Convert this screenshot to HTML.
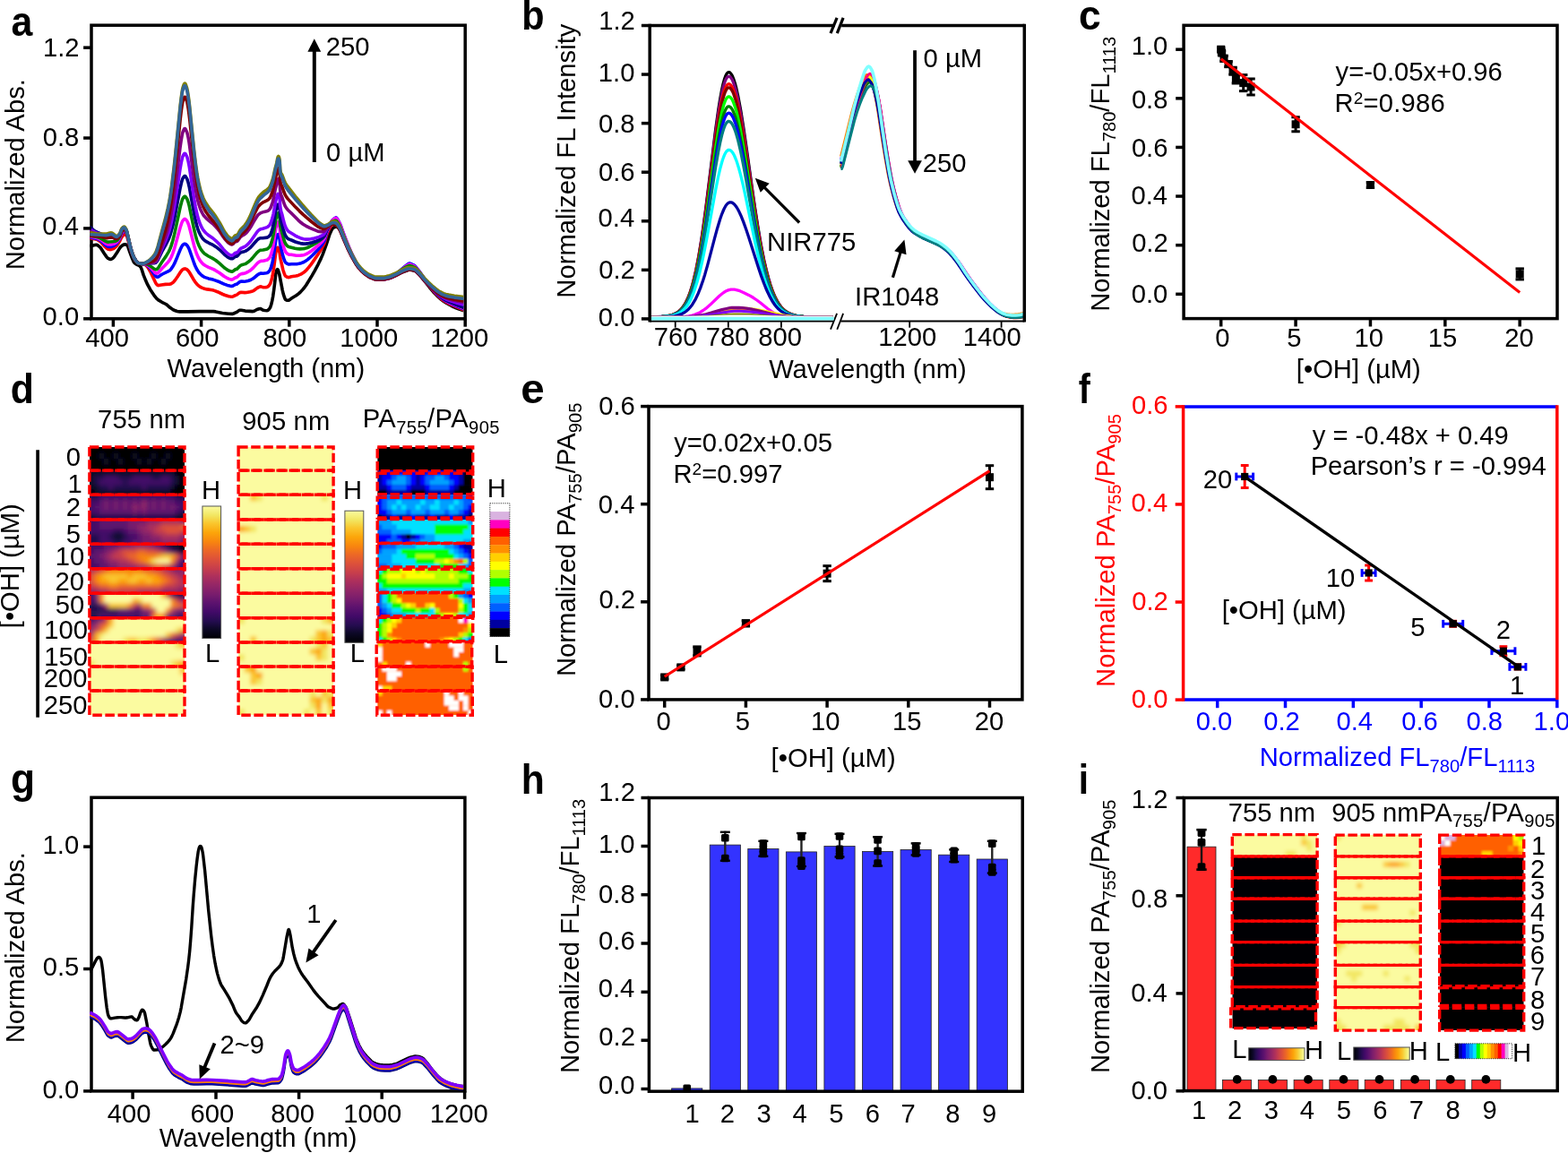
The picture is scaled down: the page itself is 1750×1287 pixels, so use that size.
<!DOCTYPE html>
<html lang="en"><head><meta charset="utf-8"><title>Figure</title>
<style>
html,body{margin:0;padding:0;background:#fff;}
body{width:1750px;height:1287px;overflow:hidden;}
svg{display:block;font-family:"Liberation Sans",Arial,Helvetica,sans-serif;}
svg text{white-space:pre;}
</style></head>
<body>
<svg width="1750" height="1287" viewBox="0 0 1750 1287">
<rect width="1750" height="1287" fill="#fff"/>
<defs><filter id="blur1_0" x="-10%" y="-50%" width="120%" height="200%"><feGaussianBlur stdDeviation="1.0"/></filter><filter id="blur1_2" x="-10%" y="-50%" width="120%" height="200%"><feGaussianBlur stdDeviation="1.2"/></filter><filter id="blur1_6" x="-10%" y="-50%" width="120%" height="200%"><feGaussianBlur stdDeviation="1.6"/></filter><filter id="blur2_0" x="-10%" y="-50%" width="120%" height="200%"><feGaussianBlur stdDeviation="2.0"/></filter><filter id="blur2_4" x="-10%" y="-50%" width="120%" height="200%"><feGaussianBlur stdDeviation="2.4"/></filter><filter id="blur3_0" x="-10%" y="-50%" width="120%" height="200%"><feGaussianBlur stdDeviation="3.0"/></filter></defs>
<text x="12.52" y="39.6" font-size="46" text-anchor="start" font-weight="bold" textLength="23.81" lengthAdjust="spacingAndGlyphs">a</text>
<text x="27.2" y="301.27" font-size="29.2" text-anchor="start" transform="rotate(-90 27.2 301.27)" textLength="213.19" lengthAdjust="spacing">Normalized Abs.</text>
<text x="186.48" y="421.1" font-size="29.2" text-anchor="start" textLength="220.66" lengthAdjust="spacing">Wavelength (nm)</text>
<clipPath id="clipA"><rect x="100.2" y="28.2" width="417.20000000000005" height="327.6"/></clipPath>
<rect x="102" y="28.2" width="417.2" height="327.6" fill="none" stroke="#000" stroke-width="3.5" />
<g clip-path="url(#clipA)">
<path d="M100.2 274.5L102.7 274.3L105.7 273.5L107.2 273.2L108.2 273.3L109.2 273.8L111.7 276L112.7 277.2L116.2 282.8L118.7 286.4L119.7 287.6L120.2 288.1L121.2 288.7L122.2 289.2L123.2 289.4L124.2 289.3L125.2 288.7L126.2 288L127.2 287L130.7 281.8L133.7 276.9L134.7 275.6L135.2 275.1L137.2 273.5L138.7 272.8L139.2 272.7L140.2 272.8L141.7 273.5L142.2 274L142.7 274.9L144.7 280.8L147.7 288.8L149.2 292.2L149.7 293.1L150.7 294.1L152.2 295.1L155.2 296.4L156.2 297.2L157.2 298.3L158.2 300.8L160.2 307.1L162.7 313.3L164.7 317.7L167.7 323.2L172.7 330.7L174.7 333.2L176.7 334.9L180.7 337.3L185.2 339.5L186.7 340.7L189.7 343.3L192.7 345.4L194.2 346.3L197.7 347.5L199.2 347.8L200.2 347.9L209.2 347.9L222.7 347.6L238.2 347.6L240.7 347.9L248.2 349.5L255.2 350.2L259.2 350.4L260.7 350L263.7 348.7L264.7 348.1L266.7 346.6L267.7 346.2L269.2 346.3L273.7 347.1L278.7 347.4L282.2 347.6L282.7 347.5L283.7 347.2L286.7 345.5L289.2 344.7L290.2 344.6L290.7 344.6L291.2 344.7L293.2 346L293.7 346.2L295.7 346.5L298.2 346.7L298.7 346.5L299.7 345.8L300.7 344.6L301.7 343L302.7 340L303.7 335.9L304.7 330.6L305.7 323.5L306.7 315.5L307.7 306.1L308.2 303.8L308.7 302.2L309.2 301L309.7 300.6L310.2 301.2L310.7 302.4L311.7 305.7L315.2 323.8L316.2 328.1L317.7 332.6L318.2 333.7L318.7 334.4L319.7 335L320.7 335.3L321.7 335.3L322.2 335.2L323.2 334.6L325.7 332.8L330.7 329.8L333.2 327.9L335.2 326.1L337.7 323.4L339.7 321L341.7 318.2L348.2 307.6L351.2 302.3L355.2 294.8L358.2 288.6L360.2 283.9L364.2 272.9L367.7 262.1L369.7 257.5L370.7 255.6L371.2 254.9L371.7 254.4L372.7 253.9L374.2 253.3L375.2 253.2L375.7 253.2L376.7 253.7L378.2 254.9L379.2 256L379.7 256.9L380.7 259L383.2 265.3L387.2 274.7L389.7 280.2L393.2 287.1L396.2 292.5L398.2 295.8L400.7 299.2L403.7 302.4L406.7 305.1L411.2 308.6L412.7 309.5L414.7 310.4L417.2 311.4L418.7 311.8L420.2 312L428.2 311.9L431.2 311.3L434.2 310.5L436.2 309.8L442.7 307L449.2 303.7L454.7 301.7L456.2 301.3L458.2 301.3L460.7 301.7L462.7 302.2L463.7 302.7L464.7 303.5L468.2 306.8L470.2 309.1L479.2 320.5L483.7 325.9L487.7 330.1L492.2 334.1L494.7 336L497.7 337.9L502.2 340.5L505.7 342.3L508.2 343.5L511.7 344.8L514.7 345.8L517.7 346.7" fill="none" stroke="#000000" stroke-width="3.6" stroke-linejoin="round" />
<path d="M100.2 265.3L102.7 266.2L107.7 267.2L109.2 267.9L111.7 269.6L112.7 270.4L116.2 274.4L119.2 277.3L120.7 278.2L122.2 278.5L123.2 278.6L124.2 278.4L126.7 277.5L127.7 276.8L129.2 275.5L130.7 273.8L131.7 272.4L133.7 269.1L135.7 264.8L137.2 262.8L138.2 261.9L138.7 261.6L139.2 261.6L140.2 262.1L141.2 263L141.7 264L142.2 265.4L145.7 277.9L146.7 281.2L148.7 286.4L150.2 289.2L152.2 291.9L153.7 293.3L154.2 293.6L156.2 294.2L160.2 294.8L161.2 295L162.7 295.9L163.7 296.9L165.7 299.5L167.7 303L173.7 315.7L174.7 317.2L175.2 317.8L176.2 318.5L176.7 318.6L177.2 318.6L180.2 318L184.7 317.4L189.2 317.3L190.2 317.1L191.2 316.6L193.2 315.2L194.2 314.2L195.2 313L198.2 308.8L201.7 303.3L203.2 301.4L203.7 301L205.2 300.2L206.2 299.9L206.7 300L207.7 300.4L208.7 300.9L209.7 301.8L210.7 303L211.7 304.5L216.7 313.1L217.7 314.6L220.2 317.7L221.7 319L223.2 320.1L225.7 321.4L228.2 322.2L231.2 322.9L237.2 323.8L239.2 324.4L242.7 325.7L248.7 328.5L251.2 329.5L255.2 330.7L257.2 331.1L258.7 331.2L259.2 331.2L260.2 330.9L262.7 329.6L264.2 329.1L265.2 328.4L266.7 327.2L267.7 326.6L269.2 326.3L273.2 326.6L275.2 326.5L279.2 325.8L281.7 325L282.7 324.6L283.7 324L287.2 321.4L288.7 320.6L290.2 320L291.2 319.9L293.2 320.6L293.7 320.7L296.7 320.6L298.2 320.4L298.7 320.2L299.7 319.3L300.7 318.1L301.7 316.5L302.7 313.6L303.7 309.7L304.2 307.5L305.2 301.6L306.2 294.7L307.7 282.5L308.7 278.7L309.2 277.2L309.7 276.4L310.2 276.4L310.7 277.3L311.7 280.3L312.2 282.8L312.7 286.8L313.2 289.6L315.7 300.5L316.2 302.3L317.2 305.2L318.2 307.5L318.7 308.2L319.7 308.8L320.7 309.3L321.7 309.6L322.7 309.5L325.2 308.8L330.2 308L332.7 307.4L335.7 306.2L338.7 304.3L340.2 303.1L342.2 301.2L344.2 298.9L347.2 295.1L350.2 290.9L354.7 284.3L358.7 278L360.2 275.2L361.7 272.2L362.2 270.7L364.2 263.5L366.2 257.9L367.2 255.9L369.7 251.7L370.7 250.6L371.7 249.9L372.7 249.5L373.7 249.3L374.7 249.3L375.2 249.3L375.7 249.7L376.7 250.8L379.2 254.9L380.7 258.3L383.2 264.7L386.2 272L388.7 277.8L392.7 286.1L397.2 294.2L399.7 298.1L402.7 301.6L405.7 304.5L409.7 307.5L411.7 308.7L413.2 309.5L416.7 310.9L418.7 311.5L420.2 311.6L427.2 311.6L430.2 311.3L435.2 310L439.7 308.2L443.2 305.8L449.2 301.3L453.2 298.7L455.2 297.6L456.7 297L457.2 297L459.7 297.7L462.7 299.1L463.7 299.9L464.7 300.9L468.2 305L472.7 311.2L475.2 314.5L483.7 324.7L487.2 328.6L490.2 331.6L492.2 333.3L493.7 334.5L496.2 336.2L498.7 337.7L501.2 339L508.2 342.2L517.7 346.2" fill="none" stroke="#ff0000" stroke-width="3.6" stroke-linejoin="round" />
<path d="M100.2 264.4L103.2 265.5L107.7 266.4L109.2 266.9L111.7 268.3L112.7 269L116.2 272.3L119.2 274.7L120.7 275.3L122.2 275.5L123.7 275.5L126.2 274.6L127.2 274.1L128.7 273.1L130.2 271.7L131.7 269.7L133.7 266.3L135.2 262.4L135.7 261.2L136.2 260.4L137.7 258.4L138.2 258.1L138.7 257.9L139.2 258L139.7 258.3L140.7 259.3L141.2 260L141.7 261.3L145.7 277L146.7 280.5L148.2 284.7L149.2 287.1L150.2 288.9L151.7 291.1L153.2 292.9L154.2 293.6L156.7 294.3L161.7 294.8L162.7 295.2L164.2 296.2L165.7 297.5L167.7 299.8L172.2 306.2L173.7 308.2L174.7 309L175.7 309.2L176.7 309L179.7 306.9L181.2 306L188.7 302.4L189.7 301.7L190.7 300.6L193.2 297L194.7 294.2L197.7 287.2L201.2 278.5L202.7 275.4L203.7 273.8L204.2 273.3L205.7 272.3L206.2 272.2L206.7 272.3L207.7 272.9L208.7 273.8L209.7 275.3L210.7 277.2L211.7 279.7L216.7 294L217.7 296.5L219.2 299.7L220.2 301.6L221.7 303.8L222.7 305.1L224.2 306.6L226.7 308.5L228.2 309.3L229.7 309.9L232.7 310.9L237.7 312.1L240.7 313.1L245.2 314.8L250.2 317.1L253.7 318.4L257.2 319.2L258.2 319.4L259.2 319.4L260.2 319L262.7 317.5L264.2 317.2L264.7 316.9L267.2 314.8L268.2 314.3L269.7 314.1L272.7 314.2L274.2 314L276.7 313.5L279.7 312.5L282.7 310.8L287.2 307L288.7 306L290.2 305.3L291.2 305.1L293.7 305.3L297.2 304.8L298.2 304.6L298.7 304.3L299.7 303.5L300.7 302.3L301.7 300.6L302.7 297.8L303.7 294L304.2 291.9L305.2 286.3L306.2 279.7L307.7 268.4L308.2 266.2L309.2 262.9L309.7 261.8L310.2 261.6L310.7 262.3L311.2 263.5L311.7 265.1L312.2 267.6L312.7 272.5L313.2 275.3L315.7 285.4L317.2 290L318.2 292.3L318.7 293L319.7 293.8L320.7 294.4L322.2 295L323.2 295L325.2 294.8L331.2 294.7L333.7 294.3L336.2 293.7L339.2 292.5L341.2 291.3L343.2 289.9L345.2 288.2L349.2 284.5L355.2 278.2L359.2 273.3L361.7 269.3L362.2 268L364.2 261.2L365.7 256.9L366.7 254.5L368.2 251.5L370.2 246.9L371.2 245.6L372.7 244.2L374.7 242.9L375.2 242.9L375.7 243.3L376.7 244.7L379.2 249.3L380.2 251.7L383.2 260.1L386.7 269.3L389.2 275.5L392.7 283.4L397.7 293.5L399.7 297L402.2 300.1L403.7 301.7L405.7 303.6L409.2 306.4L411.2 307.7L413.2 308.8L416.7 310.3L419.2 311L420.2 311.1L428.2 311.3L430.7 310.9L434.2 310.2L437.2 309.2L439.7 308.2L440.2 307.9L443.2 305.2L448.7 300.1L453.2 296.4L455.2 294.9L456.7 294.1L457.2 294L457.7 294.2L459.7 295L462.2 296.2L463.2 297L464.2 298L468.2 303L473.7 311L480.2 319.5L483.7 323.7L486.2 326.6L489.2 329.6L491.7 331.9L493.7 333.5L495.7 334.9L498.2 336.4L500.7 337.7L507.2 340.8L517.7 345.2" fill="none" stroke="#0000ff" stroke-width="3.6" stroke-linejoin="round" />
<path d="M100.2 263.5L103.2 264.5L108.2 265.6L110.2 266.4L112.7 267.7L116.7 270.9L118.7 272.2L119.7 272.7L121.2 273L123.7 273L126.7 272.2L127.7 271.9L129.2 271L130.7 269.8L132.2 267.7L133.7 265.2L135.2 261.3L135.7 260.1L136.2 259.3L137.7 257.4L138.2 257.1L138.7 256.9L139.2 257.1L139.7 257.4L140.7 258.6L141.2 259.4L141.7 260.7L146.2 278.7L148.2 284.6L149.7 288L152.2 291.8L153.2 292.9L153.7 293.3L154.7 293.7L157.2 294.3L161.7 294.7L162.7 294.9L163.7 295.4L165.7 296.7L167.2 298L168.7 299.5L172.2 303.4L173.2 304.4L174.2 305L174.7 305.1L175.2 305.1L175.7 304.9L176.7 304.2L180.7 299.7L184.2 296.2L187.2 293L188.7 291.2L190.2 288.8L191.2 286.7L192.7 283.1L194.7 277.3L196.2 272.1L201.2 253.7L202.7 249.1L203.7 246.8L204.7 245.5L205.7 244.6L206.2 244.4L206.7 244.5L207.7 245.4L208.7 246.6L209.2 247.5L210.2 250L211.2 253L216.7 274.5L218.2 279.5L219.7 283.8L220.7 286.1L222.2 289.1L223.7 291.4L225.2 293.2L226.2 294.3L227.7 295.5L229.2 296.5L232.7 298.3L237.7 300.4L240.2 301.7L245.2 304.8L250.2 308.5L253.2 310.3L255.7 311.4L257.7 312L258.7 312.1L259.2 312L260.2 311.6L262.7 309.9L263.2 309.7L264.2 309.6L264.7 309.2L267.2 306.8L268.2 306.1L269.7 305.6L272.7 305.1L274.2 304.7L276.2 303.7L278.7 302.3L280.2 301.1L282.7 298.9L287.2 293.9L288.7 292.7L289.7 292L290.7 291.5L291.2 291.4L293.7 291.3L297.7 290.3L298.7 289.8L300.2 288.4L301.2 286.9L301.7 286L302.7 283.2L303.7 279.6L304.7 275.1L305.2 272.3L307.7 255.4L309.2 249.8L309.7 248.5L310.2 248L310.7 248.5L311.2 249.6L311.7 251.2L312.2 253.9L312.7 259.6L313.2 262.6L315.7 272.6L317.2 277.7L318.2 280.2L318.7 281.1L319.7 282.3L320.7 283.2L321.7 283.8L322.2 284L323.2 284.2L325.2 284.3L330.7 285.2L332.7 285.3L334.7 285.3L337.2 284.9L339.7 284.4L341.7 283.6L344.2 282.2L347.7 279.9L351.2 277.2L355.2 273.9L358.2 271L360.2 268.7L361.7 266.6L362.2 265.5L364.2 259.7L365.7 256L366.7 253.9L368.2 251.3L370.2 247.1L371.2 245.8L372.7 244.5L374.7 243.4L375.2 243.4L375.7 243.8L376.7 245.1L379.2 249.7L380.2 252.1L383.2 260.4L386.7 269.5L389.2 275.7L392.7 283.6L397.7 293.6L400.2 297.7L402.7 300.7L405.7 303.6L409.7 306.7L411.7 308L413.2 308.8L416.7 310.3L419.2 311L420.2 311.1L428.2 311.3L430.7 310.9L434.2 310.2L437.2 309.2L440.2 307.9L443.2 305.4L448.7 300.6L453.7 296.8L455.2 295.8L456.7 295.1L457.2 295L458.2 295.3L460.2 296.1L462.2 297L463.2 297.7L464.2 298.7L468.2 303.5L473.7 311.3L477.7 316.4L481.7 321.3L484.7 324.8L486.7 326.9L489.7 329.8L492.2 332L493.7 333.2L496.2 334.8L498.7 336.2L501.2 337.5L508.2 340.5L517.7 344.2" fill="none" stroke="#ff00ff" stroke-width="3.6" stroke-linejoin="round" />
<path d="M100.2 262.7L103.2 263.6L108.2 264.5L110.2 265.1L112.7 266.2L116.7 268.6L118.7 269.6L119.7 270L120.7 270.1L122.2 270L125.2 269.7L127.7 269.5L128.7 269.3L129.7 268.9L130.7 268.2L131.2 267.7L132.2 266.4L133.7 264.1L135.2 260.1L135.7 258.9L136.2 258.2L137.7 256.4L138.2 256.1L138.7 256L139.2 256.2L139.7 256.6L140.7 257.8L141.2 258.7L141.7 260.2L145.7 276.6L146.7 280.2L147.7 283.1L148.7 285.7L149.7 287.9L152.2 291.8L153.2 292.9L153.7 293.3L154.2 293.6L155.7 294L158.2 294.5L162.2 294.5L163.2 294.7L164.2 295.1L165.7 295.7L167.2 296.6L171.2 299.4L172.7 300.4L173.7 300.7L174.2 300.8L174.7 300.7L175.7 300L176.7 298.9L180.7 292.5L185.2 286.1L188.2 281.1L189.2 279.1L190.2 276.8L191.2 273.9L192.7 269L194.7 261.4L201.2 231L202.7 225.2L203.7 222.2L204.7 220.5L205.7 219.4L206.2 219.2L206.7 219.3L207.7 220.4L208.7 221.9L209.2 223.1L210.2 226.1L211.2 229.8L216.7 256.5L218.2 262.7L219.7 268L220.7 270.9L222.2 274.5L223.7 277.4L225.2 279.7L226.2 281L227.7 282.6L229.2 283.8L232.7 286L238.2 288.9L240.7 290.5L245.2 294.1L250.2 298.7L253.2 300.9L254.7 301.8L255.7 302.3L257.7 303L258.7 303.1L259.2 303.1L260.2 302.6L262.7 300.7L263.2 300.5L263.7 300.5L264.2 300.4L264.7 300.1L267.7 296.9L268.7 296.2L269.7 295.8L272.7 294.9L273.7 294.6L275.2 293.7L277.2 292.3L279.2 290.7L280.2 289.7L282.7 286.9L286.7 282.1L288.2 280.7L289.2 280L290.7 279.2L293.7 279L298.2 277.9L299.2 277.3L300.7 275.8L301.7 274.2L302.2 273L303.2 269.9L304.2 266.2L305.2 261.3L307.7 245.6L309.2 240.1L309.7 238.6L310.2 238L310.7 238.5L311.2 239.6L311.7 241.2L312.2 244.1L312.7 250.4L313.2 253.5L313.7 255.7L316.7 266.9L317.7 270L318.7 272.1L319.7 273.4L320.7 274.5L321.7 275.2L322.2 275.5L329.2 277.2L332.2 277.7L334.7 277.9L337.7 277.7L340.2 277.4L342.2 276.8L345.2 275.5L348.2 273.9L353.7 270.6L356.2 269L359.7 266.2L361.7 264L362.2 263L364.2 258.2L365.7 255.1L366.7 253.4L370.2 248L371.2 247.2L372.2 246.7L373.2 246.4L374.7 246.3L375.2 246.4L376.2 247.3L377.2 248.7L379.2 252.2L380.2 254.5L383.2 262.4L386.7 271.1L389.2 277L392.7 284.5L397.7 293.9L400.2 297.7L402.7 300.6L405.7 303.5L409.7 306.5L411.7 307.7L413.2 308.5L416.7 309.9L418.7 310.5L420.2 310.6L427.2 310.6L429.7 310.4L435.2 309L439.7 307.2L443.2 304.9L449.2 300.5L453.2 298.1L455.2 297.1L456.7 296.5L457.2 296.5L460.2 297.3L462.7 298.3L463.7 299.1L464.7 300.1L468.2 304L472.7 310.1L475.2 313.2L483.7 323.1L487.2 326.8L490.2 329.7L492.2 331.4L493.7 332.5L496.2 334.1L498.7 335.5L501.2 336.7L508.2 339.6L517.7 343.2" fill="none" stroke="#008000" stroke-width="3.6" stroke-linejoin="round" />
<path d="M100.2 253.3L104.2 256.7L106.7 258.4L108.2 259.2L111.2 260.5L113.2 261.4L118.7 264.6L119.7 264.9L120.7 265.1L122.2 265.1L124.2 264.8L125.2 264.9L128.2 266L129.2 266.2L130.2 266.1L131.2 265.6L132.2 264.6L133.2 263.4L133.7 262.6L134.2 261.5L135.7 257.6L136.7 256.3L137.7 255.3L138.2 255L138.7 255L139.2 255.2L139.7 255.7L140.7 257.1L141.2 258.1L141.7 259.6L145.7 276.5L146.7 280.1L147.7 283L148.7 285.7L149.7 287.9L151.2 290.3L152.7 292.4L153.7 293.3L154.2 293.6L156.2 294.1L158.2 294.4L159.7 294.4L163.2 293.9L171.2 293.8L172.7 293.6L173.7 293.3L174.2 292.9L175.2 291.8L176.7 289.3L180.7 280.9L184.7 273.8L187.2 269L188.7 265.7L190.2 261.6L192.7 252.6L194.7 243.8L201.2 209.5L202.2 205L203.2 201.2L203.7 199.7L204.2 198.7L205.2 197.2L205.7 196.7L206.2 196.5L206.7 196.6L207.2 197.1L208.7 199.6L209.2 200.9L210.2 204.3L211.2 208.5L216.7 238.9L218.2 246L219.7 252L220.7 255.3L222.2 259.3L223.7 262.4L225.2 264.8L226.2 266.2L227.2 267.3L228.2 268.2L230.7 269.9L233.2 271.3L237.7 273.4L241.2 275.7L245.2 278.8L250.7 284.3L253.7 286.7L255.2 287.6L257.2 288.5L258.2 288.8L259.2 288.8L259.7 288.6L262.2 286.5L262.7 286.1L263.2 286L263.7 286.1L264.2 286.1L264.7 285.8L265.7 284.9L267.7 282.6L268.7 281.9L269.7 281.5L272.7 280.7L273.7 280.4L275.2 279.6L277.2 278.2L279.7 276.1L286.2 268.7L287.7 267.3L288.7 266.5L289.7 266.1L290.7 265.7L293.2 265.7L298.2 265.1L299.2 264.7L300.7 263.4L301.7 262L302.2 260.9L303.2 258.1L304.2 254.7L305.2 250.2L307.7 235.7L309.7 228.8L310.2 228.1L310.7 228.5L311.2 229.5L311.7 231.3L312.2 234.3L312.7 241.2L313.2 244.3L316.2 256L317.2 259.4L318.2 262.1L319.2 263.9L320.7 265.8L321.7 266.6L322.2 266.9L325.2 268L329.7 270L332.2 270.8L335.2 271.6L338.7 272.1L341.2 272.1L344.7 271.6L348.2 270.8L352.2 269.5L355.2 268.3L358.2 266.7L360.2 265.2L361.7 263.7L362.2 262.9L364.7 257.1L366.2 254.2L368.7 250.5L369.7 249.2L370.2 248.7L371.2 248.1L372.2 247.9L373.7 248L375.2 248.3L375.7 248.7L376.7 249.8L379.2 253.9L380.7 257.3L383.2 263.7L386.2 271L388.7 276.8L392.7 285.1L397.2 293.2L399.7 297.1L401.2 299L403.2 301.2L406.2 304L410.2 307.1L413.2 308.8L416.7 310.3L418.7 310.9L420.2 311.1L426.7 311.3L429.2 311.2L434.7 310L436.7 309.4L439.7 308.2L443.2 306.2L449.2 302.3L453.2 300.3L455.2 299.4L456.2 299.1L457.2 299L459.7 299.4L462.2 300.1L463.2 300.6L464.2 301.4L467.7 305L473.7 312.4L480.2 319.5L484.7 324.7L488.7 328.7L492.2 331.7L493.7 332.8L496.2 334.4L498.7 335.7L501.2 336.9L508.2 339.8L517.7 343.2" fill="none" stroke="#000080" stroke-width="3.6" stroke-linejoin="round" />
<path d="M100.2 255.8L104.2 258.2L106.7 259.5L108.2 260.1L112.7 261.5L118.7 264.1L119.7 264.4L120.7 264.4L124.7 264L125.7 264.3L128.2 265.5L129.7 265.8L130.2 265.8L131.2 265.3L132.7 263.8L133.7 262.5L135.7 257.5L137.2 255.7L138.2 255L138.7 255L139.2 255.3L139.7 255.7L140.7 257.2L141.2 258.1L141.7 259.6L145.7 276.5L146.7 280.1L148.2 284.4L149.7 287.9L151.2 290.3L152.7 292.4L153.7 293.3L154.2 293.6L156.7 294.3L158.7 294.5L159.7 294.4L163.2 293.8L170.7 293.3L172.2 292.9L173.7 292.2L174.7 291.2L176.2 288.6L180.7 277.7L184.7 268.8L187.7 261.1L189.7 254.8L191.7 246.2L194.2 233.2L195.7 224.1L201.2 187.6L202.2 182L203.2 177.3L203.7 175.4L204.2 174.1L205.2 172.2L205.7 171.5L206.2 171.3L206.7 171.4L207.2 172L208.7 175L209.2 176.5L210.2 180.7L211.2 185.8L216.7 222.3L218.2 230.8L219.7 238L220.7 242.1L222.2 247L223.7 250.9L225.2 254L226.2 255.7L227.2 257.2L228.7 259L230.2 260.5L232.2 262.2L237.7 266L240.7 268.6L245.2 273.1L249.2 278.1L250.7 279.8L253.2 282.2L255.2 283.8L257.7 285L258.7 285.2L259.2 285.1L260.2 284.5L261.7 283L262.7 282.3L263.2 282.1L263.7 282.2L264.2 282.2L264.7 281.9L265.7 280.9L267.7 278.3L268.7 277.4L269.7 276.8L272.7 275.5L273.7 275L275.2 273.9L277.2 272L279.7 269.2L286.7 259.2L287.7 258L288.7 257L289.7 256.4L290.7 255.8L293.2 255.2L298.2 253.6L299.7 252.5L300.7 251.5L301.7 249.9L302.2 248.8L303.2 245.9L304.2 242.6L305.2 238.3L307.7 224.5L309.7 217.3L310.2 216.3L310.7 216.6L311.2 217.6L311.7 219.3L312.2 222.5L312.7 230.1L313.2 233.4L313.7 235.7L314.7 239L316.7 247.3L318.2 252.2L318.7 253.4L319.7 255.3L320.7 256.8L321.7 258L322.7 258.7L329.2 262.8L332.2 264.4L335.2 265.7L338.7 266.7L341.2 267.1L343.7 267.1L346.7 266.8L349.2 266.4L354.2 265.1L356.2 264.4L359.2 263L360.7 262.1L361.7 261.2L362.2 260.5L364.2 256.6L366.2 253.4L368.7 250.4L370.2 249L371.2 248.6L372.2 248.5L373.7 248.8L375.2 249.3L375.7 249.6L376.7 250.7L379.2 254.7L380.7 258.1L383.2 264.4L386.2 271.6L388.7 277.2L392.7 285.3L397.2 293.3L399.7 297.1L401.2 299L403.2 301.2L404.7 302.7L406.7 304.5L410.7 307.4L412.2 308.3L413.7 309L416.7 310.3L418.7 310.9L420.2 311.1L426.7 311.3L429.2 311.2L434.7 310L438.7 308.6L442.7 306.6L449.2 302.9L453.2 301L455.2 300.3L456.7 300L457.7 300L459.7 300.3L462.2 300.9L463.2 301.4L464.2 302.1L467.7 305.5L473.7 312.7L485.2 324.8L489.2 328.4L492.2 330.8L493.7 331.8L496.2 333.1L498.7 334.3L501.2 335.3L508.2 337.6L517.7 340.3" fill="none" stroke="#8000ff" stroke-width="3.6" stroke-linejoin="round" />
<path d="M100.2 258.3L103.7 259.7L106.2 260.5L112.7 262L118.2 263.6L119.2 263.8L120.2 263.8L123.7 263.2L124.7 263.2L125.7 263.5L128.7 264.9L129.7 265.1L130.2 265L130.7 264.8L131.7 264.1L132.7 263L133.7 261.7L135.2 257.7L135.7 256.5L136.2 255.8L137.2 254.7L137.7 254.3L138.2 254L138.7 254L139.2 254.3L139.7 254.9L140.7 256.4L141.2 257.4L141.7 259L145.7 276.3L146.7 279.9L148.2 284.3L149.7 287.8L151.2 290.3L152.7 292.3L153.7 293.3L154.7 293.7L157.2 294.3L159.2 294.4L162.7 293.9L168.7 293.5L170.7 293.2L171.7 293L172.7 292.5L173.7 291.9L174.2 291.3L175.2 289.8L176.7 286.4L180.7 274.8L184.2 265.1L187.2 255.5L188.7 249.9L189.7 245.6L191.7 235L194.2 218.9L195.7 207.7L201.2 163.4L202.2 156.6L203.2 150.9L203.7 148.6L204.2 147L205.2 144.6L205.7 143.8L206.2 143.5L206.7 143.7L207.2 144.4L208.7 147.7L209.2 149.4L210.2 154.1L211.2 159.9L216.7 201.2L218.2 210.8L219.7 219L220.7 223.5L222.2 229L223.7 233.4L225.2 236.7L226.2 238.6L227.2 240.3L228.2 241.6L230.7 244.2L233.2 246.4L237.2 249.5L238.7 250.9L240.7 253L243.2 255.9L245.2 258.4L249.2 264.5L250.7 266.5L253.7 269.9L254.7 270.8L255.7 271.6L257.7 272.7L258.7 272.9L259.2 272.9L260.2 272.2L261.7 270.5L262.7 269.7L263.2 269.5L263.7 269.7L264.2 269.6L264.7 269.4L265.7 268.3L267.7 265.4L268.7 264.2L269.7 263.5L272.7 261.7L273.7 261L275.2 259.6L276.7 257.8L278.7 255.1L279.7 253.6L283.2 247.4L286.2 242.5L287.7 240.3L288.7 239.3L290.2 238.1L291.7 237.4L294.7 236.4L297.7 235.8L298.7 235.4L300.2 234.4L301.2 233.3L301.7 232.5L302.7 230.2L304.2 225.8L305.2 221.8L307.2 211.4L308.7 205.7L309.7 201.1L310.2 199.7L310.7 199.6L311.2 200.2L311.7 201.7L312.2 204.7L312.7 213L313.2 216L313.7 217.8L314.7 219.9L316.7 226.2L318.2 230L319.7 232.4L321.2 234.2L324.7 237.5L332.7 245.6L335.7 248.3L338.2 250.2L341.2 252.1L345.7 254.4L349.2 255.9L354.2 257.9L356.2 258.4L359.2 258.7L360.7 258.5L361.7 258.1L362.2 257.7L365.2 254.3L366.7 252.8L369.2 250.8L370.7 250.1L371.7 250L372.7 250.2L373.7 250.6L375.7 251.6L376.2 252.1L377.2 253.3L379.2 256.6L380.7 259.9L383.2 266.1L386.2 273.1L388.7 278.7L392.2 285.7L396.7 293.6L399.2 297.4L400.7 299.4L402.7 301.6L404.2 303.2L406.2 305L410.2 307.9L413.2 309.6L416.7 311.1L418.7 311.7L420.2 311.9L427.2 312L428.7 311.9L430.7 311.6L434.2 310.8L437.2 309.7L442.7 307.2L449.2 303.7L454.7 301.4L456.2 301L457.7 301L459.7 301.2L462.2 301.8L463.2 302.2L464.2 303L467.7 306.3L474.7 314.4L478.2 318L484.2 323.9L487.2 326.5L491.7 329.9L493.7 331L495.7 331.9L498.2 332.9L500.7 333.7L507.2 335.4L517.7 337.5" fill="none" stroke="#800080" stroke-width="3.6" stroke-linejoin="round" />
<path d="M100.2 263.4L102.7 263.5L107.7 263.5L109.2 263.6L112.2 264L116.2 265.1L118.7 265.6L120.2 265.6L123.2 265L124.7 264.8L125.7 265.1L128.7 266.4L129.7 266.5L130.2 266.4L130.7 266.2L131.7 265.5L132.7 264.4L133.7 263.1L135.2 259.4L135.7 258.3L136.2 257.7L137.7 256.2L138.2 256L138.7 255.9L139.2 256.2L139.7 256.6L140.7 258L141.2 258.9L141.7 260.3L145.7 276.7L146.7 280.3L148.2 284.6L149.2 287L150.2 288.8L151.7 291.1L153.2 292.9L154.2 293.6L156.7 294.3L158.7 294.5L160.2 294.3L166.2 292.9L170.2 291.6L171.7 290.8L172.7 290.1L173.7 289.2L174.2 288.5L175.7 285.5L177.2 281.3L184.2 258.5L185.7 253L187.2 246.8L188.7 239.8L189.7 234.5L191.7 221.4L194.2 201.6L195.7 187.8L201.2 133L202.2 124.6L203.2 117.4L203.7 114.6L204.2 112.6L205.2 109.6L205.7 108.6L206.2 108.2L206.7 108.4L207.2 109.2L208.7 113.5L209.2 115.7L210.2 121.6L211.7 133.3L216.2 175.9L218.2 192.5L219.7 202.9L220.7 208.7L222.2 216L223.7 221.8L225.2 226.5L226.7 230.4L228.2 233.6L230.2 237L233.2 241.2L238.2 247L242.2 252.2L245.2 256.5L249.2 263.1L250.7 265.3L253.2 268.4L255.2 270.4L257.7 271.9L258.7 272.1L259.2 272.1L260.2 271.3L261.7 269.6L262.7 268.7L263.2 268.4L263.7 268.6L264.2 268.5L264.7 268.1L265.7 266.9L267.7 263.6L268.7 262.2L273.2 258.2L274.7 256.4L276.2 254.3L278.2 250.9L279.7 248.1L283.2 240.3L286.2 234.1L287.7 231.4L288.7 230L290.2 228.4L292.2 226.8L294.7 225.3L297.7 223.9L299.2 223L300.2 222.2L301.2 220.9L301.7 220L302.7 217.7L304.7 211.7L305.2 209.6L307.2 199.7L308.7 194.3L309.7 189.4L310.2 187.7L310.7 187.4L311.2 187.9L311.7 189.4L312.2 192.5L312.7 201.4L313.2 204.5L313.7 206.1L314.7 207.7L316.7 213.7L318.2 217.4L319.7 219.9L321.2 221.9L330.2 231.6L334.2 235.6L338.2 239.4L342.2 242.9L347.7 247.5L353.2 251.7L355.7 253.4L358.2 254.6L359.7 255.2L360.7 255.4L361.7 255.3L363.2 254.6L366.2 252.5L368.7 251L370.2 250.3L371.2 250L372.2 250.1L373.7 250.6L375.7 251.6L376.2 252.1L377.2 253.3L378.2 254.9L379.7 257.6L383.2 266.1L388.2 277.6L392.2 285.7L396.2 292.8L398.7 296.7L401.7 300.5L403.2 302.1L405.2 304L408.7 306.8L410.7 308.1L412.7 309.2L416.2 310.7L418.2 311.4L420.2 311.6L428.2 311.6L430.2 311.3L433.7 310.5L436.7 309.5L442.7 306.8L449.2 303.4L454.7 301.3L456.2 301L457.7 301L459.7 301.2L462.2 301.7L463.2 302.1L464.2 302.8L467.7 306.1L474.2 313.5L477.7 317L483.7 322.8L486.7 325.5L489.7 327.7L491.7 329.1L493.7 330.2L495.7 331L498.2 332L500.7 332.7L507.2 334.2L517.7 336" fill="none" stroke="#800000" stroke-width="3.6" stroke-linejoin="round" />
<path d="M100.2 259.7L104.7 260.4L107.7 260.8L117.7 261.1L119.2 261L122.7 260L124.2 259.9L124.7 260L125.7 260.4L128.2 262.4L129.2 263.1L130.2 263.4L130.7 263.3L131.2 263.1L132.2 262.3L133.7 260.6L135.2 256.6L135.7 255.4L136.2 254.7L137.2 253.7L137.7 253.3L138.2 253.1L138.7 253.1L139.2 253.4L139.7 254L140.7 255.6L141.2 256.7L141.7 258.4L143.2 265.4L145.7 276.1L146.7 279.8L148.2 284.2L149.2 286.7L150.2 288.6L151.7 291L153.2 292.9L153.7 293.3L154.7 293.7L156.2 294.1L157.7 294.4L158.7 294.4L159.7 294.3L161.7 293.5L164.7 291.9L166.2 290.8L167.7 289.5L169.2 288.1L170.7 286.4L172.7 283.7L174.2 280.9L175.2 278.2L176.2 275L180.7 257.9L184.2 245.3L187.2 232.8L188.7 225.5L189.7 220L191.7 206.5L194.2 186.3L195.7 172.3L201.2 117.4L202.2 109.1L203.2 102L203.7 99.2L204.2 97.3L205.2 94.4L205.7 93.5L206.2 93L206.7 93.3L207.2 94.1L208.7 98.6L209.2 100.9L210.2 107.1L211.2 114.6L211.7 119.3L216.7 168.7L218.2 181.4L219.7 192.2L220.7 198.3L222.2 205.8L223.7 211.8L225.2 216.7L226.7 220.7L228.2 224L229.7 226.6L232.7 231.1L237.7 237.3L240.2 240.8L245.2 248.7L249.2 256.2L250.7 258.7L253.7 262.9L254.7 264L255.7 264.8L257.7 266.1L258.7 266.4L259.2 266.3L260.2 265.6L261.7 263.7L262.7 262.8L263.2 262.5L263.7 262.7L264.2 262.6L264.7 262.2L265.2 261.7L266.2 260.1L267.7 257.4L268.7 255.9L273.2 251.4L274.7 249.4L276.2 247L279.2 241.2L283.2 231.4L286.2 224.6L287.7 221.6L288.7 219.9L290.7 217.6L294.2 214.3L297.7 211.9L299.2 210.7L300.2 209.6L301.2 208.2L302.7 204.8L304.7 198.8L307.2 187.4L308.7 182.2L309.7 176.9L310.2 175L310.7 174.5L311.2 174.9L311.7 176.3L312.2 179.5L312.7 189.1L313.2 192.1L313.7 193.5L314.7 194.8L317.2 201.5L318.2 203.8L319.2 205.5L320.7 207.7L330.7 220.5L336.7 227.7L342.2 234L347.2 239.5L353.7 246.2L355.7 248.1L358.7 250.3L360.7 251.6L361.7 251.9L362.7 251.8L364.2 251.3L366.7 250L367.7 249.4L370.2 247.5L371.2 247.1L371.7 247L372.7 247.1L374.2 247.5L375.2 247.8L376.2 248.6L377.2 249.9L378.2 251.5L379.7 254.3L383.2 262.9L388.2 274.7L391.7 281.9L395.7 289.3L398.2 293.4L400.7 296.8L403.7 300.1L405.2 301.5L407.2 303.2L409.7 305L412.2 306.5L415.7 308L417.7 308.7L419.2 309.1L420.2 309.1L427.7 309.1L429.2 309L431.2 308.6L434.2 307.8L436.2 307.2L442.7 304.3L449.2 300.9L454.7 298.8L456.2 298.5L457.7 298.5L459.7 298.7L462.2 299.2L463.2 299.6L464.2 300.3L467.7 303.6L474.2 311L478.2 315L482.2 318.8L486.2 322.2L489.2 324.4L491.2 325.7L493.2 326.7L495.2 327.6L497.7 328.4L500.7 329.1L507.2 330.3L517.7 331.6" fill="none" stroke="#808000" stroke-width="3.6" stroke-linejoin="round" />
<path d="M100.2 261.7L111.7 262.2L118.2 262.7L119.7 262.5L122.7 261.7L124.2 261.5L124.7 261.6L125.7 262L128.7 264L129.7 264.3L130.2 264.4L130.7 264.3L131.7 263.6L133.2 262.1L133.7 261.5L134.2 260.3L135.7 256.4L137.2 254.6L137.7 254.2L138.2 254L138.7 254L139.2 254.3L139.7 254.9L140.7 256.4L141.2 257.4L141.7 259L145.7 276.3L146.7 279.9L148.2 284.3L149.2 286.8L150.2 288.7L151.7 291L153.2 292.9L153.7 293.3L154.7 293.7L156.2 294.1L157.7 294.4L158.7 294.4L159.7 294.3L161.7 293.6L165.2 291.9L168.2 289.7L169.7 288.4L171.2 286.8L173.2 284.1L174.2 282.3L174.7 281.1L176.2 276.7L180.7 260.1L184.2 247.8L185.7 241.9L187.2 235.4L188.7 228.1L189.7 222.7L191.7 209.2L194.2 189.1L195.7 175.1L201.2 120.1L202.2 111.7L203.2 104.6L203.7 101.8L204.2 99.9L205.2 97L205.7 96L206.2 95.6L206.7 95.8L207.2 96.7L208.7 101.1L209.2 103.4L210.2 109.7L211.2 117.2L211.7 121.9L216.2 166.6L218.2 184.1L219.7 195L220.7 201.1L222.2 208.6L223.7 214.8L225.2 219.7L226.7 223.8L228.2 227.1L229.7 229.8L233.2 235L237.7 240.5L240.7 244.6L245.2 251.6L250.2 260.6L253.2 264.8L254.2 266L255.2 266.9L257.7 268.6L258.7 268.9L259.2 268.8L260.2 268L261.7 266.2L262.7 265.3L263.2 265L263.7 265.2L264.2 265.1L264.7 264.7L265.2 264.2L266.2 262.6L267.7 260L268.7 258.6L272.7 254.7L273.7 253.6L275.2 251.5L276.7 249L278.7 245.3L279.7 243.2L283.2 234.8L286.2 228.1L287.7 225.2L288.7 223.6L289.7 222.3L291.2 220.8L294.7 217.7L298.7 214.6L299.7 213.6L300.7 212.3L301.7 210.4L302.7 207.9L304.7 201.6L307.2 189.9L308.7 184.6L309.7 179.3L310.2 177.4L310.7 177L311.2 177.4L311.7 178.8L312.2 182.1L312.7 191.6L313.2 194.6L313.7 196.2L314.7 197.6L317.2 204.8L318.2 207.2L319.7 209.9L321.2 212L330.2 223.1L339.2 233.2L344.2 238.5L348.2 242.5L353.7 247.7L356.2 249.8L359.7 252L360.7 252.5L361.7 252.7L363.2 252.5L364.7 251.9L367.2 250.8L370.2 249L371.2 248.6L372.2 248.5L373.7 248.8L375.2 249.3L376.2 250.1L377.2 251.4L378.2 253L379.7 255.8L383.2 264.4L388.2 276.2L392.2 284.4L396.2 291.6L398.7 295.7L401.2 298.9L404.2 302.1L405.7 303.5L407.7 305.1L410.2 306.8L412.2 308L416.2 309.7L418.2 310.4L420.2 310.6L428.2 310.6L430.2 310.3L433.7 309.5L436.7 308.5L442.7 305.8L449.2 302.4L454.7 300.3L456.2 300L457.7 300L459.7 300.2L462.2 300.7L463.2 301.1L464.2 301.8L467.7 305.1L474.7 313L478.7 317L483.2 321.2L486.7 324.2L489.7 326.3L491.7 327.6L493.7 328.6L495.7 329.4L498.2 330.3L500.7 330.9L507.2 332.1L517.7 333.5" fill="none" stroke="#336699" stroke-width="3.6" stroke-linejoin="round" />
</g>
<line x1="93.1" y1="355.8" x2="102" y2="355.8" stroke="#000" stroke-width="3.5" />
<line x1="93.1" y1="254.92" x2="102" y2="254.92" stroke="#000" stroke-width="3.5" />
<line x1="93.1" y1="154.04" x2="102" y2="154.04" stroke="#000" stroke-width="3.5" />
<line x1="93.1" y1="53.16" x2="102" y2="53.16" stroke="#000" stroke-width="3.5" />
<text x="47.94" y="62.7" font-size="29.2" text-anchor="start" >1.2</text>
<text x="47.69" y="163.4" font-size="29.2" text-anchor="start" >0.8</text>
<text x="47.32" y="262.4" font-size="29.2" text-anchor="start" >0.4</text>
<text x="47.57" y="363" font-size="29.2" text-anchor="start" >0.0</text>
<line x1="126.4" y1="355.8" x2="126.4" y2="364.7" stroke="#000" stroke-width="3.5" />
<line x1="224.6" y1="355.8" x2="224.6" y2="364.7" stroke="#000" stroke-width="3.5" />
<line x1="322.8" y1="355.8" x2="322.8" y2="364.7" stroke="#000" stroke-width="3.5" />
<line x1="421" y1="355.8" x2="421" y2="364.7" stroke="#000" stroke-width="3.5" />
<line x1="519.2" y1="355.8" x2="519.2" y2="364.7" stroke="#000" stroke-width="3.5" />
<text x="95.22" y="386.9" font-size="29.2" text-anchor="start" >400</text>
<text x="195.88" y="386.9" font-size="29.2" text-anchor="start" >600</text>
<text x="293.6" y="386.9" font-size="29.2" text-anchor="start" >800</text>
<text x="379.29" y="386.9" font-size="29.2" text-anchor="start" >1000</text>
<text x="480.29" y="386.9" font-size="29.2" text-anchor="start" >1200</text>
<line x1="350.8" y1="181" x2="350.8" y2="55.7" stroke="#000" stroke-width="4" />
<polygon points="350.8,43.3 358.2,57.7 343.4,57.7" fill="#000"/>
<text x="363.7" y="61.8" font-size="29.2" text-anchor="start" >250</text>
<text x="364.08" y="180.4" font-size="29.2" text-anchor="start" >0 µM</text>
<text x="582.3" y="32.6" font-size="46" text-anchor="start" font-weight="bold" textLength="25.26" lengthAdjust="spacingAndGlyphs">b</text>
<text x="641.8" y="332.67" font-size="29.2" text-anchor="start" transform="rotate(-90 641.8 332.67)" textLength="306.1" lengthAdjust="spacing">Normalized FL Intensity</text>
<text x="858.18" y="421.6" font-size="29.2" text-anchor="start" textLength="220.56" lengthAdjust="spacing">Wavelength (nm)</text>
<clipPath id="clipB"><rect x="725.2" y="28.5" width="418.0999999999999" height="332.0"/></clipPath>
<line x1="725.2" y1="358.5" x2="931" y2="358.5" stroke="#000" stroke-width="1.8" />
<line x1="938.3" y1="358.5" x2="1143.3" y2="358.5" stroke="#000" stroke-width="1.8" />
<line x1="753.7" y1="358.5" x2="753.7" y2="365.7" stroke="#000" stroke-width="1.8" />
<line x1="812.8" y1="358.5" x2="812.8" y2="365.7" stroke="#000" stroke-width="1.8" />
<line x1="871.9" y1="358.5" x2="871.9" y2="365.7" stroke="#000" stroke-width="1.8" />
<line x1="1015.2" y1="358.5" x2="1015.2" y2="365.7" stroke="#000" stroke-width="1.8" />
<line x1="1117.6" y1="358.5" x2="1117.6" y2="365.7" stroke="#000" stroke-width="1.8" />
<text x="729.73" y="386.4" font-size="29.2" text-anchor="start" >760</text>
<text x="787.73" y="386.4" font-size="29.2" text-anchor="start" >780</text>
<text x="846.25" y="386.4" font-size="29.2" text-anchor="start" >800</text>
<text x="980.19" y="386.4" font-size="29.2" text-anchor="start" >1200</text>
<text x="1074.69" y="386.4" font-size="29.2" text-anchor="start" >1400</text>
<line x1="927" y1="367.7" x2="934.1" y2="349.9" stroke="#000" stroke-width="1.8" />
<line x1="934.3" y1="367.7" x2="941.1" y2="349.9" stroke="#000" stroke-width="1.8" />
<g clip-path="url(#clipB)">
<path d="M726.7 353.7L738.7 353.3L742.7 352.9L745.7 352.5L748.7 351.9L750.7 351.3L753.7 350.1L755.7 348.9L757.7 347.5L759.7 345.6L761.7 343.3L763.7 340.5L765.7 337L767.7 332.8L769.7 327.7L770.7 324.8L772.7 318.2L773.7 314.5L776.7 301.8L779.7 286.4L782.7 268.3L784.7 254.8L787.7 232.8L798.7 144.2L801.7 122.7L803.7 110.2L805.7 99.5L806.7 95L807.7 91.1L808.7 87.7L809.7 85L810.7 82.9L811.7 81.5L812.7 80.7L813.7 80.6L814.7 81.1L815.7 82.1L816.7 83.6L817.7 85.5L818.7 88L820.7 94.3L821.7 98.2L823.7 107.1L826.7 123.1L829.7 141.8L832.7 162.2L839.7 212.1L842.7 232.7L845.7 252L848.7 269.7L850.7 280.4L852.7 290.3L855.7 303.3L857.7 310.8L859.7 317.5L861.7 323.4L863.7 328.5L865.7 332.9L867.7 336.6L869.7 339.8L871.7 342.5L873.7 344.7L876.7 347.3L879.7 349.2L882.7 350.6L885.7 351.6L888.7 352.3L892.7 352.9L896.7 353.3L907.7 353.7L929.7 353.9" fill="none" stroke="#000000" stroke-width="3.3" stroke-linejoin="round" />
<path d="M726.7 353.7L738.7 353.3L742.7 353L745.7 352.6L748.7 351.9L750.7 351.4L753.7 350.1L755.7 349L757.7 347.6L759.7 345.8L761.7 343.5L763.7 340.7L765.7 337.3L767.7 333.1L769.7 328.1L770.7 325.3L772.7 318.8L773.7 315.2L776.7 302.7L779.7 287.6L782.7 269.8L784.7 256.5L787.7 234.8L798.7 147.8L801.7 126.6L803.7 114.3L805.7 103.9L806.7 99.4L807.7 95.5L808.7 92.2L809.7 89.5L810.7 87.5L811.7 86.1L812.7 85.4L813.7 85.3L814.7 85.7L815.7 86.7L816.7 88.1L817.7 90.1L818.7 92.5L820.7 98.7L821.7 102.5L823.7 111.3L826.7 127.1L829.7 145.4L832.7 165.4L839.7 214.5L842.7 234.8L845.7 253.8L848.7 271.2L850.7 281.7L852.7 291.4L855.7 304.2L857.7 311.6L859.7 318.2L861.7 323.9L863.7 328.9L865.7 333.2L867.7 336.9L869.7 340L871.7 342.7L873.7 344.8L876.7 347.4L879.7 349.3L882.7 350.7L885.7 351.6L888.7 352.3L892.7 352.9L896.7 353.3L907.7 353.7L929.7 353.9" fill="none" stroke="#800080" stroke-width="3.3" stroke-linejoin="round" />
<path d="M726.7 353.7L738.7 353.3L742.7 353L745.7 352.6L748.7 352L750.7 351.4L753.7 350.3L755.7 349.2L757.7 347.8L759.7 346.1L761.7 343.9L763.7 341.2L765.7 337.8L767.7 333.8L769.7 328.9L770.7 326.2L772.7 319.9L773.7 316.4L776.7 304.3L779.7 289.7L782.7 272.4L784.7 259.6L787.7 238.6L798.7 154.3L801.7 133.8L803.7 121.9L805.7 111.7L806.7 107.4L807.7 103.6L808.7 100.5L809.7 97.9L810.7 95.9L811.7 94.5L812.7 93.8L813.7 93.7L814.7 94.2L815.7 95.1L816.7 96.5L817.7 98.4L818.7 100.7L820.7 106.8L821.7 110.4L823.7 118.9L826.7 134.2L829.7 151.9L832.7 171.4L839.7 218.9L842.7 238.5L845.7 256.9L848.7 273.8L850.7 284L852.7 293.3L855.7 305.7L857.7 312.9L859.7 319.3L861.7 324.9L863.7 329.7L865.7 333.9L867.7 337.5L869.7 340.5L871.7 343L873.7 345.1L876.7 347.6L879.7 349.5L882.7 350.8L885.7 351.7L888.7 352.4L892.7 353L896.7 353.3L907.7 353.7L929.7 353.9" fill="none" stroke="#ff0000" stroke-width="3.3" stroke-linejoin="round" />
<path d="M726.7 353.7L738.7 353.3L742.7 353L745.7 352.6L748.7 352L750.7 351.5L753.7 350.3L755.7 349.3L757.7 347.9L759.7 346.2L761.7 344L763.7 341.4L765.7 338.1L767.7 334.1L769.7 329.3L770.7 326.6L772.7 320.5L773.7 317L776.7 305.1L779.7 290.7L782.7 273.7L784.7 261.1L787.7 240.4L798.7 157.4L801.7 137.3L803.7 125.5L805.7 115.5L806.7 111.3L807.7 107.6L808.7 104.4L809.7 101.9L810.7 99.9L811.7 98.6L812.7 97.9L813.7 97.8L814.7 98.3L815.7 99.2L816.7 100.6L817.7 102.4L818.7 104.7L820.7 110.7L821.7 114.3L823.7 122.6L826.7 137.7L829.7 155.1L832.7 174.2L839.7 221L842.7 240.3L845.7 258.5L848.7 275L850.7 285.1L852.7 294.3L855.7 306.5L857.7 313.6L859.7 319.8L861.7 325.3L863.7 330.1L865.7 334.2L867.7 337.7L869.7 340.7L871.7 343.2L873.7 345.3L876.7 347.7L879.7 349.5L882.7 350.8L885.7 351.8L888.7 352.4L892.7 353L896.7 353.3L907.7 353.7L929.7 353.9" fill="none" stroke="#800000" stroke-width="3.3" stroke-linejoin="round" />
<path d="M726.7 353.7L738.7 353.4L742.7 353.1L745.7 352.7L748.7 352.1L750.7 351.6L753.7 350.5L755.7 349.5L757.7 348.2L759.7 346.5L761.7 344.4L763.7 341.9L765.7 338.7L767.7 334.9L769.7 330.3L770.7 327.7L772.7 321.8L773.7 318.5L776.7 307L779.7 293.2L782.7 276.9L784.7 264.8L787.7 244.9L798.7 165.2L801.7 145.8L803.7 134.5L805.7 124.9L806.7 120.9L807.7 117.3L808.7 114.3L809.7 111.8L810.7 109.9L811.7 108.7L812.7 108L813.7 107.9L814.7 108.3L815.7 109.2L816.7 110.5L817.7 112.3L818.7 114.6L820.7 120.3L821.7 123.7L823.7 131.7L826.7 146.2L829.7 163L832.7 181.3L839.7 226.2L842.7 244.8L845.7 262.2L848.7 278.1L850.7 287.8L852.7 296.6L855.7 308.4L857.7 315.2L859.7 321.2L861.7 326.5L863.7 331.1L865.7 335L867.7 338.4L869.7 341.2L871.7 343.6L873.7 345.6L876.7 348L879.7 349.7L882.7 351L885.7 351.9L888.7 352.5L892.7 353L896.7 353.4L907.7 353.8L929.7 354" fill="none" stroke="#00ff00" stroke-width="3.3" stroke-linejoin="round" />
<path d="M726.7 353.8L738.7 353.4L742.7 353.1L745.7 352.8L748.7 352.2L750.7 351.7L753.7 350.7L755.7 349.7L757.7 348.4L759.7 346.9L761.7 344.9L763.7 342.4L765.7 339.4L767.7 335.8L769.7 331.4L770.7 328.9L772.7 323.2L773.7 320.1L776.7 309.1L779.7 295.9L782.7 280.3L784.7 268.7L787.7 249.7L798.7 173.5L801.7 155L803.7 144.3L805.7 135.1L806.7 131.2L807.7 127.8L808.7 124.9L809.7 122.6L810.7 120.8L811.7 119.5L812.7 118.9L813.7 118.8L814.7 119.2L815.7 120.1L816.7 121.3L817.7 123L818.7 125.2L820.7 130.6L821.7 133.9L823.7 141.6L826.7 155.4L829.7 171.4L832.7 189L839.7 231.9L842.7 249.7L845.7 266.3L848.7 281.5L850.7 290.7L852.7 299.2L855.7 310.4L857.7 316.9L859.7 322.7L861.7 327.7L863.7 332.1L865.7 335.9L867.7 339.1L869.7 341.8L871.7 344.1L873.7 346L876.7 348.3L879.7 349.9L882.7 351.1L885.7 352L888.7 352.6L892.7 353.1L896.7 353.4L907.7 353.8L929.7 354" fill="none" stroke="#008000" stroke-width="3.3" stroke-linejoin="round" />
<path d="M726.7 353.8L738.7 353.4L742.7 353.2L745.7 352.8L748.7 352.3L750.7 351.8L753.7 350.8L755.7 349.8L757.7 348.6L759.7 347.1L761.7 345.2L763.7 342.8L765.7 339.9L767.7 336.3L769.7 332.1L770.7 329.7L772.7 324.2L773.7 321.2L776.7 310.5L779.7 297.7L782.7 282.6L784.7 271.4L787.7 253L798.7 179.2L801.7 161.3L803.7 150.8L805.7 142L806.7 138.2L807.7 134.9L808.7 132.1L809.7 129.8L810.7 128.1L811.7 126.9L812.7 126.3L813.7 126.2L814.7 126.6L815.7 127.4L816.7 128.6L817.7 130.3L818.7 132.3L820.7 137.6L821.7 140.8L823.7 148.2L826.7 161.6L829.7 177.1L832.7 194.1L839.7 235.7L842.7 252.9L845.7 269.1L848.7 283.8L850.7 292.7L852.7 300.9L855.7 311.8L857.7 318.1L859.7 323.7L861.7 328.5L863.7 332.8L865.7 336.4L867.7 339.6L869.7 342.2L871.7 344.4L873.7 346.3L876.7 348.4L879.7 350.1L882.7 351.2L885.7 352L888.7 352.6L892.7 353.1L896.7 353.4L907.7 353.8L929.7 354" fill="none" stroke="#0000ff" stroke-width="3.3" stroke-linejoin="round" />
<path d="M726.7 353.8L738.7 353.5L742.7 353.2L745.7 352.9L748.7 352.4L750.7 351.9L753.7 350.9L755.7 350L757.7 348.8L759.7 347.4L761.7 345.5L763.7 343.3L765.7 340.5L767.7 337.1L769.7 333L770.7 330.7L772.7 325.4L773.7 322.5L776.7 312.3L779.7 300L782.7 285.5L784.7 274.8L787.7 257.1L798.7 186.3L801.7 169.1L803.7 159.1L805.7 150.6L806.7 147L807.7 143.8L808.7 141.1L809.7 138.9L810.7 137.3L811.7 136.1L812.7 135.5L813.7 135.5L814.7 135.8L815.7 136.6L816.7 137.8L817.7 139.4L818.7 141.4L820.7 146.4L821.7 149.5L823.7 156.6L826.7 169.5L829.7 184.3L832.7 200.7L839.7 240.6L842.7 257.1L845.7 272.5L848.7 286.7L850.7 295.2L852.7 303.1L855.7 313.5L857.7 319.5L859.7 324.9L861.7 329.6L863.7 333.7L865.7 337.2L867.7 340.2L869.7 342.7L871.7 344.8L873.7 346.6L876.7 348.7L879.7 350.2L882.7 351.3L885.7 352.1L888.7 352.7L892.7 353.2L896.7 353.5L907.7 353.8L929.7 354" fill="none" stroke="#008080" stroke-width="3.3" stroke-linejoin="round" />
<path d="M726.7 353.9L738.7 353.6L745.7 353.1L748.7 352.7L751.7 352L754.7 351.1L756.7 350.3L758.7 349.2L760.7 347.8L762.7 346.1L764.7 344L766.7 341.4L768.7 338.3L770.7 334.5L771.7 332.4L773.7 327.7L774.7 325L777.7 315.8L780.7 304.8L783.7 292L785.7 282.5L788.7 267L798.7 211.9L801.7 197L803.7 188.4L805.7 181L806.7 177.8L807.7 175L808.7 172.6L809.7 170.7L810.7 169.2L811.7 168.1L812.7 167.5L813.7 167.4L814.7 167.6L815.7 168.2L816.7 169.2L817.7 170.4L818.7 172.1L819.7 174L821.7 178.8L822.7 181.7L824.7 188.2L826.7 195.6L829.7 208.2L832.7 222.1L842.7 270.3L845.7 283.6L848.7 295.8L850.7 303.1L852.7 309.9L855.7 318.9L857.7 324.1L859.7 328.8L861.7 332.8L863.7 336.3L865.7 339.4L867.7 342L869.7 344.2L871.7 346L873.7 347.6L876.7 349.4L879.7 350.7L882.7 351.7L885.7 352.4L888.7 352.9L892.7 353.3L896.7 353.6L907.7 353.9L929.7 354" fill="none" stroke="#00ffff" stroke-width="3.3" stroke-linejoin="round" />
<path d="M726.7 354L738.7 353.8L746.7 353.5L752.7 352.8L755.7 352.2L757.7 351.6L759.7 350.9L761.7 350L763.7 348.9L765.7 347.5L767.7 345.8L769.7 343.7L772.7 339.9L775.7 334.9L778.7 328.8L781.7 321.4L784.7 312.8L786.7 306.4L789.7 295.9L797.7 265.4L800.7 254.4L803.7 244.5L805.7 238.8L807.7 234L808.7 232L809.7 230.2L810.7 228.7L811.7 227.5L812.7 226.7L813.7 226.1L814.7 225.8L815.7 225.8L816.7 226.1L817.7 226.6L818.7 227.3L819.7 228.2L820.7 229.4L821.7 230.7L823.7 234L824.7 235.9L826.7 240.2L829.7 247.6L832.7 256L835.7 265.1L846.7 299.6L849.7 308.4L852.7 316.5L854.7 321.5L856.7 326.1L859.7 332.2L862.7 337.3L864.7 340.2L866.7 342.7L868.7 344.8L870.7 346.6L872.7 348L874.7 349.2L876.7 350.2L879.7 351.4L881.7 351.9L884.7 352.6L890.7 353.4L898.7 353.8L909.7 354L929.7 354.1" fill="none" stroke="#0000a0" stroke-width="3.3" stroke-linejoin="round" />
<path d="M726.7 354.2L749.7 354.1L755.7 354L760.7 353.7L764.7 353.4L768.7 352.8L772.7 352L775.7 351L778.7 349.9L781.7 348.4L784.7 346.5L787.7 344.4L792.7 340.1L802.7 330.5L805.7 328L807.7 326.5L810.7 324.7L812.7 323.9L814.7 323.4L815.7 323.2L817.7 323.1L819.7 323.2L821.7 323.6L823.7 324.1L825.7 324.7L830.7 326.9L835.7 329.4L840.7 332.3L844.7 335L848.7 338L856.7 344.5L860.7 347.4L863.7 349.3L865.7 350.3L867.7 351.2L870.7 352.2L873.7 352.9L876.7 353.4L880.7 353.8L884.7 354L896.7 354.2L929.7 354.2" fill="none" stroke="#ff00ff" stroke-width="3.3" stroke-linejoin="round" />
<path d="M726.7 354.2L752.7 354.2L764.7 354.1L773.7 353.8L781.7 353.3L788.7 352.4L795.7 351.1L801.7 349.7L813.7 346.5L818.7 345.5L821.7 345L824.7 344.6L829.7 344.4L832.7 344.5L836.7 344.7L840.7 345.2L845.7 345.9L854.7 347.5L872.7 351.6L877.7 352.5L883.7 353.2L890.7 353.7L899.7 354.1L910.7 354.2L929.7 354.2" fill="none" stroke="#ffff00" stroke-width="3.3" stroke-linejoin="round" />
<path d="M726.7 354.2L760.7 354.1L769.7 353.9L777.7 353.4L784.7 352.7L790.7 351.8L796.7 350.7L808.7 348.3L813.7 347.4L819.7 346.8L824.7 346.6L831.7 346.8L840.7 347.7L849.7 349L868.7 352.3L873.7 353L879.7 353.5L886.7 353.9L895.7 354.1L929.7 354.3" fill="none" stroke="#ff8000" stroke-width="3" stroke-linejoin="round" />
<path d="M726.7 354.2L747.7 354.2L758.7 354L767.7 353.6L774.7 353L781.7 352L787.7 350.8L793.7 349.2L805.7 345.7L810.7 344.5L813.7 343.9L816.7 343.5L821.7 343.3L824.7 343.4L828.7 343.7L832.7 344.1L837.7 344.9L846.7 346.8L860.7 350.4L865.7 351.5L870.7 352.4L876.7 353.2L884.7 353.8L893.7 354.1L906.7 354.2L929.7 354.2" fill="none" stroke="#800080" stroke-width="3.3" stroke-linejoin="round" />
<path d="M726.7 354.3L759.7 354.1L768.7 353.9L776.7 353.5L783.7 352.8L789.7 352L795.7 351L807.7 348.7L812.7 347.9L818.7 347.3L823.7 347.1L830.7 347.4L839.7 348.2L848.7 349.4L867.7 352.5L872.7 353.1L878.7 353.6L886.7 354L895.7 354.1L929.7 354.3" fill="none" stroke="#8000ff" stroke-width="3" stroke-linejoin="round" />
<path d="M726.7 354.3L760.7 354.2L777.7 353.9L790.7 353.2L813.7 351.3L818.7 351.1L823.7 351L829.7 351.1L835.7 351.3L861.7 353.2L876.7 353.9L894.7 354.2L929.7 354.3" fill="none" stroke="#808000" stroke-width="3" stroke-linejoin="round" />
<path d="M726.7 354.3L760.7 354.2L777.7 354.1L790.7 353.8L813.7 353L823.7 352.9L835.7 353L861.7 353.8L876.7 354.1L894.7 354.2L929.7 354.3" fill="none" stroke="#ffffff" stroke-width="3" stroke-linejoin="round" />
<path d="M726.7 355.7L930.7 355.7" fill="none" stroke="#80ffff" stroke-width="3.8" stroke-linejoin="round" />
<path d="M938.5 185.9L939.5 183.9L953.5 127.9L956.5 117.3L959.5 107.8L961.5 102.1L964.5 94.4L965.5 92.1L966.5 90.2L968.5 87.7L969.5 86.7L970.5 86.3L971.5 86.6L972.5 87.6L973.5 89L974.5 90.6L975.5 93.2L977.5 100.4L979.5 109.2L981.5 119.9L982.5 126.1L987.5 159.4L990.5 178.1L993.5 195L994.5 200L996.5 209L999.5 220.5L1001.5 227.2L1003.5 233.3L1004.5 235.9L1006.5 240L1009.5 245.1L1013.5 250.7L1016.5 254.5L1018.5 256.6L1021.5 259.1L1025.5 261.7L1030.5 264.4L1045.5 271.1L1049.5 273.1L1052.5 275L1055.5 277.2L1058.5 279.7L1060.5 281.5L1062.5 283.7L1064.5 286L1069.5 292.5L1072.5 296.8L1078.5 306L1082.5 311.7L1088.5 319.9L1095.5 328.9L1099.5 333.6L1104.5 338.9L1108.5 342.7L1112.5 346.1L1115.5 348.3L1118.5 350L1121.5 351.4L1123.5 352.1L1124.5 352.3L1128.5 353L1130.5 353.2L1132.5 353.3L1137.5 353L1140.5 352.5L1142.5 352.1" fill="none" stroke="#000000" stroke-width="3" stroke-linejoin="round" />
<path d="M938.5 187L939.5 187L948.5 150.9L954.5 126.3L958.5 111.9L961.5 102.3L965.5 91.1L966.5 88.7L967.5 87L969.5 84.4L970.5 83.7L971.5 83.7L972.5 84.4L973.5 85.8L974.5 87.4L975.5 89.7L976.5 93L977.5 96.8L979.5 105.6L981.5 116.5L982.5 122.5L987.5 156.7L990.5 175.9L993.5 193.3L994.5 198.6L996.5 207.9L999.5 219.8L1001.5 226.8L1003.5 233.1L1004.5 235.9L1005.5 238.2L1007.5 242.2L1009.5 245.5L1012.5 249.9L1016.5 255.1L1019.5 258.4L1022.5 260.7L1026.5 263.3L1031.5 265.9L1045.5 272.1L1049.5 274.1L1052.5 276L1055.5 278.1L1058.5 280.5L1060.5 282.3L1062.5 284.4L1064.5 286.7L1070.5 294.5L1073.5 298.9L1078.5 306.6L1082.5 312.4L1088.5 320.6L1096.5 331L1100.5 335.6L1105.5 340.8L1108.5 343.7L1113.5 348L1116.5 350.1L1120.5 352.3L1123.5 353.5L1125.5 353.9L1129.5 354.6L1131.5 354.7L1133.5 354.7L1138.5 354.4L1142.5 353.7" fill="none" stroke="#ff0000" stroke-width="3" stroke-linejoin="round" />
<path d="M938.5 182.9L951.5 131.2L954.5 120.7L957.5 111.5L960.5 103.6L963.5 96.7L964.5 94.8L965.5 93.2L966.5 92.2L967.5 91.2L968.5 90.5L969.5 90.4L970.5 91L971.5 92.1L972.5 93.4L973.5 95.2L974.5 97.9L976.5 104.8L978.5 113.4L980.5 123.8L987.5 168.5L990.5 186L992.5 196.8L993.5 201.6L995.5 210.3L998.5 221.5L1000.5 228.2L1002.5 234.1L1003.5 236.5L1005.5 240.5L1008.5 245.5L1012.5 251L1015.5 254.7L1017.5 256.8L1020.5 259.2L1024.5 261.7L1029.5 264.4L1043.5 270.6L1047.5 272.5L1050.5 274.3L1053.5 276.4L1056.5 278.8L1058.5 280.6L1060.5 282.6L1062.5 284.9L1068.5 292.7L1071.5 297L1077.5 306.1L1081.5 311.8L1087.5 319.9L1094.5 328.9L1098.5 333.5L1103.5 338.8L1107.5 342.5L1111.5 345.9L1114.5 348L1117.5 349.7L1119.5 350.7L1122.5 351.7L1125.5 352.3L1129.5 352.8L1133.5 352.7L1137.5 352.3L1142.5 351.3" fill="none" stroke="#0000ff" stroke-width="3" stroke-linejoin="round" />
<path d="M938.5 185.7L939.5 185.7L940.5 182.5L954.5 126.3L957.5 115.8L960.5 106.2L962.5 100.4L965.5 92.6L966.5 90.3L967.5 88.5L969.5 86L970.5 85.1L971.5 84.9L972.5 85.5L973.5 86.6L974.5 88.1L975.5 90L976.5 93L978.5 100.5L980.5 109.8L982.5 121L988.5 161L990.5 173.6L993.5 191L994.5 196.3L996.5 205.8L999.5 217.8L1001.5 224.7L1003.5 231.2L1005.5 236.4L1007.5 240.4L1009.5 243.9L1012.5 248.3L1016.5 253.5L1019.5 256.8L1022.5 259.2L1026.5 261.8L1031.5 264.4L1046.5 271.1L1050.5 273.2L1053.5 275.1L1056.5 277.3L1059.5 279.8L1061.5 281.7L1063.5 283.9L1065.5 286.3L1070.5 292.8L1073.5 297.2L1079.5 306.4L1083.5 312.1L1089.5 320.2L1096.5 329.2L1100.5 333.9L1105.5 339.2L1109.5 342.9L1113.5 346.3L1116.5 348.5L1119.5 350.2L1122.5 351.5L1125.5 352.4L1129.5 353.1L1132.5 353.3L1137.5 353L1140.5 352.6L1142.5 352.2" fill="none" stroke="#ff00ff" stroke-width="3" stroke-linejoin="round" />
<path d="M938.5 187.8L939.5 186.2L953.5 130.9L955.5 123.9L958.5 114.6L960.5 109.1L962.5 104.1L965.5 97.3L966.5 95.5L968.5 93.1L969.5 92.2L970.5 91.7L971.5 91.9L972.5 92.8L974.5 95.4L975.5 97.7L977.5 104.3L978.5 108.1L979.5 112.5L981.5 122.7L982.5 128.6L988.5 167.4L991.5 185.3L994.5 201.4L997.5 214.4L1000.5 225.2L1003.5 234.7L1004.5 237.3L1006.5 241.4L1009.5 246.5L1013.5 252.1L1016.5 255.9L1018.5 258L1019.5 259L1021.5 260.5L1025.5 263.1L1030.5 265.8L1045.5 272.4L1049.5 274.5L1052.5 276.3L1055.5 278.5L1058.5 281L1060.5 282.8L1062.5 284.9L1064.5 287.2L1069.5 293.7L1072.5 297.9L1078.5 307.1L1082.5 312.8L1088.5 320.9L1095.5 329.9L1099.5 334.6L1104.5 339.9L1108.5 343.7L1112.5 347.1L1115.5 349.3L1118.5 351L1121.5 352.4L1123.5 353.1L1124.5 353.3L1129.5 354.2L1132.5 354.3L1137.5 354L1140.5 353.5L1142.5 353.1" fill="none" stroke="#008000" stroke-width="3" stroke-linejoin="round" />
<path d="M938.5 180.3L951.5 128.5L954.5 117.9L957.5 108.6L960.5 100.5L963.5 93.4L964.5 91.5L965.5 90.2L967.5 88.1L968.5 87.6L969.5 87.8L970.5 88.7L971.5 89.9L972.5 91.4L973.5 93.7L975.5 100.4L976.5 104.2L977.5 108.6L979.5 118.8L980.5 124.6L986.5 163.6L989.5 181.6L992.5 197.8L995.5 211L998.5 222.1L1001.5 231.6L1002.5 234.3L1004.5 238.6L1007.5 243.8L1011.5 249.4L1014.5 253.3L1017.5 256.4L1020.5 258.8L1024.5 261.2L1029.5 263.9L1043.5 270L1047.5 272L1050.5 273.9L1053.5 276L1056.5 278.5L1058.5 280.3L1060.5 282.4L1062.5 284.7L1067.5 291.2L1070.5 295.4L1076.5 304.6L1080.5 310.4L1086.5 318.5L1094.5 328.8L1098.5 333.4L1103.5 338.6L1106.5 341.4L1111.5 345.7L1114.5 347.8L1117.5 349.4L1119.5 350.3L1121.5 351L1125.5 351.8L1127.5 352.1L1129.5 352.3L1133.5 352.2L1137.5 351.7L1141.5 350.9L1142.5 350.8" fill="none" stroke="#000080" stroke-width="3" stroke-linejoin="round" />
<path d="M938.5 178.3L951.5 125.9L954.5 115.2L957.5 105.5L959.5 99.6L962.5 91.7L963.5 89.3L964.5 87.4L966.5 84.8L967.5 83.9L968.5 83.5L969.5 84L970.5 85.1L971.5 86.6L972.5 88.4L973.5 91.2L975.5 98.6L977.5 107.8L979.5 118.8L985.5 158.8L988.5 177.4L991.5 194.3L992.5 199.3L994.5 208.2L997.5 219.7L999.5 226.4L1001.5 232.5L1002.5 235L1004.5 239.1L1007.5 244.2L1011.5 249.8L1014.5 253.6L1016.5 255.7L1019.5 258.2L1023.5 260.7L1028.5 263.4L1043.5 270.1L1047.5 272.2L1050.5 274.1L1053.5 276.2L1056.5 278.8L1058.5 280.6L1060.5 282.8L1062.5 285.2L1067.5 291.7L1070.5 296L1076.5 305.2L1080.5 310.9L1086.5 319.1L1093.5 328.2L1097.5 332.9L1102.5 338.2L1106.5 341.9L1111.5 346.1L1114.5 348.2L1117.5 349.8L1119.5 350.7L1121.5 351.3L1125.5 352.1L1128.5 352.4L1133.5 352.3L1137.5 351.9L1141.5 351L1142.5 351" fill="none" stroke="#8000ff" stroke-width="3" stroke-linejoin="round" />
<path d="M938.5 186.4L939.5 186.4L940.5 184L954.5 128L957.5 117.4L960.5 107.9L962.5 102.1L965.5 94.4L966.5 92L967.5 90.1L969.5 87.6L970.5 86.6L971.5 86.3L972.5 86.7L973.5 87.7L974.5 89.1L975.5 90.8L976.5 93.6L978.5 100.8L980.5 109.8L982.5 120.7L988.5 160.5L991.5 179.1L994.5 196L995.5 201L997.5 209.9L1000.5 221.3L1002.5 228.1L1004.5 234.1L1005.5 236.6L1006.5 238.8L1007.5 240.7L1009.5 244.2L1012.5 248.6L1016.5 253.9L1019.5 257.2L1022.5 259.7L1026.5 262.3L1031.5 264.9L1046.5 271.6L1050.5 273.7L1053.5 275.6L1056.5 277.7L1059.5 280.2L1061.5 282.1L1063.5 284.3L1065.5 286.6L1070.5 293.1L1073.5 297.5L1079.5 306.7L1083.5 312.4L1089.5 320.5L1096.5 329.5L1100.5 334.2L1105.5 339.5L1109.5 343.3L1113.5 346.7L1116.5 348.9L1119.5 350.6L1122.5 352L1124.5 352.6L1125.5 352.9L1129.5 353.6L1132.5 353.8L1137.5 353.5L1140.5 353.2L1142.5 352.8" fill="none" stroke="#800080" stroke-width="3" stroke-linejoin="round" />
<path d="M938.5 186.5L939.5 185.7L954.5 125.1L957.5 114.4L960.5 104.5L964.5 93.1L965.5 90.5L966.5 88.3L967.5 86.7L969.5 84.2L970.5 83.6L971.5 83.7L972.5 84.6L973.5 86L974.5 87.7L975.5 90.1L977.5 97.5L979.5 106.4L981.5 117.3L982.5 123.5L987.5 157.6L990.5 176.7L993.5 193.9L994.5 199.1L996.5 208.3L999.5 220.1L1001.5 226.9L1003.5 233.2L1004.5 235.9L1006.5 240.2L1009.5 245.3L1013.5 251L1016.5 254.9L1019.5 258.1L1022.5 260.4L1026.5 262.9L1031.5 265.5L1045.5 271.7L1049.5 273.7L1052.5 275.6L1055.5 277.7L1058.5 280.2L1060.5 282L1062.5 284.1L1064.5 286.5L1070.5 294.3L1072.5 297.2L1078.5 306.4L1082.5 312.2L1088.5 320.4L1095.5 329.5L1099.5 334.2L1104.5 339.6L1108.5 343.4L1112.5 346.8L1115.5 349.1L1118.5 350.8L1121.5 352.3L1123.5 353L1124.5 353.3L1129.5 354.1L1132.5 354.3L1137.5 354L1140.5 353.5L1142.5 353.1" fill="none" stroke="#800000" stroke-width="3" stroke-linejoin="round" />
<path d="M938.5 186.3L952.5 130.6L955.5 120L958.5 110.7L961.5 102.6L964.5 95.5L965.5 93.5L966.5 92L967.5 90.8L968.5 89.8L969.5 89.1L970.5 89.1L971.5 89.8L972.5 90.9L973.5 92.3L974.5 94.3L975.5 97.2L977.5 104.4L979.5 113.5L981.5 124.4L987.5 163.4L989.5 175.7L992.5 192.8L993.5 198L995.5 207.2L998.5 219L1000.5 225.9L1002.5 232.2L1003.5 235L1004.5 237.3L1006.5 241.2L1008.5 244.6L1011.5 248.9L1015.5 254.2L1018.5 257.4L1021.5 259.7L1025.5 262.2L1030.5 264.9L1044.5 271L1048.5 273L1051.5 274.9L1054.5 277L1057.5 279.4L1059.5 281.2L1061.5 283.3L1063.5 285.6L1069.5 293.3L1072.5 297.7L1077.5 305.4L1081.5 311.1L1087.5 319.3L1095.5 329.6L1099.5 334.2L1104.5 339.4L1107.5 342.3L1112.5 346.5L1115.5 348.6L1119.5 350.8L1122.5 352L1125.5 352.6L1129.5 353.2L1133.5 353.2L1138.5 352.8L1142.5 351.9" fill="none" stroke="#808000" stroke-width="3" stroke-linejoin="round" />
<path d="M938.5 174.7L950.5 126.4L953.5 115.6L956.5 105.9L959.5 97.3L962.5 89.8L963.5 87.8L964.5 86.3L966.5 84.1L967.5 83.5L968.5 83.7L969.5 84.6L970.5 85.9L971.5 87.5L972.5 89.9L974.5 97L975.5 100.9L976.5 105.5L978.5 116.1L979.5 122.1L984.5 155.3L987.5 174L990.5 191.1L991.5 196.2L993.5 205.4L996.5 217.1L998.5 223.9L1000.5 230.2L1001.5 232.9L1003.5 237.2L1006.5 242.3L1010.5 248L1013.5 251.9L1016.5 255.1L1019.5 257.4L1023.5 259.9L1028.5 262.5L1042.5 268.7L1046.5 270.7L1049.5 272.6L1052.5 274.7L1055.5 277.2L1057.5 279L1059.5 281.1L1061.5 283.5L1066.5 290L1069.5 294.2L1075.5 303.4L1079.5 309.2L1085.5 317.4L1093.5 327.7L1097.5 332.3L1102.5 337.5L1105.5 340.4L1110.5 344.6L1113.5 346.7L1116.5 348.4L1118.5 349.3L1120.5 350L1124.5 350.8L1126.5 351.1L1128.5 351.3L1132.5 351.1L1136.5 350.7L1140.5 349.9L1142.5 349.8" fill="none" stroke="#ff8000" stroke-width="3" stroke-linejoin="round" />
<path d="M938.5 183.7L952.5 127.4L955.5 116.7L958.5 107L960.5 101.2L963.5 93.2L964.5 90.9L965.5 88.9L967.5 86.3L968.5 85.3L969.5 84.9L970.5 85.3L971.5 86.3L972.5 87.7L973.5 89.4L974.5 92.1L976.5 99.4L978.5 108.4L980.5 119.3L981.5 125.6L986.5 159.1L989.5 177.8L992.5 194.8L993.5 199.8L995.5 208.8L998.5 220.3L1000.5 227.1L1002.5 233.2L1003.5 235.7L1005.5 239.9L1008.5 244.9L1012.5 250.6L1015.5 254.4L1017.5 256.5L1020.5 259L1024.5 261.6L1029.5 264.3L1044.5 271L1048.5 273L1051.5 274.9L1054.5 277.1L1057.5 279.6L1059.5 281.4L1061.5 283.6L1063.5 285.9L1068.5 292.4L1071.5 296.7L1077.5 306L1081.5 311.7L1087.5 319.8L1094.5 328.9L1098.5 333.6L1103.5 338.9L1107.5 342.7L1111.5 346.1L1114.5 348.3L1116.5 349.5L1119.5 351L1122.5 352.1L1125.5 352.7L1129.5 353.2L1133.5 353.2L1138.5 352.7L1142.5 351.8" fill="none" stroke="#ffff00" stroke-width="3" stroke-linejoin="round" />
<path d="M938.5 185.8L939.5 185.8L948.5 149.6L954.5 125L958.5 110.7L961.5 101L965.5 89.7L966.5 87.4L967.5 85.6L969.5 83.1L970.5 82.3L971.5 82.3L972.5 83.1L973.5 84.4L974.5 86L975.5 88.3L976.5 91.6L977.5 95.5L979.5 104.3L981.5 115.2L982.5 121.3L987.5 155.4L990.5 174.7L993.5 192.1L994.5 197.4L996.5 206.7L999.5 218.7L1001.5 225.6L1003.5 231.9L1004.5 234.7L1005.5 237.1L1007.5 241L1009.5 244.4L1012.5 248.8L1016.5 254L1019.5 257.2L1022.5 259.6L1026.5 262.1L1031.5 264.8L1045.5 271L1049.5 273L1052.5 274.8L1055.5 277L1058.5 279.4L1060.5 281.2L1062.5 283.3L1064.5 285.6L1070.5 293.5L1073.5 297.8L1078.5 305.6L1082.5 311.3L1088.5 319.6L1096.5 329.9L1100.5 334.6L1105.5 339.8L1108.5 342.7L1113.5 346.9L1116.5 349.1L1120.5 351.3L1123.5 352.5L1125.5 352.9L1129.5 353.6L1131.5 353.7L1133.5 353.7L1138.5 353.4L1142.5 352.7" fill="none" stroke="#ff0080" stroke-width="3" stroke-linejoin="round" />
<path d="M938.5 182.9L951.5 131L954.5 120.3L957.5 110.9L960.5 102.6L963.5 95.4L964.5 93.4L965.5 91.9L966.5 90.7L967.5 89.7L968.5 89.1L969.5 89.1L970.5 89.8L972.5 92.5L973.5 94.5L974.5 97.5L976.5 104.8L978.5 113.9L980.5 124.9L986.5 164L988.5 176.3L991.5 193.4L992.5 198.6L994.5 207.8L997.5 219.6L999.5 226.5L1001.5 232.8L1002.5 235.6L1003.5 237.9L1005.5 241.8L1007.5 245.2L1010.5 249.5L1014.5 254.8L1017.5 258L1020.5 260.3L1024.5 262.8L1029.5 265.5L1043.5 271.6L1047.5 273.6L1050.5 275.5L1053.5 277.6L1056.5 280L1058.5 281.8L1060.5 283.9L1062.5 286.2L1068.5 293.9L1071.5 298.3L1076.5 306L1080.5 311.7L1086.5 319.9L1094.5 330.2L1098.5 334.8L1103.5 340L1106.5 342.9L1111.5 347.1L1114.5 349.2L1117.5 350.9L1119.5 351.8L1121.5 352.6L1125.5 353.4L1129.5 353.9L1133.5 353.8L1137.5 353.4L1142.5 352.4" fill="none" stroke="#0000a0" stroke-width="3" stroke-linejoin="round" />
<path d="M938.5 188.6L939.5 188.6L940.5 185.8L953.5 135.1L956.5 125L959.5 116.4L962.5 109L966.5 100.7L967.5 99.1L969.5 96.9L970.5 96.1L971.5 95.7L972.5 96L973.5 96.9L974.5 97.9L975.5 99.3L976.5 101.7L978.5 108.1L979.5 111.8L980.5 116.2L982.5 126.2L983.5 132.2L989.5 170.4L992.5 187.9L995.5 203.6L997.5 212.3L1000.5 223.6L1002.5 230.2L1004.5 236.1L1005.5 238.6L1007.5 242.6L1010.5 247.6L1014.5 253.1L1017.5 256.8L1019.5 258.9L1022.5 261.3L1026.5 263.9L1031.5 266.5L1046.5 273.1L1050.5 275.2L1053.5 277L1056.5 279.2L1059.5 281.7L1061.5 283.6L1063.5 285.7L1065.5 288.1L1070.5 294.5L1073.5 298.8L1079.5 307.9L1083.5 313.6L1089.5 321.6L1096.5 330.6L1100.5 335.2L1105.5 340.4L1109.5 344.2L1113.5 347.5L1116.5 349.7L1119.5 351.4L1122.5 352.8L1125.5 353.6L1129.5 354.3L1132.5 354.5L1137.5 354.3L1140.5 353.9L1142.5 353.5" fill="none" stroke="#008080" stroke-width="3" stroke-linejoin="round" />
<path d="M938.5 180.4L946.5 147.9L953.5 118.7L957.5 103.8L960.5 93.4L963.5 84L964.5 81.2L965.5 78.8L967.5 75.6L968.5 74.5L969.5 74L970.5 74.5L971.5 75.7L972.5 77.4L973.5 79.4L974.5 82.6L975.5 86.7L977.5 95.8L980.5 113.3L985.5 148.8L988.5 168.9L991.5 186.8L993.5 197.4L994.5 202.1L997.5 214.4L999.5 221.5L1001.5 228.1L1003.5 233.6L1005.5 237.7L1007.5 241.2L1010.5 245.7L1014.5 251.1L1017.5 254.4L1020.5 256.9L1024.5 259.5L1029.5 262.2L1044.5 269L1048.5 271L1051.5 272.9L1054.5 275.2L1057.5 277.7L1059.5 279.6L1061.5 281.8L1063.5 284.2L1068.5 290.7L1071.5 295.1L1077.5 304.4L1081.5 310.2L1087.5 318.4L1094.5 327.5L1098.5 332.3L1103.5 337.6L1107.5 341.4L1111.5 344.9L1114.5 347.1L1117.5 348.8L1119.5 349.8L1122.5 350.9L1125.5 351.5L1129.5 352L1133.5 352L1136.5 351.7L1138.5 351.4L1142.5 350.5" fill="none" stroke="#80ffff" stroke-width="3.6" stroke-linejoin="round" />
</g>
<line x1="725.2" y1="26.75" x2="725.2" y2="359.4" stroke="#000" stroke-width="3.5" />
<line x1="1143.3" y1="26.75" x2="1143.3" y2="359.4" stroke="#000" stroke-width="3.5" />
<line x1="715.9" y1="28.5" x2="931.6" y2="28.5" stroke="#000" stroke-width="3.5" />
<line x1="939.2" y1="28.5" x2="1143.3" y2="28.5" stroke="#000" stroke-width="3.5" />
<line x1="927" y1="37.1" x2="934.1" y2="19.8" stroke="#000" stroke-width="3.2" />
<line x1="934.3" y1="37.2" x2="941.1" y2="19.8" stroke="#000" stroke-width="3.2" />
<line x1="715.9" y1="355.9" x2="725.2" y2="355.9" stroke="#000" stroke-width="3.5" />
<line x1="715.9" y1="301.33" x2="725.2" y2="301.33" stroke="#000" stroke-width="3.5" />
<line x1="715.9" y1="246.76" x2="725.2" y2="246.76" stroke="#000" stroke-width="3.5" />
<line x1="715.9" y1="192.19" x2="725.2" y2="192.19" stroke="#000" stroke-width="3.5" />
<line x1="715.9" y1="137.62" x2="725.2" y2="137.62" stroke="#000" stroke-width="3.5" />
<line x1="715.9" y1="83.05" x2="725.2" y2="83.05" stroke="#000" stroke-width="3.5" />
<text x="668.24" y="32.8" font-size="29.2" text-anchor="start" >1.2</text>
<text x="667.87" y="90.6" font-size="29.2" text-anchor="start" >1.0</text>
<text x="667.99" y="147.5" font-size="29.2" text-anchor="start" >0.8</text>
<text x="667.99" y="202" font-size="29.2" text-anchor="start" >0.6</text>
<text x="667.62" y="252.6" font-size="29.2" text-anchor="start" >0.4</text>
<text x="668.24" y="311.2" font-size="29.2" text-anchor="start" >0.2</text>
<text x="667.87" y="364.2" font-size="29.2" text-anchor="start" >0.0</text>
<text x="856.03" y="279.9" font-size="29.2" text-anchor="start" textLength="99.14" lengthAdjust="spacing">NIR775</text>
<text x="954.08" y="340.8" font-size="29.2" text-anchor="start" >IR1048</text>
<text x="1030.58" y="74.9" font-size="29.2" text-anchor="start" >0 µM</text>
<text x="1029.7" y="192.2" font-size="29.2" text-anchor="start" >250</text>
<line x1="1021.05" y1="56.2" x2="1021.05" y2="181.3" stroke="#000" stroke-width="3.8" />
<polygon points="1021.05,193.7 1013.2,179.3 1028.9,179.3" fill="#000"/>
<line x1="892.1" y1="248.5" x2="852.3" y2="208.29" stroke="#000" stroke-width="3.2" />
<polygon points="842.8,198.7 858.68,204.79 848.73,214.64" fill="#000"/>
<line x1="996.4" y1="309.8" x2="1005.43" y2="280.4" stroke="#000" stroke-width="3.2" />
<polygon points="1009.4,267.5 1011.54,284.37 998.16,280.26" fill="#000"/>
<text x="1203.91" y="32.7" font-size="46" text-anchor="start" font-weight="bold" textLength="24.67" lengthAdjust="spacingAndGlyphs">c</text>
<text x="1237.7" y="347.77" font-size="29.2" text-anchor="start" transform="rotate(-90 1237.7 347.77)" textLength="306.99" lengthAdjust="spacing">Normalized FL<tspan font-size="20.15" dy="7.2">780</tspan><tspan dy="-7.2">/FL</tspan><tspan font-size="20.15" dy="7.2">1113</tspan></text>
<text x="1446.78" y="421.7" font-size="29.2" text-anchor="start" textLength="139.06" lengthAdjust="spacing">[•OH] (µM)</text>
<line x1="1362.7" y1="53.2" x2="1362.7" y2="57.2" stroke="#000" stroke-width="3" />
<line x1="1358" y1="53.2" x2="1367.4" y2="53.2" stroke="#000" stroke-width="3" />
<line x1="1358" y1="57.2" x2="1367.4" y2="57.2" stroke="#000" stroke-width="3" />
<rect x="1358.2" y="50.7" width="9" height="9" fill="#000" stroke="none" stroke-width="0" />
<line x1="1363.53" y1="57.02" x2="1363.53" y2="61.02" stroke="#000" stroke-width="3" />
<line x1="1358.83" y1="57.02" x2="1368.23" y2="57.02" stroke="#000" stroke-width="3" />
<line x1="1358.83" y1="61.02" x2="1368.23" y2="61.02" stroke="#000" stroke-width="3" />
<rect x="1359.03" y="54.52" width="9" height="9" fill="#000" stroke="none" stroke-width="0" />
<line x1="1366.04" y1="62.3" x2="1366.04" y2="68.3" stroke="#000" stroke-width="3" />
<line x1="1361.34" y1="62.3" x2="1370.74" y2="62.3" stroke="#000" stroke-width="3" />
<line x1="1361.34" y1="68.3" x2="1370.74" y2="68.3" stroke="#000" stroke-width="3" />
<rect x="1361.54" y="60.8" width="9" height="9" fill="#000" stroke="none" stroke-width="0" />
<line x1="1371.04" y1="68.59" x2="1371.04" y2="74.59" stroke="#000" stroke-width="3" />
<line x1="1366.34" y1="68.59" x2="1375.74" y2="68.59" stroke="#000" stroke-width="3" />
<line x1="1366.34" y1="74.59" x2="1375.74" y2="74.59" stroke="#000" stroke-width="3" />
<rect x="1366.54" y="67.09" width="9" height="9" fill="#000" stroke="none" stroke-width="0" />
<line x1="1376.04" y1="75.23" x2="1376.04" y2="83.23" stroke="#000" stroke-width="3" />
<line x1="1371.34" y1="75.23" x2="1380.74" y2="75.23" stroke="#000" stroke-width="3" />
<line x1="1371.34" y1="83.23" x2="1380.74" y2="83.23" stroke="#000" stroke-width="3" />
<rect x="1371.54" y="74.73" width="9" height="9" fill="#000" stroke="none" stroke-width="0" />
<line x1="1379.38" y1="82.97" x2="1379.38" y2="92.97" stroke="#000" stroke-width="3" />
<line x1="1374.67" y1="82.97" x2="1384.08" y2="82.97" stroke="#000" stroke-width="3" />
<line x1="1374.67" y1="92.97" x2="1384.08" y2="92.97" stroke="#000" stroke-width="3" />
<rect x="1374.88" y="83.47" width="9" height="9" fill="#000" stroke="none" stroke-width="0" />
<line x1="1387.71" y1="83.61" x2="1387.71" y2="101.61" stroke="#000" stroke-width="3" />
<line x1="1383.01" y1="83.61" x2="1392.41" y2="83.61" stroke="#000" stroke-width="3" />
<line x1="1383.01" y1="101.61" x2="1392.41" y2="101.61" stroke="#000" stroke-width="3" />
<rect x="1383.21" y="88.11" width="9" height="9" fill="#000" stroke="none" stroke-width="0" />
<line x1="1396.05" y1="87.98" x2="1396.05" y2="105.98" stroke="#000" stroke-width="3" />
<line x1="1391.35" y1="87.98" x2="1400.75" y2="87.98" stroke="#000" stroke-width="3" />
<line x1="1391.35" y1="105.98" x2="1400.75" y2="105.98" stroke="#000" stroke-width="3" />
<rect x="1391.55" y="92.48" width="9" height="9" fill="#000" stroke="none" stroke-width="0" />
<line x1="1446.08" y1="130.77" x2="1446.08" y2="146.77" stroke="#000" stroke-width="3" />
<line x1="1441.38" y1="130.77" x2="1450.78" y2="130.77" stroke="#000" stroke-width="3" />
<line x1="1441.38" y1="146.77" x2="1450.78" y2="146.77" stroke="#000" stroke-width="3" />
<rect x="1441.58" y="134.27" width="9" height="9" fill="#000" stroke="none" stroke-width="0" />
<line x1="1529.45" y1="203.5" x2="1529.45" y2="209.5" stroke="#000" stroke-width="3" />
<line x1="1524.75" y1="203.5" x2="1534.15" y2="203.5" stroke="#000" stroke-width="3" />
<line x1="1524.75" y1="209.5" x2="1534.15" y2="209.5" stroke="#000" stroke-width="3" />
<rect x="1524.95" y="202" width="9" height="9" fill="#000" stroke="none" stroke-width="0" />
<line x1="1696.2" y1="299.91" x2="1696.2" y2="311.91" stroke="#000" stroke-width="3" />
<line x1="1691.5" y1="299.91" x2="1700.9" y2="299.91" stroke="#000" stroke-width="3" />
<line x1="1691.5" y1="311.91" x2="1700.9" y2="311.91" stroke="#000" stroke-width="3" />
<rect x="1691.7" y="301.41" width="9" height="9" fill="#000" stroke="none" stroke-width="0" />
<line x1="1362.7" y1="65.85" x2="1696.2" y2="326.5" stroke="#f00" stroke-width="3.2" />
<rect x="1321.1" y="28.3" width="416.9" height="327.3" fill="none" stroke="#000" stroke-width="3.5" />
<line x1="1312.2" y1="328.3" x2="1321.1" y2="328.3" stroke="#000" stroke-width="3.5" />
<line x1="1312.2" y1="273.68" x2="1321.1" y2="273.68" stroke="#000" stroke-width="3.5" />
<line x1="1312.2" y1="219.06" x2="1321.1" y2="219.06" stroke="#000" stroke-width="3.5" />
<line x1="1312.2" y1="164.44" x2="1321.1" y2="164.44" stroke="#000" stroke-width="3.5" />
<line x1="1312.2" y1="109.82" x2="1321.1" y2="109.82" stroke="#000" stroke-width="3.5" />
<line x1="1312.2" y1="55.2" x2="1321.1" y2="55.2" stroke="#000" stroke-width="3.5" />
<text x="1262.77" y="61.4" font-size="29.2" text-anchor="start" >1.0</text>
<text x="1262.89" y="121.2" font-size="29.2" text-anchor="start" >0.8</text>
<text x="1262.89" y="175.3" font-size="29.2" text-anchor="start" >0.6</text>
<text x="1262.52" y="228.1" font-size="29.2" text-anchor="start" >0.4</text>
<text x="1263.14" y="280.9" font-size="29.2" text-anchor="start" >0.2</text>
<text x="1262.77" y="338.4" font-size="29.2" text-anchor="start" >0.0</text>
<line x1="1362.7" y1="355.6" x2="1362.7" y2="364.5" stroke="#000" stroke-width="3.5" />
<line x1="1446.08" y1="355.6" x2="1446.08" y2="364.5" stroke="#000" stroke-width="3.5" />
<line x1="1529.45" y1="355.6" x2="1529.45" y2="364.5" stroke="#000" stroke-width="3.5" />
<line x1="1612.83" y1="355.6" x2="1612.83" y2="364.5" stroke="#000" stroke-width="3.5" />
<line x1="1696.2" y1="355.6" x2="1696.2" y2="364.5" stroke="#000" stroke-width="3.5" />
<text x="1356.29" y="386.5" font-size="29.2" text-anchor="start" >0</text>
<text x="1436.25" y="386.5" font-size="29.2" text-anchor="start" >5</text>
<text x="1511.52" y="386.5" font-size="29.2" text-anchor="start" >10</text>
<text x="1593.78" y="386.5" font-size="29.2" text-anchor="start" >15</text>
<text x="1679.19" y="386.5" font-size="29.2" text-anchor="start" >20</text>
<text x="1490.58" y="90" font-size="29.2" text-anchor="start" textLength="186.19" lengthAdjust="spacing">y=-0.05x+0.96</text>
<text x="1489.53" y="124.8" font-size="29.2" text-anchor="start" textLength="123.14" lengthAdjust="spacing">R<tspan font-size="18.98" dy="-9.2">2</tspan><tspan dy="9.2">=0.986</tspan></text>
<text x="11.86" y="449.5" font-size="46" text-anchor="start" font-weight="bold" textLength="26.11" lengthAdjust="spacingAndGlyphs">d</text>
<text x="109.1" y="478.1" font-size="29.2" text-anchor="start" textLength="97.96" lengthAdjust="spacing">755 nm</text>
<text x="270.13" y="480.3" font-size="29.2" text-anchor="start" textLength="98.13" lengthAdjust="spacing">905 nm</text>
<text x="404.63" y="477.2" font-size="29.2" text-anchor="start" textLength="152.84" lengthAdjust="spacing">PA<tspan font-size="20.15" dy="6.8">755</tspan><tspan dy="-6.8">/PA</tspan><tspan font-size="20.15" dy="6.8">905</tspan></text>
<text x="21.4" y="701.22" font-size="29.2" text-anchor="start" transform="rotate(-90 21.4 701.22)" textLength="138.96" lengthAdjust="spacing">[•OH] (µM)</text>
<line x1="42.1" y1="502.2" x2="42.1" y2="800.7" stroke="#000" stroke-width="3.7" />
<clipPath id="hm1"><rect x="99.9" y="499" width="106.1" height="299.3"/></clipPath>
<g clip-path="url(#hm1)">
<rect x="99.9" y="771" width="106.1" height="27.6" fill="#fbfba0" stroke="none" stroke-width="0" />
<clipPath id="hm1r0"><rect x="99.9" y="499" width="106.1" height="26.4"/></clipPath>
<g clip-path="url(#hm1r0)"><g filter="url(#blur2_4)">
<rect x="91.9" y="491" width="122.1" height="42.1" fill="#000004" stroke="none" stroke-width="0" />
<rect x="110.51" y="505.52" width="5.5" height="6.72" fill="#0c0826" stroke="none" stroke-width="0" />
<rect x="126.43" y="505.52" width="5.51" height="6.72" fill="#0c0826" stroke="none" stroke-width="0" />
<rect x="147.65" y="505.52" width="5.5" height="6.72" fill="#0c0826" stroke="none" stroke-width="0" />
<rect x="168.87" y="505.52" width="5.51" height="6.72" fill="#0c0826" stroke="none" stroke-width="0" />
<rect x="184.78" y="505.52" width="5.51" height="6.72" fill="#0c0826" stroke="none" stroke-width="0" />
<rect x="115.81" y="512.05" width="5.51" height="6.73" fill="#0c0826" stroke="none" stroke-width="0" />
<rect x="131.73" y="512.05" width="5.5" height="6.73" fill="#0c0826" stroke="none" stroke-width="0" />
<rect x="152.95" y="512.05" width="5.51" height="6.73" fill="#0c0826" stroke="none" stroke-width="0" />
<rect x="163.56" y="512.05" width="5.51" height="6.73" fill="#0c0826" stroke="none" stroke-width="0" />
<rect x="179.47" y="512.05" width="5.51" height="6.73" fill="#0c0826" stroke="none" stroke-width="0" />
</g></g>
<clipPath id="hm1r1"><rect x="99.9" y="525.1" width="106.1" height="27.4"/></clipPath>
<g clip-path="url(#hm1r1)"><g filter="url(#blur2_4)">
<rect x="91.9" y="517.1" width="122.1" height="43.1" fill="#0c0826" stroke="none" stroke-width="0" />
<rect x="195.39" y="517.1" width="18.81" height="13.62" fill="#000004" stroke="none" stroke-width="0" />
<rect x="105.21" y="530.52" width="10.81" height="5.62" fill="#240c4f" stroke="none" stroke-width="0" />
<rect x="115.81" y="530.52" width="16.12" height="5.62" fill="#420a68" stroke="none" stroke-width="0" />
<rect x="131.73" y="530.52" width="16.11" height="5.62" fill="#240c4f" stroke="none" stroke-width="0" />
<rect x="147.65" y="530.52" width="21.42" height="5.62" fill="#420a68" stroke="none" stroke-width="0" />
<rect x="168.87" y="530.52" width="10.81" height="5.62" fill="#240c4f" stroke="none" stroke-width="0" />
<rect x="179.47" y="530.52" width="10.81" height="5.62" fill="#420a68" stroke="none" stroke-width="0" />
<rect x="190.09" y="530.52" width="5.5" height="5.62" fill="#240c4f" stroke="none" stroke-width="0" />
<rect x="200.69" y="530.52" width="13.51" height="5.62" fill="#000004" stroke="none" stroke-width="0" />
<rect x="105.21" y="535.94" width="5.5" height="5.62" fill="#240c4f" stroke="none" stroke-width="0" />
<rect x="110.51" y="535.94" width="26.72" height="5.62" fill="#420a68" stroke="none" stroke-width="0" />
<rect x="137.03" y="535.94" width="5.51" height="5.62" fill="#240c4f" stroke="none" stroke-width="0" />
<rect x="142.34" y="535.94" width="47.95" height="5.62" fill="#420a68" stroke="none" stroke-width="0" />
<rect x="190.09" y="535.94" width="5.5" height="5.62" fill="#240c4f" stroke="none" stroke-width="0" />
<rect x="200.69" y="535.94" width="13.51" height="5.62" fill="#000004" stroke="none" stroke-width="0" />
<rect x="110.51" y="541.36" width="10.81" height="5.62" fill="#240c4f" stroke="none" stroke-width="0" />
<rect x="121.12" y="541.36" width="5.51" height="5.62" fill="#420a68" stroke="none" stroke-width="0" />
<rect x="126.43" y="541.36" width="32.03" height="5.62" fill="#240c4f" stroke="none" stroke-width="0" />
<rect x="158.25" y="541.36" width="5.51" height="5.62" fill="#420a68" stroke="none" stroke-width="0" />
<rect x="163.56" y="541.36" width="26.73" height="5.62" fill="#240c4f" stroke="none" stroke-width="0" />
<rect x="195.39" y="541.36" width="18.81" height="5.62" fill="#000004" stroke="none" stroke-width="0" />
<rect x="91.9" y="546.78" width="13.51" height="13.62" fill="#000004" stroke="none" stroke-width="0" />
<rect x="190.09" y="546.78" width="24.11" height="13.62" fill="#000004" stroke="none" stroke-width="0" />
</g></g>
<clipPath id="hm1r2"><rect x="99.9" y="552.2" width="106.1" height="28.1"/></clipPath>
<g clip-path="url(#hm1r2)"><g filter="url(#blur2_4)">
<rect x="91.9" y="544.2" width="122.1" height="43.8" fill="#5d126e" stroke="none" stroke-width="0" />
<rect x="91.9" y="544.2" width="18.81" height="13.76" fill="#240c4f" stroke="none" stroke-width="0" />
<rect x="110.51" y="544.2" width="85.08" height="13.76" fill="#420a68" stroke="none" stroke-width="0" />
<rect x="195.39" y="544.2" width="18.81" height="13.76" fill="#240c4f" stroke="none" stroke-width="0" />
<rect x="91.9" y="557.76" width="18.81" height="5.76" fill="#420a68" stroke="none" stroke-width="0" />
<rect x="115.81" y="557.76" width="5.51" height="5.76" fill="#781c6d" stroke="none" stroke-width="0" />
<rect x="126.43" y="557.76" width="5.51" height="5.76" fill="#781c6d" stroke="none" stroke-width="0" />
<rect x="137.03" y="557.76" width="5.51" height="5.76" fill="#781c6d" stroke="none" stroke-width="0" />
<rect x="147.65" y="557.76" width="5.5" height="5.76" fill="#781c6d" stroke="none" stroke-width="0" />
<rect x="158.25" y="557.76" width="5.51" height="5.76" fill="#932667" stroke="none" stroke-width="0" />
<rect x="168.87" y="557.76" width="5.51" height="5.76" fill="#781c6d" stroke="none" stroke-width="0" />
<rect x="179.47" y="557.76" width="5.51" height="5.76" fill="#781c6d" stroke="none" stroke-width="0" />
<rect x="195.39" y="557.76" width="18.81" height="5.76" fill="#420a68" stroke="none" stroke-width="0" />
<rect x="91.9" y="563.32" width="13.51" height="5.76" fill="#420a68" stroke="none" stroke-width="0" />
<rect x="115.81" y="563.32" width="5.51" height="5.76" fill="#781c6d" stroke="none" stroke-width="0" />
<rect x="126.43" y="563.32" width="5.51" height="5.76" fill="#781c6d" stroke="none" stroke-width="0" />
<rect x="137.03" y="563.32" width="5.51" height="5.76" fill="#781c6d" stroke="none" stroke-width="0" />
<rect x="147.65" y="563.32" width="5.5" height="5.76" fill="#932667" stroke="none" stroke-width="0" />
<rect x="152.95" y="563.32" width="5.51" height="5.76" fill="#781c6d" stroke="none" stroke-width="0" />
<rect x="158.25" y="563.32" width="5.51" height="5.76" fill="#932667" stroke="none" stroke-width="0" />
<rect x="168.87" y="563.32" width="5.51" height="5.76" fill="#781c6d" stroke="none" stroke-width="0" />
<rect x="179.47" y="563.32" width="5.51" height="5.76" fill="#781c6d" stroke="none" stroke-width="0" />
<rect x="190.09" y="563.32" width="5.5" height="5.76" fill="#781c6d" stroke="none" stroke-width="0" />
<rect x="200.69" y="563.32" width="13.51" height="5.76" fill="#420a68" stroke="none" stroke-width="0" />
<rect x="91.9" y="568.88" width="18.81" height="5.76" fill="#420a68" stroke="none" stroke-width="0" />
<rect x="147.65" y="568.88" width="5.5" height="5.76" fill="#781c6d" stroke="none" stroke-width="0" />
<rect x="158.25" y="568.88" width="5.51" height="5.76" fill="#781c6d" stroke="none" stroke-width="0" />
<rect x="195.39" y="568.88" width="5.51" height="5.76" fill="#420a68" stroke="none" stroke-width="0" />
<rect x="200.69" y="568.88" width="13.51" height="5.76" fill="#240c4f" stroke="none" stroke-width="0" />
<rect x="91.9" y="574.44" width="13.51" height="13.76" fill="#0c0826" stroke="none" stroke-width="0" />
<rect x="105.21" y="574.44" width="90.38" height="13.76" fill="#240c4f" stroke="none" stroke-width="0" />
<rect x="195.39" y="574.44" width="18.81" height="13.76" fill="#0c0826" stroke="none" stroke-width="0" />
</g></g>
<clipPath id="hm1r3"><rect x="99.9" y="580" width="106.1" height="27.6"/></clipPath>
<g clip-path="url(#hm1r3)"><g filter="url(#blur2_4)">
<rect x="91.9" y="572" width="122.1" height="43.3" fill="#420a68" stroke="none" stroke-width="0" />
<rect x="110.51" y="572" width="32.03" height="13.66" fill="#5d126e" stroke="none" stroke-width="0" />
<rect x="142.34" y="572" width="21.42" height="13.66" fill="#781c6d" stroke="none" stroke-width="0" />
<rect x="163.56" y="572" width="16.11" height="13.66" fill="#932667" stroke="none" stroke-width="0" />
<rect x="179.47" y="572" width="21.42" height="13.66" fill="#ae305c" stroke="none" stroke-width="0" />
<rect x="200.69" y="572" width="13.51" height="13.66" fill="#932667" stroke="none" stroke-width="0" />
<rect x="110.51" y="585.46" width="32.03" height="5.66" fill="#5d126e" stroke="none" stroke-width="0" />
<rect x="142.34" y="585.46" width="10.81" height="5.66" fill="#781c6d" stroke="none" stroke-width="0" />
<rect x="152.95" y="585.46" width="10.81" height="5.66" fill="#932667" stroke="none" stroke-width="0" />
<rect x="163.56" y="585.46" width="10.81" height="5.66" fill="#ae305c" stroke="none" stroke-width="0" />
<rect x="174.17" y="585.46" width="5.5" height="5.66" fill="#c73e4c" stroke="none" stroke-width="0" />
<rect x="179.47" y="585.46" width="21.42" height="5.66" fill="#dd513a" stroke="none" stroke-width="0" />
<rect x="200.69" y="585.46" width="13.51" height="5.66" fill="#ed6925" stroke="none" stroke-width="0" />
<rect x="126.43" y="590.92" width="10.81" height="5.66" fill="#240c4f" stroke="none" stroke-width="0" />
<rect x="142.34" y="590.92" width="10.81" height="5.66" fill="#5d126e" stroke="none" stroke-width="0" />
<rect x="152.95" y="590.92" width="5.51" height="5.66" fill="#781c6d" stroke="none" stroke-width="0" />
<rect x="158.25" y="590.92" width="10.81" height="5.66" fill="#932667" stroke="none" stroke-width="0" />
<rect x="168.87" y="590.92" width="5.51" height="5.66" fill="#ae305c" stroke="none" stroke-width="0" />
<rect x="174.17" y="590.92" width="10.81" height="5.66" fill="#c73e4c" stroke="none" stroke-width="0" />
<rect x="184.78" y="590.92" width="16.11" height="5.66" fill="#dd513a" stroke="none" stroke-width="0" />
<rect x="200.69" y="590.92" width="13.51" height="5.66" fill="#c73e4c" stroke="none" stroke-width="0" />
<rect x="91.9" y="596.38" width="18.81" height="5.66" fill="#240c4f" stroke="none" stroke-width="0" />
<rect x="121.12" y="596.38" width="5.51" height="5.66" fill="#240c4f" stroke="none" stroke-width="0" />
<rect x="126.43" y="596.38" width="10.81" height="5.66" fill="#0c0826" stroke="none" stroke-width="0" />
<rect x="137.03" y="596.38" width="5.51" height="5.66" fill="#240c4f" stroke="none" stroke-width="0" />
<rect x="152.95" y="596.38" width="5.51" height="5.66" fill="#5d126e" stroke="none" stroke-width="0" />
<rect x="158.25" y="596.38" width="10.81" height="5.66" fill="#781c6d" stroke="none" stroke-width="0" />
<rect x="168.87" y="596.38" width="10.81" height="5.66" fill="#932667" stroke="none" stroke-width="0" />
<rect x="179.47" y="596.38" width="21.42" height="5.66" fill="#ae305c" stroke="none" stroke-width="0" />
<rect x="200.69" y="596.38" width="13.51" height="5.66" fill="#932667" stroke="none" stroke-width="0" />
<rect x="91.9" y="601.84" width="18.81" height="13.66" fill="#240c4f" stroke="none" stroke-width="0" />
<rect x="126.43" y="601.84" width="10.81" height="13.66" fill="#240c4f" stroke="none" stroke-width="0" />
<rect x="147.65" y="601.84" width="10.81" height="13.66" fill="#5d126e" stroke="none" stroke-width="0" />
<rect x="158.25" y="601.84" width="21.42" height="13.66" fill="#781c6d" stroke="none" stroke-width="0" />
<rect x="179.47" y="601.84" width="21.42" height="13.66" fill="#932667" stroke="none" stroke-width="0" />
<rect x="200.69" y="601.84" width="13.51" height="13.66" fill="#781c6d" stroke="none" stroke-width="0" />
</g></g>
<clipPath id="hm1r4"><rect x="99.9" y="607.3" width="106.1" height="27.7"/></clipPath>
<g clip-path="url(#hm1r4)"><g filter="url(#blur2_4)">
<rect x="91.9" y="599.3" width="122.1" height="43.4" fill="#932667" stroke="none" stroke-width="0" />
<rect x="91.9" y="599.3" width="24.11" height="13.68" fill="#420a68" stroke="none" stroke-width="0" />
<rect x="115.81" y="599.3" width="16.12" height="13.68" fill="#5d126e" stroke="none" stroke-width="0" />
<rect x="131.73" y="599.3" width="16.11" height="13.68" fill="#781c6d" stroke="none" stroke-width="0" />
<rect x="168.87" y="599.3" width="5.51" height="13.68" fill="#781c6d" stroke="none" stroke-width="0" />
<rect x="174.17" y="599.3" width="5.5" height="13.68" fill="#5d126e" stroke="none" stroke-width="0" />
<rect x="179.47" y="599.3" width="5.51" height="13.68" fill="#420a68" stroke="none" stroke-width="0" />
<rect x="184.78" y="599.3" width="5.51" height="13.68" fill="#240c4f" stroke="none" stroke-width="0" />
<rect x="190.09" y="599.3" width="10.81" height="13.68" fill="#0c0826" stroke="none" stroke-width="0" />
<rect x="200.69" y="599.3" width="13.51" height="13.68" fill="#000004" stroke="none" stroke-width="0" />
<rect x="91.9" y="612.78" width="13.51" height="5.68" fill="#420a68" stroke="none" stroke-width="0" />
<rect x="105.21" y="612.78" width="10.81" height="5.68" fill="#5d126e" stroke="none" stroke-width="0" />
<rect x="115.81" y="612.78" width="5.51" height="5.68" fill="#781c6d" stroke="none" stroke-width="0" />
<rect x="126.43" y="612.78" width="5.51" height="5.68" fill="#ae305c" stroke="none" stroke-width="0" />
<rect x="131.73" y="612.78" width="5.5" height="5.68" fill="#c73e4c" stroke="none" stroke-width="0" />
<rect x="137.03" y="612.78" width="16.11" height="5.68" fill="#dd513a" stroke="none" stroke-width="0" />
<rect x="152.95" y="612.78" width="10.81" height="5.68" fill="#ed6925" stroke="none" stroke-width="0" />
<rect x="163.56" y="612.78" width="10.81" height="5.68" fill="#dd513a" stroke="none" stroke-width="0" />
<rect x="174.17" y="612.78" width="5.5" height="5.68" fill="#c73e4c" stroke="none" stroke-width="0" />
<rect x="179.47" y="612.78" width="5.51" height="5.68" fill="#ae305c" stroke="none" stroke-width="0" />
<rect x="184.78" y="612.78" width="5.51" height="5.68" fill="#781c6d" stroke="none" stroke-width="0" />
<rect x="190.09" y="612.78" width="5.5" height="5.68" fill="#420a68" stroke="none" stroke-width="0" />
<rect x="195.39" y="612.78" width="5.51" height="5.68" fill="#240c4f" stroke="none" stroke-width="0" />
<rect x="200.69" y="612.78" width="13.51" height="5.68" fill="#0c0826" stroke="none" stroke-width="0" />
<rect x="91.9" y="618.26" width="18.81" height="5.68" fill="#5d126e" stroke="none" stroke-width="0" />
<rect x="110.51" y="618.26" width="5.5" height="5.68" fill="#781c6d" stroke="none" stroke-width="0" />
<rect x="121.12" y="618.26" width="5.51" height="5.68" fill="#ae305c" stroke="none" stroke-width="0" />
<rect x="126.43" y="618.26" width="10.81" height="5.68" fill="#c73e4c" stroke="none" stroke-width="0" />
<rect x="137.03" y="618.26" width="5.51" height="5.68" fill="#dd513a" stroke="none" stroke-width="0" />
<rect x="142.34" y="618.26" width="10.81" height="5.68" fill="#ed6925" stroke="none" stroke-width="0" />
<rect x="152.95" y="618.26" width="21.42" height="5.68" fill="#f8850f" stroke="none" stroke-width="0" />
<rect x="174.17" y="618.26" width="5.5" height="5.68" fill="#fca50a" stroke="none" stroke-width="0" />
<rect x="179.47" y="618.26" width="10.81" height="5.68" fill="#fac62d" stroke="none" stroke-width="0" />
<rect x="190.09" y="618.26" width="5.5" height="5.68" fill="#fca50a" stroke="none" stroke-width="0" />
<rect x="195.39" y="618.26" width="5.51" height="5.68" fill="#dd513a" stroke="none" stroke-width="0" />
<rect x="200.69" y="618.26" width="13.51" height="5.68" fill="#781c6d" stroke="none" stroke-width="0" />
<rect x="91.9" y="623.74" width="13.51" height="5.68" fill="#420a68" stroke="none" stroke-width="0" />
<rect x="105.21" y="623.74" width="10.81" height="5.68" fill="#5d126e" stroke="none" stroke-width="0" />
<rect x="115.81" y="623.74" width="5.51" height="5.68" fill="#781c6d" stroke="none" stroke-width="0" />
<rect x="131.73" y="623.74" width="10.81" height="5.68" fill="#ae305c" stroke="none" stroke-width="0" />
<rect x="142.34" y="623.74" width="5.51" height="5.68" fill="#c73e4c" stroke="none" stroke-width="0" />
<rect x="147.65" y="623.74" width="5.5" height="5.68" fill="#dd513a" stroke="none" stroke-width="0" />
<rect x="152.95" y="623.74" width="5.51" height="5.68" fill="#ed6925" stroke="none" stroke-width="0" />
<rect x="158.25" y="623.74" width="5.51" height="5.68" fill="#f8850f" stroke="none" stroke-width="0" />
<rect x="163.56" y="623.74" width="5.51" height="5.68" fill="#fca50a" stroke="none" stroke-width="0" />
<rect x="168.87" y="623.74" width="5.51" height="5.68" fill="#f2e661" stroke="none" stroke-width="0" />
<rect x="174.17" y="623.74" width="16.11" height="5.68" fill="#fbfba0" stroke="none" stroke-width="0" />
<rect x="190.09" y="623.74" width="5.5" height="5.68" fill="#f8850f" stroke="none" stroke-width="0" />
<rect x="200.69" y="623.74" width="13.51" height="5.68" fill="#420a68" stroke="none" stroke-width="0" />
<rect x="91.9" y="629.22" width="18.81" height="13.68" fill="#420a68" stroke="none" stroke-width="0" />
<rect x="110.51" y="629.22" width="10.81" height="13.68" fill="#5d126e" stroke="none" stroke-width="0" />
<rect x="121.12" y="629.22" width="10.81" height="13.68" fill="#781c6d" stroke="none" stroke-width="0" />
<rect x="152.95" y="629.22" width="10.81" height="13.68" fill="#ae305c" stroke="none" stroke-width="0" />
<rect x="163.56" y="629.22" width="5.51" height="13.68" fill="#c73e4c" stroke="none" stroke-width="0" />
<rect x="168.87" y="629.22" width="5.51" height="13.68" fill="#dd513a" stroke="none" stroke-width="0" />
<rect x="174.17" y="629.22" width="5.5" height="13.68" fill="#ed6925" stroke="none" stroke-width="0" />
<rect x="179.47" y="629.22" width="5.51" height="13.68" fill="#dd513a" stroke="none" stroke-width="0" />
<rect x="184.78" y="629.22" width="5.51" height="13.68" fill="#c73e4c" stroke="none" stroke-width="0" />
<rect x="195.39" y="629.22" width="5.51" height="13.68" fill="#5d126e" stroke="none" stroke-width="0" />
<rect x="200.69" y="629.22" width="13.51" height="13.68" fill="#420a68" stroke="none" stroke-width="0" />
</g></g>
<clipPath id="hm1r5"><rect x="99.9" y="634.7" width="106.1" height="27.9"/></clipPath>
<g clip-path="url(#hm1r5)"><g filter="url(#blur2_4)">
<rect x="91.9" y="626.7" width="122.1" height="43.6" fill="#ed6925" stroke="none" stroke-width="0" />
<rect x="91.9" y="626.7" width="13.51" height="13.72" fill="#ae305c" stroke="none" stroke-width="0" />
<rect x="105.21" y="626.7" width="5.5" height="13.72" fill="#c73e4c" stroke="none" stroke-width="0" />
<rect x="110.51" y="626.7" width="5.5" height="13.72" fill="#dd513a" stroke="none" stroke-width="0" />
<rect x="121.12" y="626.7" width="37.33" height="13.72" fill="#f8850f" stroke="none" stroke-width="0" />
<rect x="168.87" y="626.7" width="10.81" height="13.72" fill="#dd513a" stroke="none" stroke-width="0" />
<rect x="179.47" y="626.7" width="5.51" height="13.72" fill="#c73e4c" stroke="none" stroke-width="0" />
<rect x="184.78" y="626.7" width="5.51" height="13.72" fill="#ae305c" stroke="none" stroke-width="0" />
<rect x="190.09" y="626.7" width="5.5" height="13.72" fill="#932667" stroke="none" stroke-width="0" />
<rect x="195.39" y="626.7" width="5.51" height="13.72" fill="#781c6d" stroke="none" stroke-width="0" />
<rect x="200.69" y="626.7" width="13.51" height="13.72" fill="#932667" stroke="none" stroke-width="0" />
<rect x="91.9" y="640.22" width="13.51" height="5.72" fill="#dd513a" stroke="none" stroke-width="0" />
<rect x="105.21" y="640.22" width="5.5" height="5.72" fill="#f8850f" stroke="none" stroke-width="0" />
<rect x="110.51" y="640.22" width="5.5" height="5.72" fill="#fca50a" stroke="none" stroke-width="0" />
<rect x="115.81" y="640.22" width="26.73" height="5.72" fill="#fac62d" stroke="none" stroke-width="0" />
<rect x="142.34" y="640.22" width="5.51" height="5.72" fill="#fca50a" stroke="none" stroke-width="0" />
<rect x="147.65" y="640.22" width="16.11" height="5.72" fill="#fac62d" stroke="none" stroke-width="0" />
<rect x="163.56" y="640.22" width="10.81" height="5.72" fill="#fca50a" stroke="none" stroke-width="0" />
<rect x="174.17" y="640.22" width="5.5" height="5.72" fill="#f8850f" stroke="none" stroke-width="0" />
<rect x="184.78" y="640.22" width="5.51" height="5.72" fill="#dd513a" stroke="none" stroke-width="0" />
<rect x="190.09" y="640.22" width="5.5" height="5.72" fill="#c73e4c" stroke="none" stroke-width="0" />
<rect x="195.39" y="640.22" width="5.51" height="5.72" fill="#ae305c" stroke="none" stroke-width="0" />
<rect x="200.69" y="640.22" width="13.51" height="5.72" fill="#932667" stroke="none" stroke-width="0" />
<rect x="91.9" y="645.74" width="13.51" height="5.72" fill="#dd513a" stroke="none" stroke-width="0" />
<rect x="105.21" y="645.74" width="5.5" height="5.72" fill="#f8850f" stroke="none" stroke-width="0" />
<rect x="110.51" y="645.74" width="10.81" height="5.72" fill="#fca50a" stroke="none" stroke-width="0" />
<rect x="121.12" y="645.74" width="10.81" height="5.72" fill="#fac62d" stroke="none" stroke-width="0" />
<rect x="131.73" y="645.74" width="10.81" height="5.72" fill="#fca50a" stroke="none" stroke-width="0" />
<rect x="142.34" y="645.74" width="10.81" height="5.72" fill="#fac62d" stroke="none" stroke-width="0" />
<rect x="152.95" y="645.74" width="10.81" height="5.72" fill="#fca50a" stroke="none" stroke-width="0" />
<rect x="163.56" y="645.74" width="5.51" height="5.72" fill="#fac62d" stroke="none" stroke-width="0" />
<rect x="168.87" y="645.74" width="10.81" height="5.72" fill="#fca50a" stroke="none" stroke-width="0" />
<rect x="179.47" y="645.74" width="5.51" height="5.72" fill="#f8850f" stroke="none" stroke-width="0" />
<rect x="190.09" y="645.74" width="5.5" height="5.72" fill="#dd513a" stroke="none" stroke-width="0" />
<rect x="195.39" y="645.74" width="5.51" height="5.72" fill="#c73e4c" stroke="none" stroke-width="0" />
<rect x="200.69" y="645.74" width="13.51" height="5.72" fill="#ae305c" stroke="none" stroke-width="0" />
<rect x="91.9" y="651.26" width="13.51" height="5.72" fill="#c73e4c" stroke="none" stroke-width="0" />
<rect x="105.21" y="651.26" width="5.5" height="5.72" fill="#dd513a" stroke="none" stroke-width="0" />
<rect x="121.12" y="651.26" width="10.81" height="5.72" fill="#f8850f" stroke="none" stroke-width="0" />
<rect x="179.47" y="651.26" width="5.51" height="5.72" fill="#dd513a" stroke="none" stroke-width="0" />
<rect x="184.78" y="651.26" width="10.81" height="5.72" fill="#c73e4c" stroke="none" stroke-width="0" />
<rect x="195.39" y="651.26" width="18.81" height="5.72" fill="#ae305c" stroke="none" stroke-width="0" />
<rect x="91.9" y="656.78" width="18.81" height="13.72" fill="#932667" stroke="none" stroke-width="0" />
<rect x="110.51" y="656.78" width="10.81" height="13.72" fill="#ae305c" stroke="none" stroke-width="0" />
<rect x="121.12" y="656.78" width="32.03" height="13.72" fill="#c73e4c" stroke="none" stroke-width="0" />
<rect x="152.95" y="656.78" width="26.73" height="13.72" fill="#ae305c" stroke="none" stroke-width="0" />
<rect x="179.47" y="656.78" width="21.42" height="13.72" fill="#932667" stroke="none" stroke-width="0" />
<rect x="200.69" y="656.78" width="13.51" height="13.72" fill="#781c6d" stroke="none" stroke-width="0" />
</g></g>
<clipPath id="hm1r6"><rect x="99.9" y="662.3" width="106.1" height="27.7"/></clipPath>
<g clip-path="url(#hm1r6)"><g filter="url(#blur2_4)">
<rect x="91.9" y="654.3" width="122.1" height="43.4" fill="#fbfba0" stroke="none" stroke-width="0" />
<rect x="91.9" y="654.3" width="13.51" height="13.68" fill="#420a68" stroke="none" stroke-width="0" />
<rect x="105.21" y="654.3" width="5.5" height="13.68" fill="#781c6d" stroke="none" stroke-width="0" />
<rect x="110.51" y="654.3" width="5.5" height="13.68" fill="#f8850f" stroke="none" stroke-width="0" />
<rect x="179.47" y="654.3" width="5.51" height="13.68" fill="#fac62d" stroke="none" stroke-width="0" />
<rect x="184.78" y="654.3" width="5.51" height="13.68" fill="#c73e4c" stroke="none" stroke-width="0" />
<rect x="190.09" y="654.3" width="5.5" height="13.68" fill="#420a68" stroke="none" stroke-width="0" />
<rect x="195.39" y="654.3" width="18.81" height="13.68" fill="#240c4f" stroke="none" stroke-width="0" />
<rect x="91.9" y="667.78" width="13.51" height="5.68" fill="#420a68" stroke="none" stroke-width="0" />
<rect x="105.21" y="667.78" width="5.5" height="5.68" fill="#5d126e" stroke="none" stroke-width="0" />
<rect x="110.51" y="667.78" width="5.5" height="5.68" fill="#f8850f" stroke="none" stroke-width="0" />
<rect x="147.65" y="667.78" width="5.5" height="5.68" fill="#fca50a" stroke="none" stroke-width="0" />
<rect x="152.95" y="667.78" width="5.51" height="5.68" fill="#fac62d" stroke="none" stroke-width="0" />
<rect x="190.09" y="667.78" width="5.5" height="5.68" fill="#f8850f" stroke="none" stroke-width="0" />
<rect x="195.39" y="667.78" width="5.51" height="5.68" fill="#c73e4c" stroke="none" stroke-width="0" />
<rect x="200.69" y="667.78" width="13.51" height="5.68" fill="#932667" stroke="none" stroke-width="0" />
<rect x="91.9" y="673.26" width="18.81" height="5.68" fill="#240c4f" stroke="none" stroke-width="0" />
<rect x="110.51" y="673.26" width="5.5" height="5.68" fill="#420a68" stroke="none" stroke-width="0" />
<rect x="115.81" y="673.26" width="5.51" height="5.68" fill="#ae305c" stroke="none" stroke-width="0" />
<rect x="121.12" y="673.26" width="21.42" height="5.68" fill="#fac62d" stroke="none" stroke-width="0" />
<rect x="142.34" y="673.26" width="5.51" height="5.68" fill="#f8850f" stroke="none" stroke-width="0" />
<rect x="147.65" y="673.26" width="5.5" height="5.68" fill="#c73e4c" stroke="none" stroke-width="0" />
<rect x="152.95" y="673.26" width="5.51" height="5.68" fill="#932667" stroke="none" stroke-width="0" />
<rect x="158.25" y="673.26" width="10.81" height="5.68" fill="#f8850f" stroke="none" stroke-width="0" />
<rect x="190.09" y="673.26" width="5.5" height="5.68" fill="#f8850f" stroke="none" stroke-width="0" />
<rect x="195.39" y="673.26" width="5.51" height="5.68" fill="#ed6925" stroke="none" stroke-width="0" />
<rect x="200.69" y="673.26" width="13.51" height="5.68" fill="#dd513a" stroke="none" stroke-width="0" />
<rect x="91.9" y="678.74" width="40.03" height="5.68" fill="#240c4f" stroke="none" stroke-width="0" />
<rect x="131.73" y="678.74" width="16.11" height="5.68" fill="#5d126e" stroke="none" stroke-width="0" />
<rect x="147.65" y="678.74" width="10.81" height="5.68" fill="#420a68" stroke="none" stroke-width="0" />
<rect x="158.25" y="678.74" width="5.51" height="5.68" fill="#781c6d" stroke="none" stroke-width="0" />
<rect x="163.56" y="678.74" width="5.51" height="5.68" fill="#932667" stroke="none" stroke-width="0" />
<rect x="168.87" y="678.74" width="5.51" height="5.68" fill="#c73e4c" stroke="none" stroke-width="0" />
<rect x="184.78" y="678.74" width="5.51" height="5.68" fill="#f8850f" stroke="none" stroke-width="0" />
<rect x="190.09" y="678.74" width="5.5" height="5.68" fill="#ae305c" stroke="none" stroke-width="0" />
<rect x="195.39" y="678.74" width="18.81" height="5.68" fill="#781c6d" stroke="none" stroke-width="0" />
<rect x="91.9" y="684.22" width="18.81" height="13.68" fill="#240c4f" stroke="none" stroke-width="0" />
<rect x="110.51" y="684.22" width="47.94" height="13.68" fill="#420a68" stroke="none" stroke-width="0" />
<rect x="158.25" y="684.22" width="10.81" height="13.68" fill="#5d126e" stroke="none" stroke-width="0" />
<rect x="168.87" y="684.22" width="5.51" height="13.68" fill="#ed6925" stroke="none" stroke-width="0" />
<rect x="174.17" y="684.22" width="5.5" height="13.68" fill="#fca50a" stroke="none" stroke-width="0" />
<rect x="179.47" y="684.22" width="5.51" height="13.68" fill="#f8850f" stroke="none" stroke-width="0" />
<rect x="184.78" y="684.22" width="5.51" height="13.68" fill="#781c6d" stroke="none" stroke-width="0" />
<rect x="190.09" y="684.22" width="5.5" height="13.68" fill="#5d126e" stroke="none" stroke-width="0" />
<rect x="195.39" y="684.22" width="18.81" height="13.68" fill="#420a68" stroke="none" stroke-width="0" />
</g></g>
<clipPath id="hm1r7"><rect x="99.9" y="689.7" width="106.1" height="27.6"/></clipPath>
<g clip-path="url(#hm1r7)"><g filter="url(#blur2_4)">
<rect x="91.9" y="681.7" width="122.1" height="43.3" fill="#fbfba0" stroke="none" stroke-width="0" />
<rect x="91.9" y="681.7" width="13.51" height="13.66" fill="#420a68" stroke="none" stroke-width="0" />
<rect x="105.21" y="681.7" width="5.5" height="13.66" fill="#5d126e" stroke="none" stroke-width="0" />
<rect x="110.51" y="681.7" width="5.5" height="13.66" fill="#781c6d" stroke="none" stroke-width="0" />
<rect x="115.81" y="681.7" width="5.51" height="13.66" fill="#c73e4c" stroke="none" stroke-width="0" />
<rect x="121.12" y="681.7" width="5.51" height="13.66" fill="#fca50a" stroke="none" stroke-width="0" />
<rect x="91.9" y="695.16" width="13.51" height="5.66" fill="#781c6d" stroke="none" stroke-width="0" />
<rect x="105.21" y="695.16" width="5.5" height="5.66" fill="#932667" stroke="none" stroke-width="0" />
<rect x="110.51" y="695.16" width="5.5" height="5.66" fill="#dd513a" stroke="none" stroke-width="0" />
<rect x="115.81" y="695.16" width="5.51" height="5.66" fill="#ed6925" stroke="none" stroke-width="0" />
<rect x="121.12" y="695.16" width="5.51" height="5.66" fill="#fac62d" stroke="none" stroke-width="0" />
<rect x="91.9" y="700.62" width="13.51" height="5.66" fill="#932667" stroke="none" stroke-width="0" />
<rect x="105.21" y="700.62" width="5.5" height="5.66" fill="#c73e4c" stroke="none" stroke-width="0" />
<rect x="110.51" y="700.62" width="5.5" height="5.66" fill="#ed6925" stroke="none" stroke-width="0" />
<rect x="115.81" y="700.62" width="5.51" height="5.66" fill="#fac62d" stroke="none" stroke-width="0" />
<rect x="195.39" y="700.62" width="5.51" height="5.66" fill="#f2e661" stroke="none" stroke-width="0" />
<rect x="200.69" y="700.62" width="13.51" height="5.66" fill="#fca50a" stroke="none" stroke-width="0" />
<rect x="91.9" y="706.08" width="13.51" height="5.66" fill="#ae305c" stroke="none" stroke-width="0" />
<rect x="105.21" y="706.08" width="5.5" height="5.66" fill="#fca50a" stroke="none" stroke-width="0" />
<rect x="110.51" y="706.08" width="5.5" height="5.66" fill="#f2e661" stroke="none" stroke-width="0" />
<rect x="184.78" y="706.08" width="5.51" height="5.66" fill="#fac62d" stroke="none" stroke-width="0" />
<rect x="190.09" y="706.08" width="5.5" height="5.66" fill="#ed6925" stroke="none" stroke-width="0" />
<rect x="195.39" y="706.08" width="5.51" height="5.66" fill="#c73e4c" stroke="none" stroke-width="0" />
<rect x="200.69" y="706.08" width="13.51" height="5.66" fill="#932667" stroke="none" stroke-width="0" />
<rect x="91.9" y="711.54" width="13.51" height="13.66" fill="#dd513a" stroke="none" stroke-width="0" />
<rect x="105.21" y="711.54" width="5.5" height="13.66" fill="#fca50a" stroke="none" stroke-width="0" />
<rect x="137.03" y="711.54" width="5.51" height="13.66" fill="#f2e661" stroke="none" stroke-width="0" />
<rect x="142.34" y="711.54" width="10.81" height="13.66" fill="#fac62d" stroke="none" stroke-width="0" />
<rect x="152.95" y="711.54" width="10.81" height="13.66" fill="#f2e661" stroke="none" stroke-width="0" />
<rect x="163.56" y="711.54" width="5.51" height="13.66" fill="#fac62d" stroke="none" stroke-width="0" />
<rect x="168.87" y="711.54" width="5.51" height="13.66" fill="#f8850f" stroke="none" stroke-width="0" />
<rect x="174.17" y="711.54" width="5.5" height="13.66" fill="#dd513a" stroke="none" stroke-width="0" />
<rect x="179.47" y="711.54" width="5.51" height="13.66" fill="#ae305c" stroke="none" stroke-width="0" />
<rect x="184.78" y="711.54" width="5.51" height="13.66" fill="#781c6d" stroke="none" stroke-width="0" />
<rect x="190.09" y="711.54" width="5.5" height="13.66" fill="#5d126e" stroke="none" stroke-width="0" />
<rect x="195.39" y="711.54" width="5.51" height="13.66" fill="#420a68" stroke="none" stroke-width="0" />
<rect x="200.69" y="711.54" width="13.51" height="13.66" fill="#5d126e" stroke="none" stroke-width="0" />
</g></g>
<clipPath id="hm1r8"><rect x="99.9" y="717" width="106.1" height="27.3"/></clipPath>
<g clip-path="url(#hm1r8)"><g filter="url(#blur2_4)">
<rect x="91.9" y="709" width="122.1" height="43" fill="#fbfba0" stroke="none" stroke-width="0" />
<rect x="195.39" y="709" width="5.51" height="14.95" fill="#f2e661" stroke="none" stroke-width="0" />
<rect x="200.69" y="709" width="13.51" height="14.95" fill="#fac62d" stroke="none" stroke-width="0" />
<rect x="91.9" y="737.25" width="13.51" height="14.95" fill="#f2e661" stroke="none" stroke-width="0" />
<rect x="190.09" y="737.25" width="5.5" height="14.95" fill="#f2e661" stroke="none" stroke-width="0" />
<rect x="195.39" y="737.25" width="5.51" height="14.95" fill="#fac62d" stroke="none" stroke-width="0" />
<rect x="200.69" y="737.25" width="13.51" height="14.95" fill="#fca50a" stroke="none" stroke-width="0" />
</g></g>
<clipPath id="hm1r9"><rect x="99.9" y="744" width="106.1" height="27.3"/></clipPath>
<g clip-path="url(#hm1r9)"><g filter="url(#blur2_4)">
<rect x="91.9" y="736" width="122.1" height="43" fill="#fbfba0" stroke="none" stroke-width="0" />
<rect x="200.69" y="736" width="13.51" height="17.2" fill="#fac62d" stroke="none" stroke-width="0" />
</g></g>
</g>
<rect x="99.9" y="499" width="106.1" height="26.1" fill="none" stroke="#f00" stroke-width="3.4" stroke-dasharray="10.5 3.6"/>
<rect x="99.9" y="525.1" width="106.1" height="27.1" fill="none" stroke="#f00" stroke-width="3.4" stroke-dasharray="10.5 3.6"/>
<rect x="99.9" y="552.2" width="106.1" height="27.8" fill="none" stroke="#f00" stroke-width="3.4" stroke-dasharray="10.5 3.6"/>
<rect x="99.9" y="580" width="106.1" height="27.3" fill="none" stroke="#f00" stroke-width="3.4" stroke-dasharray="10.5 3.6"/>
<rect x="99.9" y="607.3" width="106.1" height="27.4" fill="none" stroke="#f00" stroke-width="3.4" stroke-dasharray="10.5 3.6"/>
<rect x="99.9" y="634.7" width="106.1" height="27.6" fill="none" stroke="#f00" stroke-width="3.4" stroke-dasharray="10.5 3.6"/>
<rect x="99.9" y="662.3" width="106.1" height="27.4" fill="none" stroke="#f00" stroke-width="3.4" stroke-dasharray="10.5 3.6"/>
<rect x="99.9" y="689.7" width="106.1" height="27.3" fill="none" stroke="#f00" stroke-width="3.4" stroke-dasharray="10.5 3.6"/>
<rect x="99.9" y="717" width="106.1" height="27" fill="none" stroke="#f00" stroke-width="3.4" stroke-dasharray="10.5 3.6"/>
<rect x="99.9" y="744" width="106.1" height="27" fill="none" stroke="#f00" stroke-width="3.4" stroke-dasharray="10.5 3.6"/>
<rect x="99.9" y="771" width="106.1" height="27.3" fill="none" stroke="#f00" stroke-width="3.4" stroke-dasharray="10.5 3.6"/>
<clipPath id="hm2"><rect x="266.1" y="499" width="106" height="299.3"/></clipPath>
<g clip-path="url(#hm2)">
<rect x="266.1" y="499" width="106" height="26.4" fill="#fbfba0" stroke="none" stroke-width="0" />
<rect x="266.1" y="525.1" width="106" height="27.4" fill="#fbfba0" stroke="none" stroke-width="0" />
<rect x="266.1" y="607.3" width="106" height="27.7" fill="#fbfba0" stroke="none" stroke-width="0" />
<rect x="266.1" y="634.7" width="106" height="27.9" fill="#fbfba0" stroke="none" stroke-width="0" />
<rect x="266.1" y="662.3" width="106" height="27.7" fill="#fbfba0" stroke="none" stroke-width="0" />
<clipPath id="hm2r2"><rect x="266.1" y="552.2" width="106" height="28.1"/></clipPath>
<g clip-path="url(#hm2r2)"><g filter="url(#blur2_0)">
<rect x="258.1" y="544.2" width="122" height="43.8" fill="#fbfba0" stroke="none" stroke-width="0" />
<rect x="279.35" y="544.2" width="6.83" height="15.15" fill="#fac62d" stroke="none" stroke-width="0" />
<rect x="285.98" y="544.2" width="6.83" height="15.15" fill="#f2e661" stroke="none" stroke-width="0" />
<rect x="358.85" y="544.2" width="6.83" height="15.15" fill="#f2e661" stroke="none" stroke-width="0" />
</g></g>
<clipPath id="hm2r3"><rect x="266.1" y="580" width="106" height="27.6"/></clipPath>
<g clip-path="url(#hm2r3)"><g filter="url(#blur2_0)">
<rect x="258.1" y="572" width="122" height="43.3" fill="#fbfba0" stroke="none" stroke-width="0" />
<rect x="258.1" y="586.83" width="14.82" height="7.02" fill="#fca50a" stroke="none" stroke-width="0" />
<rect x="272.73" y="586.83" width="6.83" height="7.02" fill="#fac62d" stroke="none" stroke-width="0" />
<rect x="279.35" y="586.83" width="6.83" height="7.02" fill="#f2e661" stroke="none" stroke-width="0" />
</g></g>
<clipPath id="hm2r7"><rect x="266.1" y="689.7" width="106" height="27.6"/></clipPath>
<g clip-path="url(#hm2r7)"><g filter="url(#blur2_0)">
<rect x="258.1" y="681.7" width="122" height="43.3" fill="#fbfba0" stroke="none" stroke-width="0" />
<rect x="258.1" y="681.7" width="14.82" height="15.03" fill="#f2e661" stroke="none" stroke-width="0" />
<rect x="358.85" y="681.7" width="6.83" height="15.03" fill="#f2e661" stroke="none" stroke-width="0" />
<rect x="365.48" y="681.7" width="14.82" height="15.03" fill="#fac62d" stroke="none" stroke-width="0" />
<rect x="352.23" y="703.35" width="6.83" height="7.02" fill="#fac62d" stroke="none" stroke-width="0" />
<rect x="358.85" y="703.35" width="6.83" height="7.02" fill="#fca50a" stroke="none" stroke-width="0" />
<rect x="365.48" y="703.35" width="14.82" height="7.02" fill="#f2e661" stroke="none" stroke-width="0" />
<rect x="279.35" y="710.17" width="6.83" height="15.03" fill="#fac62d" stroke="none" stroke-width="0" />
<rect x="345.6" y="710.17" width="6.83" height="15.03" fill="#f2e661" stroke="none" stroke-width="0" />
<rect x="352.23" y="710.17" width="6.83" height="15.03" fill="#fac62d" stroke="none" stroke-width="0" />
<rect x="358.85" y="710.17" width="6.83" height="15.03" fill="#fca50a" stroke="none" stroke-width="0" />
<rect x="365.48" y="710.17" width="14.82" height="15.03" fill="#fac62d" stroke="none" stroke-width="0" />
</g></g>
<clipPath id="hm2r8"><rect x="266.1" y="717" width="106" height="27.3"/></clipPath>
<g clip-path="url(#hm2r8)"><g filter="url(#blur2_0)">
<rect x="258.1" y="709" width="122" height="43" fill="#fbfba0" stroke="none" stroke-width="0" />
<rect x="352.23" y="709" width="6.83" height="14.95" fill="#f2e661" stroke="none" stroke-width="0" />
<rect x="358.85" y="709" width="6.83" height="14.95" fill="#fac62d" stroke="none" stroke-width="0" />
<rect x="345.6" y="723.75" width="6.83" height="6.95" fill="#fac62d" stroke="none" stroke-width="0" />
<rect x="352.23" y="723.75" width="6.83" height="6.95" fill="#fca50a" stroke="none" stroke-width="0" />
<rect x="358.85" y="723.75" width="6.83" height="6.95" fill="#f2e661" stroke="none" stroke-width="0" />
<rect x="258.1" y="730.5" width="14.82" height="6.95" fill="#f2e661" stroke="none" stroke-width="0" />
<rect x="352.23" y="730.5" width="6.83" height="6.95" fill="#fac62d" stroke="none" stroke-width="0" />
<rect x="358.85" y="730.5" width="6.83" height="6.95" fill="#f2e661" stroke="none" stroke-width="0" />
</g></g>
<clipPath id="hm2r9"><rect x="266.1" y="744" width="106" height="27.3"/></clipPath>
<g clip-path="url(#hm2r9)"><g filter="url(#blur2_0)">
<rect x="258.1" y="736" width="122" height="43" fill="#fbfba0" stroke="none" stroke-width="0" />
<rect x="272.73" y="736" width="6.83" height="14.95" fill="#fac62d" stroke="none" stroke-width="0" />
<rect x="279.35" y="736" width="6.83" height="14.95" fill="#fca50a" stroke="none" stroke-width="0" />
<rect x="279.35" y="750.75" width="6.83" height="6.95" fill="#fac62d" stroke="none" stroke-width="0" />
<rect x="285.98" y="750.75" width="6.83" height="6.95" fill="#fca50a" stroke="none" stroke-width="0" />
<rect x="279.35" y="757.5" width="6.83" height="6.95" fill="#fac62d" stroke="none" stroke-width="0" />
<rect x="285.98" y="757.5" width="6.83" height="6.95" fill="#f2e661" stroke="none" stroke-width="0" />
</g></g>
<clipPath id="hm2r10"><rect x="266.1" y="771" width="106" height="27.6"/></clipPath>
<g clip-path="url(#hm2r10)"><g filter="url(#blur2_0)">
<rect x="258.1" y="763" width="122" height="43.3" fill="#fbfba0" stroke="none" stroke-width="0" />
<rect x="345.6" y="763" width="6.83" height="15.03" fill="#f2e661" stroke="none" stroke-width="0" />
<rect x="358.85" y="763" width="6.83" height="15.03" fill="#fac62d" stroke="none" stroke-width="0" />
<rect x="365.48" y="763" width="14.82" height="15.03" fill="#f2e661" stroke="none" stroke-width="0" />
<rect x="345.6" y="777.83" width="6.83" height="7.02" fill="#fac62d" stroke="none" stroke-width="0" />
<rect x="352.23" y="777.83" width="6.83" height="7.02" fill="#fca50a" stroke="none" stroke-width="0" />
<rect x="358.85" y="777.83" width="6.83" height="7.02" fill="#f2e661" stroke="none" stroke-width="0" />
<rect x="365.48" y="777.83" width="14.82" height="7.02" fill="#fca50a" stroke="none" stroke-width="0" />
<rect x="345.6" y="784.65" width="6.83" height="7.02" fill="#f2e661" stroke="none" stroke-width="0" />
<rect x="352.23" y="784.65" width="6.83" height="7.02" fill="#fca50a" stroke="none" stroke-width="0" />
<rect x="365.48" y="784.65" width="14.82" height="7.02" fill="#fac62d" stroke="none" stroke-width="0" />
<rect x="258.1" y="791.47" width="14.82" height="15.03" fill="#f2e661" stroke="none" stroke-width="0" />
<rect x="338.98" y="791.47" width="6.83" height="15.03" fill="#f2e661" stroke="none" stroke-width="0" />
<rect x="352.23" y="791.47" width="6.83" height="15.03" fill="#fac62d" stroke="none" stroke-width="0" />
<rect x="365.48" y="791.47" width="14.82" height="15.03" fill="#f2e661" stroke="none" stroke-width="0" />
</g></g>
</g>
<rect x="266.1" y="499" width="106" height="26.1" fill="none" stroke="#f00" stroke-width="3.4" stroke-dasharray="10.5 3.6"/>
<rect x="266.1" y="525.1" width="106" height="27.1" fill="none" stroke="#f00" stroke-width="3.4" stroke-dasharray="10.5 3.6"/>
<rect x="266.1" y="552.2" width="106" height="27.8" fill="none" stroke="#f00" stroke-width="3.4" stroke-dasharray="10.5 3.6"/>
<rect x="266.1" y="580" width="106" height="27.3" fill="none" stroke="#f00" stroke-width="3.4" stroke-dasharray="10.5 3.6"/>
<rect x="266.1" y="607.3" width="106" height="27.4" fill="none" stroke="#f00" stroke-width="3.4" stroke-dasharray="10.5 3.6"/>
<rect x="266.1" y="634.7" width="106" height="27.6" fill="none" stroke="#f00" stroke-width="3.4" stroke-dasharray="10.5 3.6"/>
<rect x="266.1" y="662.3" width="106" height="27.4" fill="none" stroke="#f00" stroke-width="3.4" stroke-dasharray="10.5 3.6"/>
<rect x="266.1" y="689.7" width="106" height="27.3" fill="none" stroke="#f00" stroke-width="3.4" stroke-dasharray="10.5 3.6"/>
<rect x="266.1" y="717" width="106" height="27" fill="none" stroke="#f00" stroke-width="3.4" stroke-dasharray="10.5 3.6"/>
<rect x="266.1" y="744" width="106" height="27" fill="none" stroke="#f00" stroke-width="3.4" stroke-dasharray="10.5 3.6"/>
<rect x="266.1" y="771" width="106" height="27.3" fill="none" stroke="#f00" stroke-width="3.4" stroke-dasharray="10.5 3.6"/>
<clipPath id="hm3"><rect x="421.2" y="499" width="106.5" height="299.3"/></clipPath>
<g clip-path="url(#hm3)">
<rect x="421.2" y="499" width="106.5" height="26.4" fill="#000000" stroke="none" stroke-width="0" />
<clipPath id="hm3r1"><rect x="421.2" y="525.1" width="106.5" height="27.4"/></clipPath>
<g clip-path="url(#hm3r1)"><g filter="url(#blur1_2)">
<rect x="413.2" y="517.1" width="122.5" height="43.1" fill="#0000a0" stroke="none" stroke-width="0" />
<rect x="431.85" y="517.1" width="32.15" height="13.62" fill="#0000ff" stroke="none" stroke-width="0" />
<rect x="474.45" y="517.1" width="32.15" height="13.62" fill="#0000ff" stroke="none" stroke-width="0" />
<rect x="517.05" y="517.1" width="18.85" height="13.62" fill="#000000" stroke="none" stroke-width="0" />
<rect x="426.52" y="530.52" width="10.85" height="5.62" fill="#0000ff" stroke="none" stroke-width="0" />
<rect x="437.18" y="530.52" width="5.52" height="5.62" fill="#0060ff" stroke="none" stroke-width="0" />
<rect x="442.5" y="530.52" width="10.85" height="5.62" fill="#00a0ff" stroke="none" stroke-width="0" />
<rect x="453.15" y="530.52" width="5.53" height="5.62" fill="#0060ff" stroke="none" stroke-width="0" />
<rect x="458.48" y="530.52" width="5.52" height="5.62" fill="#0000ff" stroke="none" stroke-width="0" />
<rect x="469.12" y="530.52" width="5.53" height="5.62" fill="#0000ff" stroke="none" stroke-width="0" />
<rect x="474.45" y="530.52" width="10.85" height="5.62" fill="#0060ff" stroke="none" stroke-width="0" />
<rect x="485.1" y="530.52" width="10.85" height="5.62" fill="#00a0ff" stroke="none" stroke-width="0" />
<rect x="495.75" y="530.52" width="5.53" height="5.62" fill="#0060ff" stroke="none" stroke-width="0" />
<rect x="501.08" y="530.52" width="10.85" height="5.62" fill="#0000ff" stroke="none" stroke-width="0" />
<rect x="517.05" y="530.52" width="18.85" height="5.62" fill="#000000" stroke="none" stroke-width="0" />
<rect x="426.52" y="535.94" width="5.53" height="5.62" fill="#0000ff" stroke="none" stroke-width="0" />
<rect x="431.85" y="535.94" width="5.52" height="5.62" fill="#0060ff" stroke="none" stroke-width="0" />
<rect x="437.18" y="535.94" width="16.17" height="5.62" fill="#00a0ff" stroke="none" stroke-width="0" />
<rect x="453.15" y="535.94" width="5.53" height="5.62" fill="#0060ff" stroke="none" stroke-width="0" />
<rect x="458.48" y="535.94" width="5.52" height="5.62" fill="#0000ff" stroke="none" stroke-width="0" />
<rect x="469.12" y="535.94" width="5.53" height="5.62" fill="#0000ff" stroke="none" stroke-width="0" />
<rect x="474.45" y="535.94" width="5.52" height="5.62" fill="#0060ff" stroke="none" stroke-width="0" />
<rect x="479.78" y="535.94" width="21.5" height="5.62" fill="#00a0ff" stroke="none" stroke-width="0" />
<rect x="501.08" y="535.94" width="5.52" height="5.62" fill="#0060ff" stroke="none" stroke-width="0" />
<rect x="506.4" y="535.94" width="5.52" height="5.62" fill="#0000ff" stroke="none" stroke-width="0" />
<rect x="517.05" y="535.94" width="18.85" height="5.62" fill="#000000" stroke="none" stroke-width="0" />
<rect x="431.85" y="541.36" width="5.52" height="5.62" fill="#0000ff" stroke="none" stroke-width="0" />
<rect x="437.18" y="541.36" width="16.17" height="5.62" fill="#0060ff" stroke="none" stroke-width="0" />
<rect x="453.15" y="541.36" width="5.53" height="5.62" fill="#0000ff" stroke="none" stroke-width="0" />
<rect x="474.45" y="541.36" width="5.52" height="5.62" fill="#0000ff" stroke="none" stroke-width="0" />
<rect x="479.78" y="541.36" width="21.5" height="5.62" fill="#0060ff" stroke="none" stroke-width="0" />
<rect x="501.08" y="541.36" width="5.52" height="5.62" fill="#0000ff" stroke="none" stroke-width="0" />
<rect x="511.73" y="541.36" width="24.18" height="5.62" fill="#000000" stroke="none" stroke-width="0" />
<rect x="413.2" y="546.78" width="18.85" height="13.62" fill="#000000" stroke="none" stroke-width="0" />
<rect x="458.48" y="546.78" width="16.18" height="13.62" fill="#000000" stroke="none" stroke-width="0" />
<rect x="506.4" y="546.78" width="29.5" height="13.62" fill="#000000" stroke="none" stroke-width="0" />
</g></g>
<clipPath id="hm3r2"><rect x="421.2" y="552.2" width="106.5" height="28.1"/></clipPath>
<g clip-path="url(#hm3r2)"><g filter="url(#blur1_2)">
<rect x="413.2" y="544.2" width="122.5" height="43.8" fill="#00a0ff" stroke="none" stroke-width="0" />
<rect x="413.2" y="544.2" width="13.52" height="13.76" fill="#0000ff" stroke="none" stroke-width="0" />
<rect x="426.52" y="544.2" width="96.05" height="13.76" fill="#0060ff" stroke="none" stroke-width="0" />
<rect x="522.38" y="544.2" width="13.53" height="13.76" fill="#0000ff" stroke="none" stroke-width="0" />
<rect x="413.2" y="557.76" width="13.52" height="5.76" fill="#0000ff" stroke="none" stroke-width="0" />
<rect x="426.52" y="557.76" width="5.53" height="5.76" fill="#0060ff" stroke="none" stroke-width="0" />
<rect x="442.5" y="557.76" width="5.52" height="5.76" fill="#00e0ff" stroke="none" stroke-width="0" />
<rect x="469.12" y="557.76" width="5.53" height="5.76" fill="#00e0ff" stroke="none" stroke-width="0" />
<rect x="485.1" y="557.76" width="5.52" height="5.76" fill="#00e0ff" stroke="none" stroke-width="0" />
<rect x="506.4" y="557.76" width="5.52" height="5.76" fill="#00e0ff" stroke="none" stroke-width="0" />
<rect x="517.05" y="557.76" width="18.85" height="5.76" fill="#0060ff" stroke="none" stroke-width="0" />
<rect x="413.2" y="563.32" width="13.52" height="5.76" fill="#0000ff" stroke="none" stroke-width="0" />
<rect x="426.52" y="563.32" width="5.53" height="5.76" fill="#0060ff" stroke="none" stroke-width="0" />
<rect x="437.18" y="563.32" width="5.52" height="5.76" fill="#00e0ff" stroke="none" stroke-width="0" />
<rect x="447.82" y="563.32" width="5.52" height="5.76" fill="#00e0ff" stroke="none" stroke-width="0" />
<rect x="463.8" y="563.32" width="5.52" height="5.76" fill="#00e0ff" stroke="none" stroke-width="0" />
<rect x="479.78" y="563.32" width="10.85" height="5.76" fill="#00e0ff" stroke="none" stroke-width="0" />
<rect x="501.08" y="563.32" width="5.52" height="5.76" fill="#00e0ff" stroke="none" stroke-width="0" />
<rect x="517.05" y="563.32" width="5.52" height="5.76" fill="#0060ff" stroke="none" stroke-width="0" />
<rect x="522.38" y="563.32" width="13.53" height="5.76" fill="#0000ff" stroke="none" stroke-width="0" />
<rect x="413.2" y="568.88" width="18.85" height="5.76" fill="#0000ff" stroke="none" stroke-width="0" />
<rect x="431.85" y="568.88" width="5.52" height="5.76" fill="#0060ff" stroke="none" stroke-width="0" />
<rect x="453.15" y="568.88" width="5.53" height="5.76" fill="#0060ff" stroke="none" stroke-width="0" />
<rect x="474.45" y="568.88" width="5.52" height="5.76" fill="#0060ff" stroke="none" stroke-width="0" />
<rect x="495.75" y="568.88" width="5.53" height="5.76" fill="#0060ff" stroke="none" stroke-width="0" />
<rect x="511.73" y="568.88" width="5.53" height="5.76" fill="#0060ff" stroke="none" stroke-width="0" />
<rect x="517.05" y="568.88" width="5.52" height="5.76" fill="#0000ff" stroke="none" stroke-width="0" />
<rect x="522.38" y="568.88" width="13.53" height="5.76" fill="#0000a0" stroke="none" stroke-width="0" />
<rect x="413.2" y="574.44" width="13.52" height="13.76" fill="#000000" stroke="none" stroke-width="0" />
<rect x="426.52" y="574.44" width="10.85" height="13.76" fill="#0000a0" stroke="none" stroke-width="0" />
<rect x="437.18" y="574.44" width="5.52" height="13.76" fill="#0000ff" stroke="none" stroke-width="0" />
<rect x="442.5" y="574.44" width="16.18" height="13.76" fill="#0000a0" stroke="none" stroke-width="0" />
<rect x="458.48" y="574.44" width="5.52" height="13.76" fill="#0000ff" stroke="none" stroke-width="0" />
<rect x="463.8" y="574.44" width="16.18" height="13.76" fill="#0000a0" stroke="none" stroke-width="0" />
<rect x="479.78" y="574.44" width="5.52" height="13.76" fill="#0000ff" stroke="none" stroke-width="0" />
<rect x="485.1" y="574.44" width="16.18" height="13.76" fill="#0000a0" stroke="none" stroke-width="0" />
<rect x="501.08" y="574.44" width="5.52" height="13.76" fill="#0000ff" stroke="none" stroke-width="0" />
<rect x="506.4" y="574.44" width="16.17" height="13.76" fill="#0000a0" stroke="none" stroke-width="0" />
<rect x="522.38" y="574.44" width="13.53" height="13.76" fill="#000000" stroke="none" stroke-width="0" />
</g></g>
<clipPath id="hm3r3"><rect x="421.2" y="580" width="106.5" height="27.6"/></clipPath>
<g clip-path="url(#hm3r3)"><g filter="url(#blur1_2)">
<rect x="413.2" y="572" width="122.5" height="43.3" fill="#00e0ff" stroke="none" stroke-width="0" />
<rect x="413.2" y="572" width="24.18" height="13.66" fill="#00a0ff" stroke="none" stroke-width="0" />
<rect x="522.38" y="572" width="13.53" height="13.66" fill="#00a0ff" stroke="none" stroke-width="0" />
<rect x="413.2" y="585.46" width="13.52" height="5.66" fill="#0060ff" stroke="none" stroke-width="0" />
<rect x="426.52" y="585.46" width="16.18" height="5.66" fill="#00a0ff" stroke="none" stroke-width="0" />
<rect x="485.1" y="585.46" width="37.47" height="5.66" fill="#00ff00" stroke="none" stroke-width="0" />
<rect x="413.2" y="590.92" width="24.18" height="5.66" fill="#0060ff" stroke="none" stroke-width="0" />
<rect x="437.18" y="590.92" width="21.5" height="5.66" fill="#00a0ff" stroke="none" stroke-width="0" />
<rect x="485.1" y="590.92" width="32.15" height="5.66" fill="#00ff00" stroke="none" stroke-width="0" />
<rect x="413.2" y="596.38" width="24.18" height="5.66" fill="#0000ff" stroke="none" stroke-width="0" />
<rect x="437.18" y="596.38" width="5.52" height="5.66" fill="#0060ff" stroke="none" stroke-width="0" />
<rect x="442.5" y="596.38" width="5.52" height="5.66" fill="#0000ff" stroke="none" stroke-width="0" />
<rect x="447.82" y="596.38" width="5.52" height="5.66" fill="#0000a0" stroke="none" stroke-width="0" />
<rect x="453.15" y="596.38" width="5.53" height="5.66" fill="#000000" stroke="none" stroke-width="0" />
<rect x="458.48" y="596.38" width="5.52" height="5.66" fill="#0000a0" stroke="none" stroke-width="0" />
<rect x="463.8" y="596.38" width="5.52" height="5.66" fill="#0000ff" stroke="none" stroke-width="0" />
<rect x="469.12" y="596.38" width="5.53" height="5.66" fill="#0060ff" stroke="none" stroke-width="0" />
<rect x="474.45" y="596.38" width="10.85" height="5.66" fill="#00a0ff" stroke="none" stroke-width="0" />
<rect x="413.2" y="601.84" width="18.85" height="13.66" fill="#0000ff" stroke="none" stroke-width="0" />
<rect x="431.85" y="601.84" width="16.17" height="13.66" fill="#0060ff" stroke="none" stroke-width="0" />
<rect x="447.82" y="601.84" width="10.85" height="13.66" fill="#0000ff" stroke="none" stroke-width="0" />
<rect x="458.48" y="601.84" width="10.85" height="13.66" fill="#0060ff" stroke="none" stroke-width="0" />
<rect x="469.12" y="601.84" width="16.18" height="13.66" fill="#00a0ff" stroke="none" stroke-width="0" />
<rect x="517.05" y="601.84" width="18.85" height="13.66" fill="#00a0ff" stroke="none" stroke-width="0" />
</g></g>
<clipPath id="hm3r4"><rect x="421.2" y="607.3" width="106.5" height="27.7"/></clipPath>
<g clip-path="url(#hm3r4)"><g filter="url(#blur1_2)">
<rect x="413.2" y="599.3" width="122.5" height="43.4" fill="#00e0ff" stroke="none" stroke-width="0" />
<rect x="413.2" y="599.3" width="13.52" height="13.68" fill="#0000ff" stroke="none" stroke-width="0" />
<rect x="426.52" y="599.3" width="16.18" height="13.68" fill="#0060ff" stroke="none" stroke-width="0" />
<rect x="442.5" y="599.3" width="21.5" height="13.68" fill="#00a0ff" stroke="none" stroke-width="0" />
<rect x="495.75" y="599.3" width="10.85" height="13.68" fill="#00a0ff" stroke="none" stroke-width="0" />
<rect x="506.4" y="599.3" width="5.52" height="13.68" fill="#0060ff" stroke="none" stroke-width="0" />
<rect x="511.73" y="599.3" width="5.53" height="13.68" fill="#0000ff" stroke="none" stroke-width="0" />
<rect x="517.05" y="599.3" width="18.85" height="13.68" fill="#0000a0" stroke="none" stroke-width="0" />
<rect x="413.2" y="612.78" width="13.52" height="5.68" fill="#0060ff" stroke="none" stroke-width="0" />
<rect x="426.52" y="612.78" width="16.18" height="5.68" fill="#00a0ff" stroke="none" stroke-width="0" />
<rect x="447.82" y="612.78" width="53.45" height="5.68" fill="#00ff00" stroke="none" stroke-width="0" />
<rect x="506.4" y="612.78" width="5.52" height="5.68" fill="#00a0ff" stroke="none" stroke-width="0" />
<rect x="511.73" y="612.78" width="5.53" height="5.68" fill="#0060ff" stroke="none" stroke-width="0" />
<rect x="517.05" y="612.78" width="5.52" height="5.68" fill="#0000ff" stroke="none" stroke-width="0" />
<rect x="522.38" y="612.78" width="13.53" height="5.68" fill="#0000a0" stroke="none" stroke-width="0" />
<rect x="413.2" y="618.26" width="24.18" height="5.68" fill="#00a0ff" stroke="none" stroke-width="0" />
<rect x="453.15" y="618.26" width="10.85" height="5.68" fill="#00ff00" stroke="none" stroke-width="0" />
<rect x="463.8" y="618.26" width="21.5" height="5.68" fill="#b0ff00" stroke="none" stroke-width="0" />
<rect x="485.1" y="618.26" width="21.5" height="5.68" fill="#00ff00" stroke="none" stroke-width="0" />
<rect x="511.73" y="618.26" width="5.53" height="5.68" fill="#00a0ff" stroke="none" stroke-width="0" />
<rect x="517.05" y="618.26" width="5.52" height="5.68" fill="#0060ff" stroke="none" stroke-width="0" />
<rect x="522.38" y="618.26" width="13.53" height="5.68" fill="#0000ff" stroke="none" stroke-width="0" />
<rect x="413.2" y="623.74" width="24.18" height="5.68" fill="#00a0ff" stroke="none" stroke-width="0" />
<rect x="463.8" y="623.74" width="21.5" height="5.68" fill="#00ff00" stroke="none" stroke-width="0" />
<rect x="485.1" y="623.74" width="10.85" height="5.68" fill="#b0ff00" stroke="none" stroke-width="0" />
<rect x="495.75" y="623.74" width="5.53" height="5.68" fill="#ffff00" stroke="none" stroke-width="0" />
<rect x="501.08" y="623.74" width="5.52" height="5.68" fill="#ffd000" stroke="none" stroke-width="0" />
<rect x="506.4" y="623.74" width="5.52" height="5.68" fill="#ff9000" stroke="none" stroke-width="0" />
<rect x="511.73" y="623.74" width="5.53" height="5.68" fill="#ff6000" stroke="none" stroke-width="0" />
<rect x="517.05" y="623.74" width="5.52" height="5.68" fill="#b0ff00" stroke="none" stroke-width="0" />
<rect x="522.38" y="623.74" width="13.53" height="5.68" fill="#0060ff" stroke="none" stroke-width="0" />
<rect x="413.2" y="629.22" width="18.85" height="13.68" fill="#0060ff" stroke="none" stroke-width="0" />
<rect x="431.85" y="629.22" width="16.17" height="13.68" fill="#00a0ff" stroke="none" stroke-width="0" />
<rect x="490.43" y="629.22" width="21.5" height="13.68" fill="#00ff00" stroke="none" stroke-width="0" />
<rect x="517.05" y="629.22" width="5.52" height="13.68" fill="#00a0ff" stroke="none" stroke-width="0" />
<rect x="522.38" y="629.22" width="13.53" height="13.68" fill="#0060ff" stroke="none" stroke-width="0" />
</g></g>
<clipPath id="hm3r5"><rect x="421.2" y="634.7" width="106.5" height="27.9"/></clipPath>
<g clip-path="url(#hm3r5)"><g filter="url(#blur1_2)">
<rect x="413.2" y="626.7" width="122.5" height="43.6" fill="#b0ff00" stroke="none" stroke-width="0" />
<rect x="413.2" y="626.7" width="13.52" height="13.72" fill="#00e0ff" stroke="none" stroke-width="0" />
<rect x="426.52" y="626.7" width="5.53" height="13.72" fill="#00ff00" stroke="none" stroke-width="0" />
<rect x="447.82" y="626.7" width="16.18" height="13.72" fill="#ffff00" stroke="none" stroke-width="0" />
<rect x="469.12" y="626.7" width="5.53" height="13.72" fill="#ffff00" stroke="none" stroke-width="0" />
<rect x="511.73" y="626.7" width="10.85" height="13.72" fill="#00ff00" stroke="none" stroke-width="0" />
<rect x="522.38" y="626.7" width="13.53" height="13.72" fill="#00e0ff" stroke="none" stroke-width="0" />
<rect x="413.2" y="640.22" width="13.52" height="5.72" fill="#00ff00" stroke="none" stroke-width="0" />
<rect x="431.85" y="640.22" width="16.17" height="5.72" fill="#ffff00" stroke="none" stroke-width="0" />
<rect x="447.82" y="640.22" width="5.52" height="5.72" fill="#ffd000" stroke="none" stroke-width="0" />
<rect x="453.15" y="640.22" width="32.15" height="5.72" fill="#ffff00" stroke="none" stroke-width="0" />
<rect x="501.08" y="640.22" width="5.52" height="5.72" fill="#ffff00" stroke="none" stroke-width="0" />
<rect x="522.38" y="640.22" width="13.53" height="5.72" fill="#00ff00" stroke="none" stroke-width="0" />
<rect x="413.2" y="645.74" width="18.85" height="5.72" fill="#00ff00" stroke="none" stroke-width="0" />
<rect x="511.73" y="645.74" width="24.18" height="5.72" fill="#00ff00" stroke="none" stroke-width="0" />
<rect x="413.2" y="651.26" width="13.52" height="5.72" fill="#00e0ff" stroke="none" stroke-width="0" />
<rect x="426.52" y="651.26" width="90.73" height="5.72" fill="#00ff00" stroke="none" stroke-width="0" />
<rect x="517.05" y="651.26" width="18.85" height="5.72" fill="#00e0ff" stroke="none" stroke-width="0" />
<rect x="413.2" y="656.78" width="18.85" height="13.72" fill="#00a0ff" stroke="none" stroke-width="0" />
<rect x="431.85" y="656.78" width="85.4" height="13.72" fill="#00e0ff" stroke="none" stroke-width="0" />
<rect x="517.05" y="656.78" width="18.85" height="13.72" fill="#00a0ff" stroke="none" stroke-width="0" />
</g></g>
<clipPath id="hm3r6"><rect x="421.2" y="662.3" width="106.5" height="27.7"/></clipPath>
<g clip-path="url(#hm3r6)"><g filter="url(#blur1_2)">
<rect x="413.2" y="654.3" width="122.5" height="43.4" fill="#ff6000" stroke="none" stroke-width="0" />
<rect x="413.2" y="654.3" width="13.52" height="13.68" fill="#0060ff" stroke="none" stroke-width="0" />
<rect x="426.52" y="654.3" width="5.53" height="13.68" fill="#00e0ff" stroke="none" stroke-width="0" />
<rect x="431.85" y="654.3" width="5.52" height="13.68" fill="#00ff00" stroke="none" stroke-width="0" />
<rect x="437.18" y="654.3" width="5.52" height="13.68" fill="#b0ff00" stroke="none" stroke-width="0" />
<rect x="501.08" y="654.3" width="5.52" height="13.68" fill="#b0ff00" stroke="none" stroke-width="0" />
<rect x="506.4" y="654.3" width="5.52" height="13.68" fill="#00ff00" stroke="none" stroke-width="0" />
<rect x="511.73" y="654.3" width="5.53" height="13.68" fill="#00a0ff" stroke="none" stroke-width="0" />
<rect x="517.05" y="654.3" width="5.52" height="13.68" fill="#0060ff" stroke="none" stroke-width="0" />
<rect x="522.38" y="654.3" width="13.53" height="13.68" fill="#0000ff" stroke="none" stroke-width="0" />
<rect x="413.2" y="667.78" width="13.52" height="5.68" fill="#0060ff" stroke="none" stroke-width="0" />
<rect x="426.52" y="667.78" width="5.53" height="5.68" fill="#00e0ff" stroke="none" stroke-width="0" />
<rect x="431.85" y="667.78" width="5.52" height="5.68" fill="#00ff00" stroke="none" stroke-width="0" />
<rect x="437.18" y="667.78" width="5.52" height="5.68" fill="#b0ff00" stroke="none" stroke-width="0" />
<rect x="442.5" y="667.78" width="5.52" height="5.68" fill="#ffff00" stroke="none" stroke-width="0" />
<rect x="511.73" y="667.78" width="5.53" height="5.68" fill="#b0ff00" stroke="none" stroke-width="0" />
<rect x="517.05" y="667.78" width="5.52" height="5.68" fill="#00e0ff" stroke="none" stroke-width="0" />
<rect x="522.38" y="667.78" width="13.53" height="5.68" fill="#00a0ff" stroke="none" stroke-width="0" />
<rect x="413.2" y="673.26" width="13.52" height="5.68" fill="#0060ff" stroke="none" stroke-width="0" />
<rect x="426.52" y="673.26" width="5.53" height="5.68" fill="#00a0ff" stroke="none" stroke-width="0" />
<rect x="431.85" y="673.26" width="5.52" height="5.68" fill="#00e0ff" stroke="none" stroke-width="0" />
<rect x="437.18" y="673.26" width="10.85" height="5.68" fill="#00ff00" stroke="none" stroke-width="0" />
<rect x="447.82" y="673.26" width="5.52" height="5.68" fill="#b0ff00" stroke="none" stroke-width="0" />
<rect x="453.15" y="673.26" width="5.53" height="5.68" fill="#ffff00" stroke="none" stroke-width="0" />
<rect x="458.48" y="673.26" width="5.52" height="5.68" fill="#ffd000" stroke="none" stroke-width="0" />
<rect x="474.45" y="673.26" width="5.52" height="5.68" fill="#ffd000" stroke="none" stroke-width="0" />
<rect x="479.78" y="673.26" width="5.52" height="5.68" fill="#ffff00" stroke="none" stroke-width="0" />
<rect x="511.73" y="673.26" width="5.53" height="5.68" fill="#ffff00" stroke="none" stroke-width="0" />
<rect x="517.05" y="673.26" width="5.52" height="5.68" fill="#00ff00" stroke="none" stroke-width="0" />
<rect x="522.38" y="673.26" width="13.53" height="5.68" fill="#00e0ff" stroke="none" stroke-width="0" />
<rect x="413.2" y="678.74" width="13.52" height="5.68" fill="#0000ff" stroke="none" stroke-width="0" />
<rect x="426.52" y="678.74" width="5.53" height="5.68" fill="#0060ff" stroke="none" stroke-width="0" />
<rect x="431.85" y="678.74" width="5.52" height="5.68" fill="#00a0ff" stroke="none" stroke-width="0" />
<rect x="437.18" y="678.74" width="10.85" height="5.68" fill="#00e0ff" stroke="none" stroke-width="0" />
<rect x="447.82" y="678.74" width="16.18" height="5.68" fill="#00ff00" stroke="none" stroke-width="0" />
<rect x="463.8" y="678.74" width="5.52" height="5.68" fill="#b0ff00" stroke="none" stroke-width="0" />
<rect x="469.12" y="678.74" width="10.85" height="5.68" fill="#00ff00" stroke="none" stroke-width="0" />
<rect x="479.78" y="678.74" width="5.52" height="5.68" fill="#00e0ff" stroke="none" stroke-width="0" />
<rect x="485.1" y="678.74" width="5.52" height="5.68" fill="#b0ff00" stroke="none" stroke-width="0" />
<rect x="511.73" y="678.74" width="5.53" height="5.68" fill="#b0ff00" stroke="none" stroke-width="0" />
<rect x="517.05" y="678.74" width="5.52" height="5.68" fill="#00ff00" stroke="none" stroke-width="0" />
<rect x="522.38" y="678.74" width="13.53" height="5.68" fill="#00e0ff" stroke="none" stroke-width="0" />
<rect x="413.2" y="684.22" width="18.85" height="13.68" fill="#0000ff" stroke="none" stroke-width="0" />
<rect x="431.85" y="684.22" width="5.52" height="13.68" fill="#0060ff" stroke="none" stroke-width="0" />
<rect x="437.18" y="684.22" width="16.17" height="13.68" fill="#00a0ff" stroke="none" stroke-width="0" />
<rect x="453.15" y="684.22" width="32.15" height="13.68" fill="#00e0ff" stroke="none" stroke-width="0" />
<rect x="485.1" y="684.22" width="5.52" height="13.68" fill="#00ff00" stroke="none" stroke-width="0" />
<rect x="490.43" y="684.22" width="5.52" height="13.68" fill="#b0ff00" stroke="none" stroke-width="0" />
<rect x="495.75" y="684.22" width="10.85" height="13.68" fill="#ffff00" stroke="none" stroke-width="0" />
<rect x="506.4" y="684.22" width="5.52" height="13.68" fill="#b0ff00" stroke="none" stroke-width="0" />
<rect x="511.73" y="684.22" width="10.85" height="13.68" fill="#00e0ff" stroke="none" stroke-width="0" />
<rect x="522.38" y="684.22" width="13.53" height="13.68" fill="#00a0ff" stroke="none" stroke-width="0" />
</g></g>
<clipPath id="hm3r7"><rect x="421.2" y="689.7" width="106.5" height="27.6"/></clipPath>
<g clip-path="url(#hm3r7)"><g filter="url(#blur1_2)">
<rect x="413.2" y="681.7" width="122.5" height="43.3" fill="#ff6000" stroke="none" stroke-width="0" />
<rect x="413.2" y="681.7" width="13.52" height="13.66" fill="#00e0ff" stroke="none" stroke-width="0" />
<rect x="426.52" y="681.7" width="5.53" height="13.66" fill="#00ff00" stroke="none" stroke-width="0" />
<rect x="431.85" y="681.7" width="5.52" height="13.66" fill="#b0ff00" stroke="none" stroke-width="0" />
<rect x="437.18" y="681.7" width="5.52" height="13.66" fill="#ffff00" stroke="none" stroke-width="0" />
<rect x="442.5" y="681.7" width="5.52" height="13.66" fill="#ffd000" stroke="none" stroke-width="0" />
<rect x="511.73" y="681.7" width="5.53" height="13.66" fill="#ffffff" stroke="none" stroke-width="0" />
<rect x="517.05" y="681.7" width="5.52" height="13.66" fill="#ff00c0" stroke="none" stroke-width="0" />
<rect x="522.38" y="681.7" width="13.53" height="13.66" fill="#ffffff" stroke="none" stroke-width="0" />
<rect x="413.2" y="695.16" width="13.52" height="5.66" fill="#00ff00" stroke="none" stroke-width="0" />
<rect x="426.52" y="695.16" width="5.53" height="5.66" fill="#b0ff00" stroke="none" stroke-width="0" />
<rect x="431.85" y="695.16" width="5.52" height="5.66" fill="#ffff00" stroke="none" stroke-width="0" />
<rect x="437.18" y="695.16" width="5.52" height="5.66" fill="#ffd000" stroke="none" stroke-width="0" />
<rect x="522.38" y="695.16" width="13.53" height="5.66" fill="#ffff00" stroke="none" stroke-width="0" />
<rect x="413.2" y="700.62" width="13.52" height="5.66" fill="#00ff00" stroke="none" stroke-width="0" />
<rect x="426.52" y="700.62" width="5.53" height="5.66" fill="#b0ff00" stroke="none" stroke-width="0" />
<rect x="431.85" y="700.62" width="5.52" height="5.66" fill="#ffff00" stroke="none" stroke-width="0" />
<rect x="517.05" y="700.62" width="5.52" height="5.66" fill="#ff9000" stroke="none" stroke-width="0" />
<rect x="522.38" y="700.62" width="13.53" height="5.66" fill="#b0ff00" stroke="none" stroke-width="0" />
<rect x="413.2" y="706.08" width="13.52" height="5.66" fill="#00ff00" stroke="none" stroke-width="0" />
<rect x="426.52" y="706.08" width="5.53" height="5.66" fill="#b0ff00" stroke="none" stroke-width="0" />
<rect x="431.85" y="706.08" width="5.52" height="5.66" fill="#ff9000" stroke="none" stroke-width="0" />
<rect x="511.73" y="706.08" width="5.53" height="5.66" fill="#ffd000" stroke="none" stroke-width="0" />
<rect x="517.05" y="706.08" width="5.52" height="5.66" fill="#b0ff00" stroke="none" stroke-width="0" />
<rect x="522.38" y="706.08" width="13.53" height="5.66" fill="#00ff00" stroke="none" stroke-width="0" />
<rect x="413.2" y="711.54" width="13.52" height="13.66" fill="#00e0ff" stroke="none" stroke-width="0" />
<rect x="426.52" y="711.54" width="5.53" height="13.66" fill="#00ff00" stroke="none" stroke-width="0" />
<rect x="431.85" y="711.54" width="5.52" height="13.66" fill="#b0ff00" stroke="none" stroke-width="0" />
<rect x="437.18" y="711.54" width="5.52" height="13.66" fill="#ffd000" stroke="none" stroke-width="0" />
<rect x="442.5" y="711.54" width="5.52" height="13.66" fill="#ff9000" stroke="none" stroke-width="0" />
<rect x="490.43" y="711.54" width="5.52" height="13.66" fill="#ff9000" stroke="none" stroke-width="0" />
<rect x="495.75" y="711.54" width="5.53" height="13.66" fill="#ffd000" stroke="none" stroke-width="0" />
<rect x="501.08" y="711.54" width="5.52" height="13.66" fill="#ffff00" stroke="none" stroke-width="0" />
<rect x="506.4" y="711.54" width="5.52" height="13.66" fill="#b0ff00" stroke="none" stroke-width="0" />
<rect x="511.73" y="711.54" width="5.53" height="13.66" fill="#00ff00" stroke="none" stroke-width="0" />
<rect x="517.05" y="711.54" width="5.52" height="13.66" fill="#00e0ff" stroke="none" stroke-width="0" />
<rect x="522.38" y="711.54" width="13.53" height="13.66" fill="#0060ff" stroke="none" stroke-width="0" />
</g></g>
<clipPath id="hm3r8"><rect x="421.2" y="717" width="106.5" height="27.3"/></clipPath>
<g clip-path="url(#hm3r8)"><g filter="url(#blur1_2)">
<rect x="413.2" y="709" width="122.5" height="43" fill="#ff6000" stroke="none" stroke-width="0" />
<rect x="413.2" y="709" width="13.52" height="13.6" fill="#ffd000" stroke="none" stroke-width="0" />
<rect x="474.45" y="709" width="5.52" height="13.6" fill="#ffffff" stroke="none" stroke-width="0" />
<rect x="501.08" y="709" width="16.18" height="13.6" fill="#ffffff" stroke="none" stroke-width="0" />
<rect x="413.2" y="722.4" width="13.52" height="5.6" fill="#ffffff" stroke="none" stroke-width="0" />
<rect x="506.4" y="722.4" width="10.85" height="5.6" fill="#ffffff" stroke="none" stroke-width="0" />
<rect x="413.2" y="727.8" width="13.52" height="5.6" fill="#ffffff" stroke="none" stroke-width="0" />
<rect x="506.4" y="727.8" width="5.52" height="5.6" fill="#ffffff" stroke="none" stroke-width="0" />
<rect x="413.2" y="733.2" width="13.52" height="5.6" fill="#ffffff" stroke="none" stroke-width="0" />
<rect x="426.52" y="738.6" width="5.53" height="13.6" fill="#ffd000" stroke="none" stroke-width="0" />
<rect x="453.15" y="738.6" width="5.53" height="13.6" fill="#ffffff" stroke="none" stroke-width="0" />
<rect x="517.05" y="738.6" width="5.52" height="13.6" fill="#b0ff00" stroke="none" stroke-width="0" />
</g></g>
<clipPath id="hm3r9"><rect x="421.2" y="744" width="106.5" height="27.3"/></clipPath>
<g clip-path="url(#hm3r9)"><g filter="url(#blur1_2)">
<rect x="413.2" y="736" width="122.5" height="43" fill="#ff6000" stroke="none" stroke-width="0" />
<rect x="426.52" y="736" width="16.18" height="13.6" fill="#ffffff" stroke="none" stroke-width="0" />
<rect x="517.05" y="736" width="5.52" height="13.6" fill="#b0ff00" stroke="none" stroke-width="0" />
<rect x="431.85" y="749.4" width="16.17" height="5.6" fill="#ffffff" stroke="none" stroke-width="0" />
<rect x="431.85" y="754.8" width="10.85" height="5.6" fill="#ffffff" stroke="none" stroke-width="0" />
<rect x="413.2" y="765.6" width="13.52" height="13.6" fill="#ffffff" stroke="none" stroke-width="0" />
<rect x="426.52" y="765.6" width="10.85" height="13.6" fill="#ffd000" stroke="none" stroke-width="0" />
</g></g>
<clipPath id="hm3r10"><rect x="421.2" y="771" width="106.5" height="27.6"/></clipPath>
<g clip-path="url(#hm3r10)"><g filter="url(#blur1_2)">
<rect x="413.2" y="763" width="122.5" height="43.3" fill="#ff6000" stroke="none" stroke-width="0" />
<rect x="413.2" y="763" width="13.52" height="13.66" fill="#ffd000" stroke="none" stroke-width="0" />
<rect x="495.75" y="763" width="5.53" height="13.66" fill="#ffffff" stroke="none" stroke-width="0" />
<rect x="511.73" y="763" width="5.53" height="13.66" fill="#ffffff" stroke="none" stroke-width="0" />
<rect x="495.75" y="776.46" width="10.85" height="5.66" fill="#ffffff" stroke="none" stroke-width="0" />
<rect x="511.73" y="776.46" width="10.85" height="5.66" fill="#ffffff" stroke="none" stroke-width="0" />
<rect x="495.75" y="781.92" width="16.18" height="5.66" fill="#ffffff" stroke="none" stroke-width="0" />
<rect x="517.05" y="781.92" width="5.52" height="5.66" fill="#ffffff" stroke="none" stroke-width="0" />
<rect x="501.08" y="787.38" width="10.85" height="5.66" fill="#ffffff" stroke="none" stroke-width="0" />
<rect x="517.05" y="787.38" width="5.52" height="5.66" fill="#ffffff" stroke="none" stroke-width="0" />
<rect x="413.2" y="792.84" width="13.52" height="13.66" fill="#ffffff" stroke="none" stroke-width="0" />
<rect x="431.85" y="792.84" width="5.52" height="13.66" fill="#ffffff" stroke="none" stroke-width="0" />
<rect x="522.38" y="792.84" width="13.53" height="13.66" fill="#ffffff" stroke="none" stroke-width="0" />
</g></g>
</g>
<rect x="421.2" y="499" width="106.5" height="26.6" fill="none" stroke="#f00" stroke-width="3.4" stroke-dasharray="10.5 3.6"/>
<rect x="421.2" y="528.3" width="106.5" height="23.3" fill="none" stroke="#f00" stroke-width="3.4" stroke-dasharray="10.5 3.6"/>
<rect x="421.2" y="555.2" width="106.5" height="22.8" fill="none" stroke="#f00" stroke-width="3.4" stroke-dasharray="10.5 3.6"/>
<rect x="421.2" y="579.6" width="106.5" height="26.5" fill="none" stroke="#f00" stroke-width="3.4" stroke-dasharray="10.5 3.6"/>
<rect x="421.2" y="606.6" width="106.5" height="26.4" fill="none" stroke="#f00" stroke-width="3.4" stroke-dasharray="10.5 3.6"/>
<rect x="421.2" y="635.2" width="106.5" height="26.1" fill="none" stroke="#f00" stroke-width="3.4" stroke-dasharray="10.5 3.6"/>
<rect x="421.8" y="661.8" width="106.5" height="26" fill="none" stroke="#f00" stroke-width="3.4" stroke-dasharray="10.5 3.6"/>
<rect x="421.2" y="689.4" width="106.5" height="26.2" fill="none" stroke="#f00" stroke-width="3.4" stroke-dasharray="10.5 3.6"/>
<rect x="420.2" y="716.6" width="106.5" height="27.1" fill="none" stroke="#f00" stroke-width="3.4" stroke-dasharray="10.5 3.6"/>
<rect x="420.6" y="744.3" width="106.5" height="26.5" fill="none" stroke="#f00" stroke-width="3.4" stroke-dasharray="10.5 3.6"/>
<rect x="420.8" y="771.2" width="106.5" height="27.1" fill="none" stroke="#f00" stroke-width="3.4" stroke-dasharray="10.5 3.6"/>
<text x="73.64" y="520.2" font-size="29.2" text-anchor="start" >0</text>
<text x="75.6" y="549.7" font-size="29.2" text-anchor="start" >1</text>
<text x="73.64" y="575.8" font-size="29.2" text-anchor="start" >2</text>
<text x="73.7" y="606.2" font-size="29.2" text-anchor="start" >5</text>
<text x="61.72" y="630.5" font-size="29.2" text-anchor="start" >10</text>
<text x="61.49" y="658.7" font-size="29.2" text-anchor="start" >20</text>
<text x="61.68" y="685.4" font-size="29.2" text-anchor="start" >50</text>
<text x="49.26" y="712.8" font-size="29.2" text-anchor="start" >100</text>
<text x="49.26" y="742.6" font-size="29.2" text-anchor="start" >150</text>
<text x="48.78" y="766.8" font-size="29.2" text-anchor="start" >200</text>
<text x="48.78" y="797.3" font-size="29.2" text-anchor="start" >250</text>
<linearGradient id="cbd1" x1="0" y1="0" x2="0" y2="1"><stop offset="0" stop-color="#fbfba0"/><stop offset="0.07" stop-color="#f2e661"/><stop offset="0.13" stop-color="#fac62d"/><stop offset="0.2" stop-color="#fca50a"/><stop offset="0.27" stop-color="#f8850f"/><stop offset="0.33" stop-color="#ed6925"/><stop offset="0.4" stop-color="#dd513a"/><stop offset="0.47" stop-color="#c73e4c"/><stop offset="0.53" stop-color="#ae305c"/><stop offset="0.6" stop-color="#932667"/><stop offset="0.67" stop-color="#781c6d"/><stop offset="0.73" stop-color="#5d126e"/><stop offset="0.8" stop-color="#420a68"/><stop offset="0.87" stop-color="#240c4f"/><stop offset="0.93" stop-color="#0c0826"/><stop offset="1" stop-color="#000004"/></linearGradient>
<rect x="225.9" y="565" width="20.7" height="147.5" fill="url(#cbd1)" stroke="#555" stroke-width="1" />
<linearGradient id="cbd2" x1="0" y1="0" x2="0" y2="1"><stop offset="0" stop-color="#fbfba0"/><stop offset="0.07" stop-color="#f2e661"/><stop offset="0.13" stop-color="#fac62d"/><stop offset="0.2" stop-color="#fca50a"/><stop offset="0.27" stop-color="#f8850f"/><stop offset="0.33" stop-color="#ed6925"/><stop offset="0.4" stop-color="#dd513a"/><stop offset="0.47" stop-color="#c73e4c"/><stop offset="0.53" stop-color="#ae305c"/><stop offset="0.6" stop-color="#932667"/><stop offset="0.67" stop-color="#781c6d"/><stop offset="0.73" stop-color="#5d126e"/><stop offset="0.8" stop-color="#420a68"/><stop offset="0.87" stop-color="#240c4f"/><stop offset="0.93" stop-color="#0c0826"/><stop offset="1" stop-color="#000004"/></linearGradient>
<rect x="384.9" y="570.2" width="20.9" height="147.1" fill="url(#cbd2)" stroke="#555" stroke-width="1" />
<rect x="546.8" y="561.8" width="22.1" height="9.59" fill="#ffffff" stroke="none" stroke-width="0" />
<rect x="546.8" y="571.09" width="22.1" height="9.59" fill="#d9b3e0" stroke="none" stroke-width="0" />
<rect x="546.8" y="580.38" width="22.1" height="9.59" fill="#ff00c0" stroke="none" stroke-width="0" />
<rect x="546.8" y="589.66" width="22.1" height="9.59" fill="#ff0000" stroke="none" stroke-width="0" />
<rect x="546.8" y="598.95" width="22.1" height="9.59" fill="#ff6000" stroke="none" stroke-width="0" />
<rect x="546.8" y="608.24" width="22.1" height="9.59" fill="#ff9000" stroke="none" stroke-width="0" />
<rect x="546.8" y="617.52" width="22.1" height="9.59" fill="#ffd000" stroke="none" stroke-width="0" />
<rect x="546.8" y="626.81" width="22.1" height="9.59" fill="#ffff00" stroke="none" stroke-width="0" />
<rect x="546.8" y="636.1" width="22.1" height="9.59" fill="#b0ff00" stroke="none" stroke-width="0" />
<rect x="546.8" y="645.39" width="22.1" height="9.59" fill="#00ff00" stroke="none" stroke-width="0" />
<rect x="546.8" y="654.67" width="22.1" height="9.59" fill="#00e0ff" stroke="none" stroke-width="0" />
<rect x="546.8" y="663.96" width="22.1" height="9.59" fill="#00a0ff" stroke="none" stroke-width="0" />
<rect x="546.8" y="673.25" width="22.1" height="9.59" fill="#0060ff" stroke="none" stroke-width="0" />
<rect x="546.8" y="682.54" width="22.1" height="9.59" fill="#0000ff" stroke="none" stroke-width="0" />
<rect x="546.8" y="691.83" width="22.1" height="9.59" fill="#0000a0" stroke="none" stroke-width="0" />
<rect x="546.8" y="701.11" width="22.1" height="9.59" fill="#000000" stroke="none" stroke-width="0" />
<rect x="546.8" y="561.8" width="22.1" height="148.6" fill="none" stroke="#222" stroke-width="0.9" stroke-dasharray="1.2 1.2"/>
<text x="224.96" y="557.4" font-size="29.2" text-anchor="start" >H</text>
<text x="229" y="739" font-size="29.2" text-anchor="start" >L</text>
<text x="383.11" y="557.4" font-size="29.2" text-anchor="start" >H</text>
<text x="390.85" y="739" font-size="29.2" text-anchor="start" >L</text>
<text x="543.71" y="554.8" font-size="29.2" text-anchor="start" >H</text>
<text x="550.85" y="739.5" font-size="29.2" text-anchor="start" >L</text>
<text x="581.29" y="449.5" font-size="46" text-anchor="start" font-weight="bold" textLength="26.45" lengthAdjust="spacingAndGlyphs">e</text>
<text x="641.9" y="755.07" font-size="29.2" text-anchor="start" transform="rotate(-90 641.9 755.07)" textLength="305.59" lengthAdjust="spacing">Normalized PA<tspan font-size="20.15" dy="7.2">755</tspan><tspan dy="-7.2">/PA</tspan><tspan font-size="20.15" dy="7.2">905</tspan></text>
<text x="860.58" y="855.5" font-size="29.2" text-anchor="start" textLength="139.06" lengthAdjust="spacing">[•OH] (µM)</text>
<line x1="741.7" y1="753.92" x2="741.7" y2="757.92" stroke="#000" stroke-width="3" />
<line x1="737" y1="753.92" x2="746.4" y2="753.92" stroke="#000" stroke-width="3" />
<line x1="737" y1="757.92" x2="746.4" y2="757.92" stroke="#000" stroke-width="3" />
<rect x="737.2" y="751.42" width="9" height="9" fill="#000" stroke="none" stroke-width="0" />
<line x1="759.84" y1="742.9" x2="759.84" y2="746.9" stroke="#000" stroke-width="3" />
<line x1="755.14" y1="742.9" x2="764.54" y2="742.9" stroke="#000" stroke-width="3" />
<line x1="755.14" y1="746.9" x2="764.54" y2="746.9" stroke="#000" stroke-width="3" />
<rect x="755.34" y="740.4" width="9" height="9" fill="#000" stroke="none" stroke-width="0" />
<line x1="777.98" y1="721.9" x2="777.98" y2="731.9" stroke="#000" stroke-width="3" />
<line x1="773.28" y1="721.9" x2="782.68" y2="721.9" stroke="#000" stroke-width="3" />
<line x1="773.28" y1="731.9" x2="782.68" y2="731.9" stroke="#000" stroke-width="3" />
<rect x="773.48" y="722.4" width="9" height="9" fill="#000" stroke="none" stroke-width="0" />
<line x1="832.4" y1="692.8" x2="832.4" y2="698.8" stroke="#000" stroke-width="3" />
<line x1="827.7" y1="692.8" x2="837.1" y2="692.8" stroke="#000" stroke-width="3" />
<line x1="827.7" y1="698.8" x2="837.1" y2="698.8" stroke="#000" stroke-width="3" />
<rect x="827.9" y="691.3" width="9" height="9" fill="#000" stroke="none" stroke-width="0" />
<line x1="923.1" y1="631.66" x2="923.1" y2="648.66" stroke="#000" stroke-width="3" />
<line x1="918.4" y1="631.66" x2="927.8" y2="631.66" stroke="#000" stroke-width="3" />
<line x1="918.4" y1="648.66" x2="927.8" y2="648.66" stroke="#000" stroke-width="3" />
<rect x="918.6" y="635.66" width="9" height="9" fill="#000" stroke="none" stroke-width="0" />
<line x1="1104.5" y1="519.7" x2="1104.5" y2="545.7" stroke="#000" stroke-width="3" />
<line x1="1099.8" y1="519.7" x2="1109.2" y2="519.7" stroke="#000" stroke-width="3" />
<line x1="1099.8" y1="545.7" x2="1109.2" y2="545.7" stroke="#000" stroke-width="3" />
<rect x="1100" y="528.2" width="9" height="9" fill="#000" stroke="none" stroke-width="0" />
<line x1="741.7" y1="755.26" x2="1104.5" y2="525.61" stroke="#f00" stroke-width="3.2" />
<rect x="724" y="453.6" width="416.9" height="327.3" fill="none" stroke="#000" stroke-width="3.5" />
<line x1="715.1" y1="780.9" x2="724" y2="780.9" stroke="#000" stroke-width="3.5" />
<line x1="715.1" y1="671.8" x2="724" y2="671.8" stroke="#000" stroke-width="3.5" />
<line x1="715.1" y1="562.7" x2="724" y2="562.7" stroke="#000" stroke-width="3.5" />
<line x1="715.1" y1="453.6" x2="724" y2="453.6" stroke="#000" stroke-width="3.5" />
<text x="668.19" y="462.5" font-size="29.2" text-anchor="start" >0.6</text>
<text x="667.82" y="572.7" font-size="29.2" text-anchor="start" >0.4</text>
<text x="668.44" y="678.5" font-size="29.2" text-anchor="start" >0.2</text>
<text x="668.07" y="789.9" font-size="29.2" text-anchor="start" >0.0</text>
<line x1="741.7" y1="780.9" x2="741.7" y2="789.8" stroke="#000" stroke-width="3.5" />
<line x1="832.4" y1="780.9" x2="832.4" y2="789.8" stroke="#000" stroke-width="3.5" />
<line x1="923.1" y1="780.9" x2="923.1" y2="789.8" stroke="#000" stroke-width="3.5" />
<line x1="1013.8" y1="780.9" x2="1013.8" y2="789.8" stroke="#000" stroke-width="3.5" />
<line x1="1104.5" y1="780.9" x2="1104.5" y2="789.8" stroke="#000" stroke-width="3.5" />
<text x="732.59" y="815.3" font-size="29.2" text-anchor="start" >0</text>
<text x="820.85" y="815.3" font-size="29.2" text-anchor="start" >5</text>
<text x="905.02" y="815.3" font-size="29.2" text-anchor="start" >10</text>
<text x="995.98" y="815.3" font-size="29.2" text-anchor="start" >15</text>
<text x="1087.79" y="815.3" font-size="29.2" text-anchor="start" >20</text>
<text x="752.18" y="504.3" font-size="29.2" text-anchor="start" textLength="176.69" lengthAdjust="spacing">y=0.02x+0.05</text>
<text x="751.43" y="539.1" font-size="29.2" text-anchor="start" textLength="122.09" lengthAdjust="spacing">R<tspan font-size="18.98" dy="-9.2">2</tspan><tspan dy="9.2">=0.997</tspan></text>
<text x="1203.86" y="449.5" font-size="46" text-anchor="start" font-weight="bold" textLength="13.09" lengthAdjust="spacingAndGlyphs">f</text>
<text x="1243.6" y="766.97" font-size="29.2" text-anchor="start" fill="#f00" transform="rotate(-90 1243.6 766.97)" textLength="304.89" lengthAdjust="spacing">Normalized PA<tspan font-size="20.15" dy="7.2">755</tspan><tspan dy="-7.2">/PA</tspan><tspan font-size="20.15" dy="7.2">905</tspan></text>
<text x="1405.63" y="855.2" font-size="29.2" text-anchor="start" fill="#00f" textLength="307.64" lengthAdjust="spacing">Normalized FL<tspan font-size="20.15" dy="6.6">780</tspan><tspan dy="-6.6">/FL</tspan><tspan font-size="20.15" dy="6.6">1113</tspan></text>
<line x1="1320.6" y1="453.9" x2="1737.8" y2="453.9" stroke="#00f" stroke-width="3.5" />
<line x1="1320.6" y1="781.1" x2="1737.8" y2="781.1" stroke="#00f" stroke-width="3.5" />
<line x1="1358.7" y1="781.1" x2="1358.7" y2="790.2" stroke="#00f" stroke-width="3.5" />
<line x1="1434.52" y1="781.1" x2="1434.52" y2="790.2" stroke="#00f" stroke-width="3.5" />
<line x1="1510.34" y1="781.1" x2="1510.34" y2="790.2" stroke="#00f" stroke-width="3.5" />
<line x1="1586.16" y1="781.1" x2="1586.16" y2="790.2" stroke="#00f" stroke-width="3.5" />
<line x1="1661.98" y1="781.1" x2="1661.98" y2="790.2" stroke="#00f" stroke-width="3.5" />
<line x1="1737.8" y1="781.1" x2="1737.8" y2="790.2" stroke="#00f" stroke-width="3.5" />
<line x1="1320.6" y1="452.15" x2="1320.6" y2="782.85" stroke="#f00" stroke-width="3.5" />
<line x1="1737.8" y1="452.15" x2="1737.8" y2="781.1" stroke="#f00" stroke-width="3.5" />
<line x1="1311.7" y1="781.1" x2="1320.6" y2="781.1" stroke="#f00" stroke-width="3.5" />
<line x1="1311.7" y1="672.02" x2="1320.6" y2="672.02" stroke="#f00" stroke-width="3.5" />
<line x1="1311.7" y1="562.94" x2="1320.6" y2="562.94" stroke="#f00" stroke-width="3.5" />
<line x1="1311.7" y1="453.86" x2="1320.6" y2="453.86" stroke="#f00" stroke-width="3.5" />
<text x="1262.99" y="462.2" font-size="29.2" text-anchor="start" fill="#f00" >0.6</text>
<text x="1262.62" y="571" font-size="29.2" text-anchor="start" fill="#f00" >0.4</text>
<text x="1263.24" y="680.9" font-size="29.2" text-anchor="start" fill="#f00" >0.2</text>
<text x="1262.87" y="789.6" font-size="29.2" text-anchor="start" fill="#f00" >0.0</text>
<text x="1334.72" y="815.3" font-size="29.2" text-anchor="start" fill="#00f" >0.0</text>
<text x="1410.21" y="815.3" font-size="29.2" text-anchor="start" fill="#00f" >0.2</text>
<text x="1491.5" y="815.3" font-size="29.2" text-anchor="start" fill="#00f" >0.4</text>
<text x="1564.18" y="815.3" font-size="29.2" text-anchor="start" fill="#00f" >0.6</text>
<text x="1636.48" y="815.3" font-size="29.2" text-anchor="start" fill="#00f" >0.8</text>
<text x="1711.55" y="815.3" font-size="29.2" text-anchor="start" fill="#00f" >1.0</text>
<line x1="1389.2" y1="519.5" x2="1389.2" y2="544.5" stroke="#f00" stroke-width="3" />
<line x1="1384.8" y1="519.5" x2="1393.6" y2="519.5" stroke="#f00" stroke-width="3" />
<line x1="1384.8" y1="544.5" x2="1393.6" y2="544.5" stroke="#f00" stroke-width="3" />
<line x1="1379.8" y1="532" x2="1398.6" y2="532" stroke="#00f" stroke-width="3" />
<line x1="1379.8" y1="527.6" x2="1379.8" y2="536.4" stroke="#00f" stroke-width="3" />
<line x1="1398.6" y1="527.6" x2="1398.6" y2="536.4" stroke="#00f" stroke-width="3" />
<rect x="1385.1" y="527.9" width="8.2" height="8.2" fill="#000" stroke="none" stroke-width="0" />
<line x1="1527.6" y1="631" x2="1527.6" y2="648" stroke="#f00" stroke-width="3" />
<line x1="1523.2" y1="631" x2="1532" y2="631" stroke="#f00" stroke-width="3" />
<line x1="1523.2" y1="648" x2="1532" y2="648" stroke="#f00" stroke-width="3" />
<line x1="1520.1" y1="639.5" x2="1535.1" y2="639.5" stroke="#00f" stroke-width="3" />
<line x1="1520.1" y1="635.1" x2="1520.1" y2="643.9" stroke="#00f" stroke-width="3" />
<line x1="1535.1" y1="635.1" x2="1535.1" y2="643.9" stroke="#00f" stroke-width="3" />
<rect x="1523.5" y="635.4" width="8.2" height="8.2" fill="#000" stroke="none" stroke-width="0" />
<line x1="1621.7" y1="693.3" x2="1621.7" y2="699.3" stroke="#f00" stroke-width="3" />
<line x1="1617.3" y1="693.3" x2="1626.1" y2="693.3" stroke="#f00" stroke-width="3" />
<line x1="1617.3" y1="699.3" x2="1626.1" y2="699.3" stroke="#f00" stroke-width="3" />
<line x1="1610.7" y1="696.3" x2="1632.7" y2="696.3" stroke="#00f" stroke-width="3" />
<line x1="1610.7" y1="691.9" x2="1610.7" y2="700.7" stroke="#00f" stroke-width="3" />
<line x1="1632.7" y1="691.9" x2="1632.7" y2="700.7" stroke="#00f" stroke-width="3" />
<rect x="1617.6" y="692.2" width="8.2" height="8.2" fill="#000" stroke="none" stroke-width="0" />
<line x1="1677.9" y1="721.7" x2="1677.9" y2="731.7" stroke="#f00" stroke-width="3" />
<line x1="1673.5" y1="721.7" x2="1682.3" y2="721.7" stroke="#f00" stroke-width="3" />
<line x1="1673.5" y1="731.7" x2="1682.3" y2="731.7" stroke="#f00" stroke-width="3" />
<line x1="1664.9" y1="726.7" x2="1690.9" y2="726.7" stroke="#00f" stroke-width="3" />
<line x1="1664.9" y1="722.3" x2="1664.9" y2="731.1" stroke="#00f" stroke-width="3" />
<line x1="1690.9" y1="722.3" x2="1690.9" y2="731.1" stroke="#00f" stroke-width="3" />
<rect x="1673.8" y="722.6" width="8.2" height="8.2" fill="#000" stroke="none" stroke-width="0" />
<line x1="1693.9" y1="741.9" x2="1693.9" y2="746.9" stroke="#f00" stroke-width="3" />
<line x1="1689.5" y1="741.9" x2="1698.3" y2="741.9" stroke="#f00" stroke-width="3" />
<line x1="1689.5" y1="746.9" x2="1698.3" y2="746.9" stroke="#f00" stroke-width="3" />
<line x1="1684.9" y1="744.4" x2="1702.9" y2="744.4" stroke="#00f" stroke-width="3" />
<line x1="1684.9" y1="740" x2="1684.9" y2="748.8" stroke="#00f" stroke-width="3" />
<line x1="1702.9" y1="740" x2="1702.9" y2="748.8" stroke="#00f" stroke-width="3" />
<rect x="1689.8" y="740.3" width="8.2" height="8.2" fill="#000" stroke="none" stroke-width="0" />
<line x1="1388.8" y1="531.9" x2="1694.6" y2="744.1" stroke="#000" stroke-width="3.4" />
<text x="1464.78" y="495.8" font-size="29.2" text-anchor="start" >y = -0.48x + 0.49</text>
<text x="1462.63" y="529.8" font-size="29.2" text-anchor="start" >Pearson’s r = -0.994</text>
<text x="1363.68" y="691" font-size="29.2" text-anchor="start" >[•OH] (µM)</text>
<text x="1342.8" y="544.8" font-size="29.2" text-anchor="start" >20</text>
<text x="1479.75" y="655.1" font-size="29.2" text-anchor="start" >10</text>
<text x="1574.18" y="709.5" font-size="29.2" text-anchor="start" >5</text>
<text x="1669.7" y="712.8" font-size="29.2" text-anchor="start" >2</text>
<text x="1684.95" y="774.6" font-size="29.2" text-anchor="start" >1</text>
<text x="11.89" y="885" font-size="46" text-anchor="start" font-weight="bold" textLength="27.1" lengthAdjust="spacingAndGlyphs">g</text>
<text x="27.2" y="1164.27" font-size="29.2" text-anchor="start" transform="rotate(-90 27.2 1164.27)" textLength="213.19" lengthAdjust="spacing">Normalized Abs.</text>
<text x="177.78" y="1279.9" font-size="29.2" text-anchor="start" textLength="220.66" lengthAdjust="spacing">Wavelength (nm)</text>
<clipPath id="clipG"><rect x="100.2" y="890.2" width="416.9" height="326.20000000000005"/></clipPath>
<rect x="102" y="890.2" width="416.9" height="327.7" fill="none" stroke="#000" stroke-width="3.5" />
<g clip-path="url(#clipG)">
<path d="M100.2 1085.5L107.2 1071.6L108.2 1069.9L109.7 1068.6L110.2 1068.4L110.7 1068.5L111.2 1068.8L111.7 1069.4L112.7 1071.3L113.2 1073.4L113.7 1076.5L114.7 1083.8L117.7 1113L119.2 1125L120.2 1130.9L120.7 1133L121.7 1135.2L122.7 1136.6L123.2 1136.9L124.2 1136.9L128.2 1136.1L131.2 1135.7L133.2 1135.6L135.2 1135.6L139.2 1136L140.7 1136L142.2 1135.8L145.2 1135.1L146.7 1134.9L147.2 1135L147.7 1135.3L149.7 1137.4L150.2 1137.8L151.7 1138.7L152.7 1138.9L153.2 1138.6L153.7 1138L155.2 1135.1L156.7 1130.5L157.7 1128.4L158.2 1127.6L158.7 1127.2L159.2 1127.3L159.7 1127.6L160.7 1128.9L161.2 1129.8L161.7 1131.3L163.7 1141.3L165.7 1153.6L167.7 1164.1L168.2 1166.1L168.7 1167.4L169.7 1169.6L170.7 1171.2L171.2 1171.7L171.7 1172L172.2 1172L175.7 1171.9L177.2 1171.4L180.7 1169.1L182.2 1168L184.7 1165.8L187.7 1162.7L189.2 1160.9L190.7 1158.7L191.7 1156.9L193.2 1153.6L196.7 1144.7L198.2 1140.3L199.7 1135.4L201.2 1129.6L202.2 1124.8L207.7 1093.1L209.7 1079.3L210.7 1071.2L211.7 1061.7L212.7 1049.9L213.7 1036.3L215.2 1012.7L216.2 999L217.7 981.2L219.2 966.2L220.2 957.7L221.2 950.7L222.2 946.4L222.7 945.3L223.2 944.7L223.7 944.5L224.2 944.8L224.7 945.5L225.2 946.8L226.2 951.5L226.7 954.9L228.7 972.4L232.7 1016.4L235.7 1044.5L237.2 1056.4L238.7 1067L240.2 1075.7L241.7 1083L242.7 1087.1L244.2 1092.4L245.7 1096.8L246.7 1099L247.7 1100.8L250.2 1104.6L253.7 1110.3L256.2 1114.7L260.2 1122.8L262.2 1127.8L263.2 1129.9L264.2 1131.5L267.2 1135.4L269.2 1138.7L270.2 1140L271.7 1141.1L272.7 1141.7L273.7 1141.9L274.2 1141.8L274.7 1141.6L275.7 1140.8L277.2 1139.3L278.2 1138L281.7 1131.7L286.7 1124.2L289.2 1119.7L293.2 1111.1L297.7 1100.5L300.2 1094.2L301.2 1092L302.2 1090.1L304.2 1087L306.7 1084L307.7 1082.9L310.7 1080.1L311.7 1079L313.2 1076.9L314.2 1075.1L315.2 1072.7L315.7 1071.2L316.2 1069L320.2 1045L321.7 1038.3L322.2 1037.5L322.7 1038.3L323.2 1040.2L324.2 1044.9L326.2 1057.4L327.7 1064.4L329.2 1070.1L330.7 1074.5L332.7 1079.4L334.7 1083.5L336.7 1087L338.7 1089.9L343.7 1096.5L349.7 1105.1L352.2 1108.4L355.2 1111.9L361.2 1118.3L364.2 1121.7L366.2 1123.7L367.2 1124.3L370.2 1125.6L371.7 1126L373.2 1126L375.2 1125.4L377.2 1124.4L377.7 1124L379.2 1122L381.2 1120.9L382.7 1120.5L383.2 1120.7L384.2 1121.6L385.7 1123.8L386.2 1124.7L387.2 1127.2L390.2 1136L397.2 1158.3L398.7 1162.3L400.7 1166.7L403.2 1171.4L406.2 1175.7L409.2 1179.2L414.2 1184.3L415.7 1185.5L416.7 1186.1L419.7 1187.3L422.7 1188.3L424.7 1188.6L427.2 1188.8L431.7 1189L434.7 1189L436.2 1188.8L438.2 1188.4L442.2 1187.3L443.7 1186.8L445.7 1185.9L455.7 1181.1L458.2 1180.1L461.7 1179.3L463.7 1179L465.7 1179.1L467.7 1179.4L470.7 1180.5L471.7 1181.1L472.7 1181.9L474.2 1183.6L477.7 1187.7L482.7 1194.4L486.7 1199.1L490.2 1202.7L491.7 1203.9L493.2 1205L495.7 1206.5L498.2 1207.8L500.7 1208.8L503.7 1209.9L506.7 1210.7L509.7 1211.4L514.2 1212.3L517.7 1212.8" fill="none" stroke="#000" stroke-width="3.4" stroke-linejoin="round" />
<path d="M100.2 1134.7L104.7 1136.8L106.7 1137.9L109.2 1139.8L111.2 1141.6L112.7 1143.3L114.2 1145.6L117.2 1150.4L119.7 1154.9L120.7 1156.2L121.7 1156.9L123.2 1157.8L124.2 1158L125.2 1157.8L127.2 1156.8L129.2 1156.2L130.7 1156L131.7 1156.2L132.7 1156.8L134.7 1158.3L140.7 1163.1L141.7 1163.8L142.7 1164.2L143.7 1164.3L145.2 1164.1L147.7 1163.3L149.2 1162.5L152.2 1160.2L157.7 1154.2L158.7 1153.3L159.2 1153L161.2 1152.4L162.7 1152.2L164.2 1152.5L166.2 1153.4L167.7 1154.7L169.7 1157.1L171.2 1159.2L173.2 1162.4L175.2 1166.1L181.7 1179.4L186.2 1188.2L188.2 1191.7L191.7 1196.8L193.2 1198.6L194.2 1199.5L195.7 1200.5L199.2 1202.6L203.7 1204.8L207.2 1207.3L208.7 1208.2L210.7 1209L212.2 1209.5L213.7 1209.8L216.2 1210L220.7 1210.1L230.7 1209.8L236.7 1209.9L251.7 1210.8L270.7 1212.2L273.7 1212.3L274.7 1212.1L275.7 1211.8L278.2 1210.5L280.2 1209.3L281.2 1209L282.2 1209.1L285.2 1210.1L289.2 1210.9L291.7 1211.3L293.7 1211.5L295.2 1211.3L298.2 1210.3L303.2 1209.1L304.7 1209L310.2 1208.9L311.2 1208.5L312.2 1207.6L313.2 1206.4L314.2 1204.8L314.7 1203.6L315.7 1199.6L316.7 1194.8L318.2 1184.7L318.7 1182L319.2 1180.5L320.2 1178.2L320.7 1177.5L321.2 1177.2L321.7 1177.5L322.2 1178.3L323.2 1180.9L323.7 1182.5L325.2 1190.7L326.7 1195.2L327.2 1196.3L327.7 1197.1L329.2 1198.1L330.7 1198.8L331.7 1198.9L332.7 1198.8L334.2 1198.3L340.2 1194.9L342.7 1193.2L345.7 1191L348.2 1188.9L350.7 1186.7L353.2 1184.2L355.2 1181.9L357.2 1179.5L359.7 1176.1L362.2 1172.4L364.7 1168.5L367.7 1163L369.7 1158.5L376.7 1138.9L379.7 1131.2L380.7 1129.2L381.7 1127.9L382.7 1126.9L383.2 1126.6L383.7 1126.6L384.2 1126.9L384.7 1127.5L386.2 1129.9L386.7 1131L396.7 1162.9L398.7 1168.3L401.2 1173.8L403.7 1178.2L405.2 1180.4L407.2 1183L409.2 1185.3L412.7 1188.9L414.2 1190.4L415.7 1191.5L416.7 1192.1L419.7 1193.4L421.7 1194.1L423.7 1194.6L425.2 1194.7L429.7 1195L433.7 1195.1L435.2 1195L438.2 1194.4L443.2 1193L445.7 1192L456.2 1187L458.2 1186.2L460.7 1185.4L462.7 1184.9L464.2 1184.7L465.7 1184.8L467.7 1185.2L470.2 1186L471.2 1186.4L472.2 1187.1L473.2 1188L477.7 1192.9L482.7 1199.3L487.2 1204.5L490.2 1207.5L492.7 1209.3L495.2 1210.8L497.7 1212L500.7 1213.2L503.7 1214.3L506.7 1215.1L509.7 1215.8L514.2 1216.7L517.7 1217.2" fill="none" stroke="#000080" stroke-width="3.4" stroke-linejoin="round" />
<path d="M100.2 1133.9L104.7 1136L106.7 1137.1L109.2 1139L111.2 1140.8L112.7 1142.5L114.2 1144.8L117.2 1149.6L119.7 1154.1L120.7 1155.4L121.7 1156.1L123.2 1157L124.2 1157.2L125.2 1157L127.2 1156L129.2 1155.4L130.7 1155.2L131.7 1155.4L132.7 1156L134.7 1157.5L140.7 1162.3L141.7 1163L142.7 1163.4L143.7 1163.5L145.2 1163.3L147.7 1162.5L149.2 1161.7L152.2 1159.4L157.7 1153.4L158.7 1152.5L159.2 1152.2L161.2 1151.6L162.7 1151.4L164.2 1151.7L166.2 1152.6L167.7 1153.9L169.7 1156.3L171.2 1158.4L173.2 1161.6L175.2 1165.3L181.7 1178.6L186.2 1187.4L188.2 1190.9L191.7 1196L193.2 1197.8L194.2 1198.7L195.7 1199.7L199.2 1201.8L203.7 1204L207.2 1206.5L208.7 1207.4L210.7 1208.2L212.2 1208.7L213.7 1209L216.2 1209.2L220.7 1209.3L230.7 1209L236.7 1209.1L251.7 1210L270.7 1211.4L273.7 1211.5L274.7 1211.3L275.7 1211L278.2 1209.7L280.2 1208.5L281.2 1208.2L282.2 1208.3L285.2 1209.3L289.2 1210.1L291.7 1210.5L293.7 1210.7L295.2 1210.5L298.2 1209.5L303.2 1208.3L304.7 1208.2L310.2 1208.1L311.2 1207.7L312.2 1206.8L313.2 1205.6L314.2 1204L314.7 1202.8L315.7 1198.8L316.7 1194L318.2 1183.9L318.7 1181.2L319.2 1179.7L320.2 1177.4L320.7 1176.7L321.2 1176.4L321.7 1176.7L322.2 1177.5L323.2 1180.1L323.7 1181.7L325.2 1189.9L326.7 1194.4L327.2 1195.5L327.7 1196.3L329.2 1197.3L330.7 1198L331.7 1198.1L332.7 1198L334.2 1197.5L340.2 1194.1L342.7 1192.4L345.7 1190.2L348.2 1188.1L350.7 1185.9L353.2 1183.4L355.2 1181.1L357.2 1178.7L359.7 1175.3L362.2 1171.6L364.7 1167.7L367.7 1162.2L369.7 1157.7L376.7 1138.1L379.7 1130.4L380.7 1128.4L381.7 1127.1L382.7 1126.1L383.2 1125.8L383.7 1125.8L384.2 1126.1L384.7 1126.7L386.2 1129.1L386.7 1130.2L396.7 1162.1L398.7 1167.5L401.2 1173L403.7 1177.4L405.2 1179.6L407.2 1182.2L409.2 1184.5L412.7 1188.1L414.2 1189.6L415.7 1190.7L416.7 1191.3L419.7 1192.6L421.7 1193.3L423.7 1193.8L425.2 1193.9L429.7 1194.2L433.7 1194.3L435.2 1194.2L438.2 1193.6L443.2 1192.2L445.7 1191.2L456.2 1186.2L458.2 1185.4L460.7 1184.6L462.7 1184.1L464.2 1183.9L465.7 1184L467.7 1184.4L470.2 1185.2L471.2 1185.6L472.2 1186.3L473.2 1187.2L477.7 1192.1L482.7 1198.5L487.2 1203.7L490.2 1206.7L492.7 1208.5L495.2 1210L497.7 1211.2L500.7 1212.4L503.7 1213.5L506.7 1214.3L509.7 1215L514.2 1215.9L517.7 1216.4" fill="none" stroke="#0000c0" stroke-width="2.6" stroke-linejoin="round" />
<path d="M100.2 1132.8L104.7 1134.9L106.7 1136L109.2 1137.9L111.2 1139.7L112.7 1141.4L114.2 1143.7L117.2 1148.5L119.7 1153L120.7 1154.3L121.7 1155L123.2 1155.9L124.2 1156.1L125.2 1155.9L127.2 1154.9L129.2 1154.3L130.7 1154.1L131.7 1154.3L132.7 1154.9L134.7 1156.4L140.7 1161.2L141.7 1161.9L142.7 1162.3L143.7 1162.4L145.2 1162.2L147.7 1161.4L149.2 1160.6L152.2 1158.3L157.7 1152.3L158.7 1151.4L159.2 1151.1L161.2 1150.5L162.7 1150.3L164.2 1150.6L166.2 1151.5L167.7 1152.8L169.7 1155.2L171.2 1157.3L173.2 1160.5L175.2 1164.2L181.7 1177.5L186.2 1186.3L188.2 1189.8L191.7 1194.9L193.2 1196.7L194.2 1197.6L195.7 1198.6L199.2 1200.7L203.7 1202.9L207.2 1205.4L208.7 1206.3L210.7 1207.1L212.2 1207.6L213.7 1207.9L216.2 1208.1L220.7 1208.2L230.7 1207.9L236.7 1208L251.7 1208.9L270.7 1210.3L273.7 1210.4L274.7 1210.2L275.7 1209.9L278.2 1208.6L280.2 1207.4L281.2 1207.1L282.2 1207.2L285.2 1208.2L289.2 1209L291.7 1209.4L293.7 1209.6L295.2 1209.4L298.2 1208.4L303.2 1207.2L304.7 1207.1L310.2 1207L311.2 1206.6L312.2 1205.7L313.2 1204.5L314.2 1202.9L314.7 1201.7L315.7 1197.7L316.7 1192.9L318.2 1182.8L318.7 1180.1L319.2 1178.6L320.2 1176.3L320.7 1175.6L321.2 1175.3L321.7 1175.6L322.2 1176.4L323.2 1179L323.7 1180.6L325.2 1188.8L326.7 1193.3L327.2 1194.4L327.7 1195.2L329.2 1196.2L330.7 1196.9L331.7 1197L332.7 1196.9L334.2 1196.4L340.2 1193L342.7 1191.3L345.7 1189.1L348.2 1187L350.7 1184.8L353.2 1182.3L355.2 1180L357.2 1177.6L359.7 1174.2L362.2 1170.5L364.7 1166.6L367.7 1161.1L369.7 1156.6L376.7 1137L379.7 1129.3L380.7 1127.3L381.7 1126L382.7 1125L383.2 1124.7L383.7 1124.7L384.2 1125L384.7 1125.6L386.2 1128L386.7 1129.1L396.7 1161L398.7 1166.4L401.2 1171.9L403.7 1176.3L405.2 1178.5L407.2 1181.1L409.2 1183.4L412.7 1187L414.2 1188.5L415.7 1189.6L416.7 1190.2L419.7 1191.5L421.7 1192.2L423.7 1192.7L425.2 1192.8L429.7 1193.1L433.7 1193.2L435.2 1193.1L438.2 1192.5L443.2 1191.1L445.7 1190.1L456.2 1185.1L458.2 1184.3L460.7 1183.5L462.7 1183L464.2 1182.8L465.7 1182.9L467.7 1183.3L470.2 1184.1L471.2 1184.5L472.2 1185.2L473.2 1186.1L477.7 1191L482.7 1197.4L487.2 1202.6L490.2 1205.6L492.7 1207.4L495.2 1208.9L497.7 1210.1L500.7 1211.3L503.7 1212.4L506.7 1213.2L509.7 1213.9L514.2 1214.8L517.7 1215.3" fill="none" stroke="#ff8000" stroke-width="2.2" stroke-linejoin="round" />
<path d="M100.2 1130.3L104.7 1132.4L106.7 1133.5L109.2 1135.4L111.2 1137.2L112.7 1138.9L114.2 1141.2L117.2 1146L119.7 1150.5L120.7 1151.8L121.7 1152.5L123.2 1153.4L124.2 1153.6L125.2 1153.4L127.2 1152.4L129.2 1151.8L130.7 1151.6L131.7 1151.8L132.7 1152.4L134.7 1153.9L140.7 1158.7L141.7 1159.4L142.7 1159.8L143.7 1159.9L145.2 1159.7L147.7 1158.9L149.2 1158.1L152.2 1155.8L157.7 1149.8L158.7 1148.9L159.2 1148.6L161.2 1148L162.7 1147.8L164.2 1148.1L166.2 1149L167.7 1150.3L169.7 1152.7L171.2 1154.8L173.2 1158L175.2 1161.7L181.7 1175L186.2 1183.8L188.2 1187.3L191.7 1192.4L193.2 1194.2L194.2 1195.1L195.7 1196.1L199.2 1198.2L203.7 1200.4L207.2 1202.9L208.7 1203.8L210.7 1204.6L212.2 1205.1L213.7 1205.4L216.2 1205.6L220.7 1205.7L230.7 1205.4L236.7 1205.5L251.7 1206.4L270.7 1207.8L273.7 1207.9L274.7 1207.7L275.7 1207.4L278.2 1206.1L280.2 1204.9L281.2 1204.6L282.2 1204.7L285.2 1205.7L289.2 1206.5L291.7 1206.9L293.7 1207.1L295.2 1206.9L298.2 1205.9L303.2 1204.7L304.7 1204.6L310.2 1204.5L311.2 1204.1L312.2 1203.2L313.2 1202L314.2 1200.4L314.7 1199.2L315.7 1195.2L316.7 1190.4L318.2 1180.3L318.7 1177.6L319.2 1176.1L320.2 1173.8L320.7 1173.1L321.2 1172.8L321.7 1173.1L322.2 1173.9L323.2 1176.5L323.7 1178.1L325.2 1186.3L326.7 1190.8L327.2 1191.9L327.7 1192.7L329.2 1193.7L330.7 1194.4L331.7 1194.5L332.7 1194.4L334.2 1193.9L340.2 1190.5L342.7 1188.8L345.7 1186.6L348.2 1184.5L350.7 1182.3L353.2 1179.8L355.2 1177.5L357.2 1175.1L359.7 1171.7L362.2 1168L364.7 1164.1L367.7 1158.6L369.7 1154.1L376.7 1134.5L379.7 1126.8L380.7 1124.8L381.7 1123.5L382.7 1122.5L383.2 1122.2L383.7 1122.2L384.2 1122.5L384.7 1123.1L386.2 1125.5L386.7 1126.6L396.7 1158.5L398.7 1163.9L401.2 1169.4L403.7 1173.8L405.2 1176L407.2 1178.6L409.2 1180.9L412.7 1184.5L414.2 1186L415.7 1187.1L416.7 1187.7L419.7 1189L421.7 1189.7L423.7 1190.2L425.2 1190.3L429.7 1190.6L433.7 1190.7L435.2 1190.6L438.2 1190L443.2 1188.6L445.7 1187.6L456.2 1182.6L458.2 1181.8L460.7 1181L462.7 1180.5L464.2 1180.3L465.7 1180.4L467.7 1180.8L470.2 1181.6L471.2 1182L472.2 1182.7L473.2 1183.6L477.7 1188.5L482.7 1194.9L487.2 1200.1L490.2 1203.1L492.7 1204.9L495.2 1206.4L497.7 1207.6L500.7 1208.8L503.7 1209.9L506.7 1210.7L509.7 1211.4L514.2 1212.3L517.7 1212.8" fill="none" stroke="#8000ff" stroke-width="3.7" stroke-linejoin="round" />
</g>
<line x1="93.1" y1="945.1" x2="102" y2="945.1" stroke="#000" stroke-width="3.5" />
<line x1="93.1" y1="1081.5" x2="102" y2="1081.5" stroke="#000" stroke-width="3.5" />
<line x1="93.1" y1="1217.9" x2="102" y2="1217.9" stroke="#000" stroke-width="3.5" />
<text x="47.57" y="953.2" font-size="29.2" text-anchor="start" >1.0</text>
<text x="47.69" y="1088.8" font-size="29.2" text-anchor="start" >0.5</text>
<text x="47.57" y="1225.6" font-size="29.2" text-anchor="start" >0.0</text>
<line x1="148.1" y1="1217.9" x2="148.1" y2="1226.8" stroke="#000" stroke-width="3.5" />
<line x1="241" y1="1217.9" x2="241" y2="1226.8" stroke="#000" stroke-width="3.5" />
<line x1="333.6" y1="1217.9" x2="333.6" y2="1226.8" stroke="#000" stroke-width="3.5" />
<line x1="426.2" y1="1217.9" x2="426.2" y2="1226.8" stroke="#000" stroke-width="3.5" />
<line x1="518.6" y1="1217.9" x2="518.6" y2="1226.8" stroke="#000" stroke-width="3.5" />
<text x="119.72" y="1252.9" font-size="29.2" text-anchor="start" >400</text>
<text x="212.48" y="1252.9" font-size="29.2" text-anchor="start" >600</text>
<text x="302.3" y="1252.9" font-size="29.2" text-anchor="start" >800</text>
<text x="383.29" y="1252.9" font-size="29.2" text-anchor="start" >1000</text>
<text x="479.79" y="1252.9" font-size="29.2" text-anchor="start" >1200</text>
<text x="342.35" y="1029.5" font-size="29.2" text-anchor="start" >1</text>
<text x="245.5" y="1176.2" font-size="29.2" text-anchor="start" >2~9</text>
<line x1="374.8" y1="1027" x2="348.87" y2="1063.96" stroke="#000" stroke-width="3.8" />
<polygon points="341.4,1074.6 344.49,1058.44 355.54,1066.2" fill="#000"/>
<line x1="239.5" y1="1164.5" x2="227.8" y2="1192.6" stroke="#000" stroke-width="3.8" />
<polygon points="222.8,1204.6 222.34,1188.16 234.8,1193.35" fill="#000"/>
<text x="581.79" y="886.1" font-size="46" text-anchor="start" font-weight="bold" textLength="26.06" lengthAdjust="spacingAndGlyphs">h</text>
<text x="646" y="1198.07" font-size="29.2" text-anchor="start" transform="rotate(-90 646 1198.07)" textLength="306.29" lengthAdjust="spacing">Normalized FL<tspan font-size="20.15" dy="7.2">780</tspan><tspan dy="-7.2">/FL</tspan><tspan font-size="20.15" dy="7.2">1113</tspan></text>
<rect x="749.63" y="1214.9" width="34.2" height="3.3" fill="#3333ff" stroke="#222" stroke-width="0.8" />
<rect x="762.43" y="1210.6" width="8.6" height="8.6" fill="#000" stroke="none" stroke-width="0" rx="1.5"/>
<rect x="792.2" y="943.1" width="34.2" height="275.1" fill="#3333ff" stroke="#222" stroke-width="0.8" />
<line x1="809.3" y1="927.77" x2="809.3" y2="961.72" stroke="#222" stroke-width="2.4" />
<line x1="803.8" y1="928.77" x2="814.8" y2="928.77" stroke="#000" stroke-width="2.4" />
<line x1="803.8" y1="960.72" x2="814.8" y2="960.72" stroke="#000" stroke-width="2.4" />
<rect x="805" y="931.02" width="8.6" height="8.6" fill="#000" stroke="none" stroke-width="0" rx="1.5"/>
<rect x="805" y="953.65" width="8.6" height="8.6" fill="#000" stroke="none" stroke-width="0" rx="1.5"/>
<rect x="834.77" y="947.4" width="34.2" height="270.8" fill="#3333ff" stroke="#222" stroke-width="0.8" />
<line x1="851.87" y1="937.83" x2="851.87" y2="956.69" stroke="#222" stroke-width="2.4" />
<line x1="846.37" y1="938.83" x2="857.37" y2="938.83" stroke="#000" stroke-width="2.4" />
<line x1="846.37" y1="955.69" x2="857.37" y2="955.69" stroke="#000" stroke-width="2.4" />
<rect x="847.57" y="937.3" width="8.6" height="8.6" fill="#000" stroke="none" stroke-width="0" rx="1.5"/>
<rect x="847.57" y="943.59" width="8.6" height="8.6" fill="#000" stroke="none" stroke-width="0" rx="1.5"/>
<rect x="847.57" y="948.62" width="8.6" height="8.6" fill="#000" stroke="none" stroke-width="0" rx="1.5"/>
<rect x="877.34" y="950.9" width="34.2" height="267.3" fill="#3333ff" stroke="#222" stroke-width="0.8" />
<line x1="894.44" y1="929.03" x2="894.44" y2="968.01" stroke="#222" stroke-width="2.4" />
<line x1="888.94" y1="930.03" x2="899.94" y2="930.03" stroke="#000" stroke-width="2.4" />
<line x1="888.94" y1="967.01" x2="899.94" y2="967.01" stroke="#000" stroke-width="2.4" />
<rect x="890.14" y="929.76" width="8.6" height="8.6" fill="#000" stroke="none" stroke-width="0" rx="1.5"/>
<rect x="890.14" y="956.16" width="8.6" height="8.6" fill="#000" stroke="none" stroke-width="0" rx="1.5"/>
<rect x="890.14" y="962.45" width="8.6" height="8.6" fill="#000" stroke="none" stroke-width="0" rx="1.5"/>
<rect x="919.91" y="944.6" width="34.2" height="273.6" fill="#3333ff" stroke="#222" stroke-width="0.8" />
<line x1="937.01" y1="929.79" x2="937.01" y2="957.45" stroke="#222" stroke-width="2.4" />
<line x1="931.51" y1="930.79" x2="942.51" y2="930.79" stroke="#000" stroke-width="2.4" />
<line x1="931.51" y1="956.45" x2="942.51" y2="956.45" stroke="#000" stroke-width="2.4" />
<rect x="932.71" y="929.26" width="8.6" height="8.6" fill="#000" stroke="none" stroke-width="0" rx="1.5"/>
<rect x="932.71" y="943.59" width="8.6" height="8.6" fill="#000" stroke="none" stroke-width="0" rx="1.5"/>
<rect x="932.71" y="950.63" width="8.6" height="8.6" fill="#000" stroke="none" stroke-width="0" rx="1.5"/>
<rect x="962.48" y="950.4" width="34.2" height="267.8" fill="#3333ff" stroke="#222" stroke-width="0.8" />
<line x1="979.58" y1="933.31" x2="979.58" y2="967.5" stroke="#222" stroke-width="2.4" />
<line x1="974.08" y1="934.31" x2="985.08" y2="934.31" stroke="#000" stroke-width="2.4" />
<line x1="974.08" y1="966.5" x2="985.08" y2="966.5" stroke="#000" stroke-width="2.4" />
<rect x="975.28" y="933.03" width="8.6" height="8.6" fill="#000" stroke="none" stroke-width="0" rx="1.5"/>
<rect x="975.28" y="945.6" width="8.6" height="8.6" fill="#000" stroke="none" stroke-width="0" rx="1.5"/>
<rect x="975.28" y="959.18" width="8.6" height="8.6" fill="#000" stroke="none" stroke-width="0" rx="1.5"/>
<rect x="1005.05" y="948.4" width="34.2" height="269.8" fill="#3333ff" stroke="#222" stroke-width="0.8" />
<line x1="1022.15" y1="940.35" x2="1022.15" y2="955.43" stroke="#222" stroke-width="2.4" />
<line x1="1016.65" y1="941.35" x2="1027.65" y2="941.35" stroke="#000" stroke-width="2.4" />
<line x1="1016.65" y1="954.43" x2="1027.65" y2="954.43" stroke="#000" stroke-width="2.4" />
<rect x="1017.85" y="940.32" width="8.6" height="8.6" fill="#000" stroke="none" stroke-width="0" rx="1.5"/>
<rect x="1017.85" y="943.59" width="8.6" height="8.6" fill="#000" stroke="none" stroke-width="0" rx="1.5"/>
<rect x="1017.85" y="948.12" width="8.6" height="8.6" fill="#000" stroke="none" stroke-width="0" rx="1.5"/>
<rect x="1047.62" y="954.2" width="34.2" height="264" fill="#3333ff" stroke="#222" stroke-width="0.8" />
<line x1="1064.72" y1="947.39" x2="1064.72" y2="962.98" stroke="#222" stroke-width="2.4" />
<line x1="1059.22" y1="948.39" x2="1070.22" y2="948.39" stroke="#000" stroke-width="2.4" />
<line x1="1059.22" y1="961.98" x2="1070.22" y2="961.98" stroke="#000" stroke-width="2.4" />
<rect x="1060.42" y="945.6" width="8.6" height="8.6" fill="#000" stroke="none" stroke-width="0" rx="1.5"/>
<rect x="1060.42" y="950.63" width="8.6" height="8.6" fill="#000" stroke="none" stroke-width="0" rx="1.5"/>
<rect x="1060.42" y="954.91" width="8.6" height="8.6" fill="#000" stroke="none" stroke-width="0" rx="1.5"/>
<rect x="1090.19" y="959" width="34.2" height="259.2" fill="#3333ff" stroke="#222" stroke-width="0.8" />
<line x1="1107.29" y1="937.83" x2="1107.29" y2="975.55" stroke="#222" stroke-width="2.4" />
<line x1="1101.79" y1="938.83" x2="1112.79" y2="938.83" stroke="#000" stroke-width="2.4" />
<line x1="1101.79" y1="974.55" x2="1112.79" y2="974.55" stroke="#000" stroke-width="2.4" />
<rect x="1102.99" y="937.3" width="8.6" height="8.6" fill="#000" stroke="none" stroke-width="0" rx="1.5"/>
<rect x="1102.99" y="963.71" width="8.6" height="8.6" fill="#000" stroke="none" stroke-width="0" rx="1.5"/>
<rect x="1102.99" y="969.24" width="8.6" height="8.6" fill="#000" stroke="none" stroke-width="0" rx="1.5"/>
<rect x="724.4" y="890.5" width="416.8" height="327.7" fill="none" stroke="#000" stroke-width="3.5" />
<line x1="715.5" y1="890.5" x2="724.4" y2="890.5" stroke="#000" stroke-width="3.5" />
<line x1="715.5" y1="944.5" x2="724.4" y2="944.5" stroke="#000" stroke-width="3.5" />
<line x1="715.5" y1="998.7" x2="724.4" y2="998.7" stroke="#000" stroke-width="3.5" />
<line x1="715.5" y1="1053" x2="724.4" y2="1053" stroke="#000" stroke-width="3.5" />
<line x1="715.5" y1="1107.3" x2="724.4" y2="1107.3" stroke="#000" stroke-width="3.5" />
<line x1="715.5" y1="1161.2" x2="724.4" y2="1161.2" stroke="#000" stroke-width="3.5" />
<line x1="715.5" y1="1215.5" x2="724.4" y2="1215.5" stroke="#000" stroke-width="3.5" />
<text x="668.34" y="893.9" font-size="29.2" text-anchor="start" >1.2</text>
<text x="667.97" y="951.7" font-size="29.2" text-anchor="start" >1.0</text>
<text x="668.09" y="1007.7" font-size="29.2" text-anchor="start" >0.8</text>
<text x="668.09" y="1059.9" font-size="29.2" text-anchor="start" >0.6</text>
<text x="667.72" y="1113" font-size="29.2" text-anchor="start" >0.4</text>
<text x="668.34" y="1166.9" font-size="29.2" text-anchor="start" >0.2</text>
<text x="667.97" y="1220.7" font-size="29.2" text-anchor="start" >0.0</text>
<text x="764.55" y="1252.6" font-size="29.2" text-anchor="start" >1</text>
<text x="803.69" y="1252.6" font-size="29.2" text-anchor="start" >2</text>
<text x="844.55" y="1252.6" font-size="29.2" text-anchor="start" >3</text>
<text x="884.51" y="1252.6" font-size="29.2" text-anchor="start" >4</text>
<text x="925.25" y="1252.6" font-size="29.2" text-anchor="start" >5</text>
<text x="965.76" y="1252.6" font-size="29.2" text-anchor="start" >6</text>
<text x="1005.59" y="1252.6" font-size="29.2" text-anchor="start" >7</text>
<text x="1055.19" y="1252.6" font-size="29.2" text-anchor="start" >8</text>
<text x="1095.89" y="1252.6" font-size="29.2" text-anchor="start" >9</text>
<text x="1203.84" y="886.1" font-size="46" text-anchor="start" font-weight="bold" textLength="11.25" lengthAdjust="spacingAndGlyphs">i</text>
<text x="1237.7" y="1198.07" font-size="29.2" text-anchor="start" transform="rotate(-90 1237.7 1198.07)" textLength="305.49" lengthAdjust="spacing">Normalized PA<tspan font-size="20.15" dy="7.2">755</tspan><tspan dy="-7.2">/PA</tspan><tspan font-size="20.15" dy="7.2">905</tspan></text>
<rect x="1325" y="945.2" width="32" height="272.4" fill="#ff2a2a" stroke="#222" stroke-width="0.8" />
<line x1="1341" y1="925.3" x2="1341" y2="971.5" stroke="#111" stroke-width="2.4" />
<line x1="1335.3" y1="926.2" x2="1346.7" y2="926.2" stroke="#000" stroke-width="2.6" />
<line x1="1335.3" y1="970.6" x2="1346.7" y2="970.6" stroke="#000" stroke-width="2.6" />
<rect x="1336.6" y="925.2" width="8.8" height="8.8" fill="#000" stroke="none" stroke-width="0" rx="1.5"/>
<rect x="1336.6" y="935.9" width="8.8" height="8.8" fill="#000" stroke="none" stroke-width="0" rx="1.5"/>
<rect x="1336.6" y="963.3" width="8.8" height="8.8" fill="#000" stroke="none" stroke-width="0" rx="1.5"/>
<rect x="1364.4" y="1205.5" width="32.1" height="12.1" fill="#ff2a2a" stroke="#222" stroke-width="0.8" />
<circle cx="1380.7" cy="1204.9" r="4.9" fill="#000"/>
<rect x="1404.3" y="1205.5" width="32.1" height="12.1" fill="#ff2a2a" stroke="#222" stroke-width="0.8" />
<circle cx="1420.4" cy="1204.9" r="4.9" fill="#000"/>
<rect x="1444.1" y="1205.5" width="32.1" height="12.1" fill="#ff2a2a" stroke="#222" stroke-width="0.8" />
<circle cx="1460" cy="1204.9" r="4.9" fill="#000"/>
<rect x="1483.8" y="1205.5" width="32.1" height="12.1" fill="#ff2a2a" stroke="#222" stroke-width="0.8" />
<circle cx="1499.5" cy="1204.9" r="4.9" fill="#000"/>
<rect x="1523.2" y="1205.5" width="32.1" height="12.1" fill="#ff2a2a" stroke="#222" stroke-width="0.8" />
<circle cx="1539.5" cy="1204.9" r="4.9" fill="#000"/>
<rect x="1563.4" y="1205.5" width="32.1" height="12.1" fill="#ff2a2a" stroke="#222" stroke-width="0.8" />
<circle cx="1579.1" cy="1204.9" r="4.9" fill="#000"/>
<rect x="1603" y="1205.5" width="32.1" height="12.1" fill="#ff2a2a" stroke="#222" stroke-width="0.8" />
<circle cx="1618.8" cy="1204.9" r="4.9" fill="#000"/>
<rect x="1642.7" y="1205.5" width="32.1" height="12.1" fill="#ff2a2a" stroke="#222" stroke-width="0.8" />
<circle cx="1658.4" cy="1204.9" r="4.9" fill="#000"/>
<rect x="1321.4" y="890.5" width="416.8" height="327.1" fill="none" stroke="#000" stroke-width="3.5" />
<line x1="1312.5" y1="890.5" x2="1321.4" y2="890.5" stroke="#000" stroke-width="3.5" />
<line x1="1312.5" y1="999.8" x2="1321.4" y2="999.8" stroke="#000" stroke-width="3.5" />
<line x1="1312.5" y1="1108.9" x2="1321.4" y2="1108.9" stroke="#000" stroke-width="3.5" />
<line x1="1312.5" y1="1217.8" x2="1321.4" y2="1217.8" stroke="#000" stroke-width="3.5" />
<text x="1262.84" y="901.6" font-size="29.2" text-anchor="start" >1.2</text>
<text x="1262.59" y="1012.6" font-size="29.2" text-anchor="start" >0.8</text>
<text x="1262.22" y="1117.9" font-size="29.2" text-anchor="start" >0.4</text>
<text x="1262.47" y="1227.2" font-size="29.2" text-anchor="start" >0.0</text>
<text x="1329.95" y="1249.2" font-size="29.2" text-anchor="start" >1</text>
<text x="1370.09" y="1249.2" font-size="29.2" text-anchor="start" >2</text>
<text x="1410.85" y="1249.2" font-size="29.2" text-anchor="start" >3</text>
<text x="1450.81" y="1249.2" font-size="29.2" text-anchor="start" >4</text>
<text x="1491.65" y="1249.2" font-size="29.2" text-anchor="start" >5</text>
<text x="1532.26" y="1249.2" font-size="29.2" text-anchor="start" >6</text>
<text x="1572.79" y="1249.2" font-size="29.2" text-anchor="start" >7</text>
<text x="1613.59" y="1249.2" font-size="29.2" text-anchor="start" >8</text>
<text x="1654.39" y="1249.2" font-size="29.2" text-anchor="start" >9</text>
<clipPath id="hm4"><rect x="1375.3" y="931.6" width="94.8" height="216.4"/></clipPath>
<g clip-path="url(#hm4)">
<rect x="1375.3" y="955.9" width="94.8" height="24.1" fill="#000004" stroke="none" stroke-width="0" />
<rect x="1375.3" y="979.7" width="94.8" height="23.9" fill="#000004" stroke="none" stroke-width="0" />
<rect x="1375.3" y="1003.3" width="94.8" height="25.1" fill="#000004" stroke="none" stroke-width="0" />
<rect x="1375.3" y="1028.1" width="94.8" height="23.8" fill="#000004" stroke="none" stroke-width="0" />
<rect x="1375.3" y="1051.6" width="94.8" height="26.1" fill="#000004" stroke="none" stroke-width="0" />
<rect x="1375.3" y="1077.4" width="94.8" height="24.5" fill="#000004" stroke="none" stroke-width="0" />
<rect x="1375.3" y="1101.6" width="94.8" height="23.3" fill="#000004" stroke="none" stroke-width="0" />
<rect x="1375.3" y="1124.6" width="94.8" height="23.7" fill="#000004" stroke="none" stroke-width="0" />
<clipPath id="hm4r0"><rect x="1375.3" y="931.6" width="94.8" height="24.6"/></clipPath>
<g clip-path="url(#hm4r0)"><g filter="url(#blur2_0)">
<rect x="1367.3" y="923.6" width="110.8" height="40.3" fill="#fbfba0" stroke="none" stroke-width="0" />
<rect x="1452.32" y="923.6" width="6.13" height="14.27" fill="#f2e661" stroke="none" stroke-width="0" />
<rect x="1452.32" y="937.67" width="6.13" height="6.28" fill="#fac62d" stroke="none" stroke-width="0" />
<rect x="1458.25" y="937.67" width="6.12" height="6.28" fill="#f2e661" stroke="none" stroke-width="0" />
<rect x="1458.25" y="943.75" width="6.12" height="6.28" fill="#f2e661" stroke="none" stroke-width="0" />
<rect x="1434.55" y="949.83" width="12.05" height="14.27" fill="#f2e661" stroke="none" stroke-width="0" />
</g></g>
</g>
<rect x="1375.3" y="931.6" width="94.8" height="24.3" fill="none" stroke="#f00" stroke-width="3.4" stroke-dasharray="10.5 3.6"/>
<rect x="1375.3" y="955.9" width="94.8" height="23.8" fill="none" stroke="#f00" stroke-width="3.4" stroke-dasharray="10.5 3.6"/>
<rect x="1375.3" y="979.7" width="94.8" height="23.6" fill="none" stroke="#f00" stroke-width="3.4" stroke-dasharray="10.5 3.6"/>
<rect x="1375.3" y="1003.3" width="94.8" height="24.8" fill="none" stroke="#f00" stroke-width="3.4" stroke-dasharray="10.5 3.6"/>
<rect x="1375.3" y="1028.1" width="94.8" height="23.5" fill="none" stroke="#f00" stroke-width="3.4" stroke-dasharray="10.5 3.6"/>
<rect x="1375.3" y="1051.6" width="94.8" height="25.8" fill="none" stroke="#f00" stroke-width="3.4" stroke-dasharray="10.5 3.6"/>
<rect x="1375.3" y="1077.4" width="94.8" height="24.2" fill="none" stroke="#f00" stroke-width="3.4" stroke-dasharray="10.5 3.6"/>
<rect x="1375.3" y="1101.6" width="94.8" height="22.2" fill="none" stroke="#f00" stroke-width="3.4" stroke-dasharray="10.5 3.6"/>
<rect x="1373.7" y="1125.9" width="94.8" height="21.7" fill="none" stroke="#f00" stroke-width="3.4" stroke-dasharray="10.5 3.6"/>
<clipPath id="hm5"><rect x="1490.3" y="932.1" width="95" height="218"/></clipPath>
<g clip-path="url(#hm5)">
<rect x="1490.3" y="1101.6" width="95" height="23.3" fill="#fbfba0" stroke="none" stroke-width="0" />
<clipPath id="hm5r0"><rect x="1490.3" y="932.1" width="95" height="24.1"/></clipPath>
<g clip-path="url(#hm5r0)"><g filter="url(#blur2_0)">
<rect x="1482.3" y="924.1" width="111" height="39.8" fill="#fbfba0" stroke="none" stroke-width="0" />
<rect x="1482.3" y="924.1" width="14.14" height="14.15" fill="#f2e661" stroke="none" stroke-width="0" />
</g></g>
<clipPath id="hm5r1"><rect x="1490.3" y="955.9" width="95" height="24.1"/></clipPath>
<g clip-path="url(#hm5r1)"><g filter="url(#blur2_0)">
<rect x="1482.3" y="947.9" width="111" height="39.8" fill="#fbfba0" stroke="none" stroke-width="0" />
<rect x="1543.74" y="961.85" width="6.14" height="6.15" fill="#fac62d" stroke="none" stroke-width="0" />
<rect x="1549.67" y="961.85" width="12.07" height="6.15" fill="#fca50a" stroke="none" stroke-width="0" />
<rect x="1561.55" y="961.85" width="6.14" height="6.15" fill="#fac62d" stroke="none" stroke-width="0" />
<rect x="1567.49" y="961.85" width="6.14" height="6.15" fill="#f2e661" stroke="none" stroke-width="0" />
</g></g>
<clipPath id="hm5r2"><rect x="1490.3" y="979.7" width="95" height="23.9"/></clipPath>
<g clip-path="url(#hm5r2)"><g filter="url(#blur2_0)">
<rect x="1482.3" y="971.7" width="111" height="39.6" fill="#fbfba0" stroke="none" stroke-width="0" />
<rect x="1514.05" y="985.6" width="6.14" height="6.1" fill="#fac62d" stroke="none" stroke-width="0" />
</g></g>
<clipPath id="hm5r3"><rect x="1490.3" y="1003.3" width="95" height="25.1"/></clipPath>
<g clip-path="url(#hm5r3)"><g filter="url(#blur2_0)">
<rect x="1482.3" y="995.3" width="111" height="40.8" fill="#fbfba0" stroke="none" stroke-width="0" />
<rect x="1519.99" y="1009.5" width="18.01" height="6.4" fill="#fac62d" stroke="none" stroke-width="0" />
<rect x="1573.42" y="1015.7" width="6.14" height="6.4" fill="#f2e661" stroke="none" stroke-width="0" />
</g></g>
<clipPath id="hm5r4"><rect x="1490.3" y="1028.1" width="95" height="23.8"/></clipPath>
<g clip-path="url(#hm5r4)"><g filter="url(#blur2_0)">
<rect x="1482.3" y="1020.1" width="111" height="39.5" fill="#fbfba0" stroke="none" stroke-width="0" />
<rect x="1482.3" y="1020.1" width="14.14" height="14.07" fill="#f2e661" stroke="none" stroke-width="0" />
</g></g>
<clipPath id="hm5r5"><rect x="1490.3" y="1051.6" width="95" height="26.1"/></clipPath>
<g clip-path="url(#hm5r5)"><g filter="url(#blur2_0)">
<rect x="1482.3" y="1043.6" width="111" height="41.8" fill="#fbfba0" stroke="none" stroke-width="0" />
<rect x="1482.3" y="1043.6" width="14.14" height="14.65" fill="#fac62d" stroke="none" stroke-width="0" />
<rect x="1496.24" y="1043.6" width="6.14" height="14.65" fill="#f2e661" stroke="none" stroke-width="0" />
<rect x="1573.42" y="1043.6" width="20.07" height="14.65" fill="#f2e661" stroke="none" stroke-width="0" />
<rect x="1482.3" y="1058.05" width="14.14" height="6.65" fill="#f2e661" stroke="none" stroke-width="0" />
<rect x="1579.36" y="1058.05" width="14.14" height="6.65" fill="#f2e661" stroke="none" stroke-width="0" />
</g></g>
<clipPath id="hm5r6"><rect x="1490.3" y="1077.4" width="95" height="24.5"/></clipPath>
<g clip-path="url(#hm5r6)"><g filter="url(#blur2_0)">
<rect x="1482.3" y="1069.4" width="111" height="40.2" fill="#fbfba0" stroke="none" stroke-width="0" />
<rect x="1502.17" y="1083.45" width="18.01" height="6.25" fill="#f2e661" stroke="none" stroke-width="0" />
<rect x="1543.74" y="1083.45" width="6.14" height="6.25" fill="#f2e661" stroke="none" stroke-width="0" />
<rect x="1508.11" y="1089.5" width="6.14" height="6.25" fill="#f2e661" stroke="none" stroke-width="0" />
<rect x="1567.49" y="1089.5" width="6.14" height="6.25" fill="#f2e661" stroke="none" stroke-width="0" />
</g></g>
<clipPath id="hm5r8"><rect x="1490.3" y="1124.6" width="95" height="25.8"/></clipPath>
<g clip-path="url(#hm5r8)"><g filter="url(#blur2_0)">
<rect x="1482.3" y="1116.6" width="111" height="41.5" fill="#fbfba0" stroke="none" stroke-width="0" />
<rect x="1482.3" y="1137.35" width="14.14" height="6.58" fill="#f2e661" stroke="none" stroke-width="0" />
<rect x="1555.61" y="1137.35" width="12.07" height="6.58" fill="#f2e661" stroke="none" stroke-width="0" />
<rect x="1482.3" y="1143.72" width="20.07" height="14.57" fill="#f2e661" stroke="none" stroke-width="0" />
<rect x="1543.74" y="1143.72" width="29.89" height="14.57" fill="#f2e661" stroke="none" stroke-width="0" />
<rect x="1579.36" y="1143.72" width="14.14" height="14.57" fill="#fac62d" stroke="none" stroke-width="0" />
</g></g>
</g>
<rect x="1490.3" y="932.1" width="95" height="23.8" fill="none" stroke="#f00" stroke-width="3.4" stroke-dasharray="10.5 3.6"/>
<rect x="1490.3" y="955.9" width="95" height="23.8" fill="none" stroke="#f00" stroke-width="3.4" stroke-dasharray="10.5 3.6"/>
<rect x="1490.3" y="979.7" width="95" height="23.6" fill="none" stroke="#f00" stroke-width="3.4" stroke-dasharray="10.5 3.6"/>
<rect x="1490.3" y="1003.3" width="95" height="24.8" fill="none" stroke="#f00" stroke-width="3.4" stroke-dasharray="10.5 3.6"/>
<rect x="1490.3" y="1028.1" width="95" height="23.5" fill="none" stroke="#f00" stroke-width="3.4" stroke-dasharray="10.5 3.6"/>
<rect x="1490.3" y="1051.6" width="95" height="25.8" fill="none" stroke="#f00" stroke-width="3.4" stroke-dasharray="10.5 3.6"/>
<rect x="1490.3" y="1077.4" width="95" height="24.2" fill="none" stroke="#f00" stroke-width="3.4" stroke-dasharray="10.5 3.6"/>
<rect x="1490.3" y="1101.6" width="95" height="23" fill="none" stroke="#f00" stroke-width="3.4" stroke-dasharray="10.5 3.6"/>
<rect x="1490.3" y="1124.6" width="95" height="25.5" fill="none" stroke="#f00" stroke-width="3.4" stroke-dasharray="10.5 3.6"/>
<clipPath id="hm6"><rect x="1606.7" y="932.1" width="94" height="218"/></clipPath>
<g clip-path="url(#hm6)">
<rect x="1606.7" y="955.9" width="94" height="24.1" fill="#000000" stroke="none" stroke-width="0" />
<rect x="1606.7" y="979.7" width="94" height="23.9" fill="#000000" stroke="none" stroke-width="0" />
<rect x="1606.7" y="1003.3" width="94" height="25.1" fill="#000000" stroke="none" stroke-width="0" />
<rect x="1606.7" y="1028.1" width="94" height="23.8" fill="#000000" stroke="none" stroke-width="0" />
<rect x="1606.7" y="1051.6" width="94" height="26.1" fill="#000000" stroke="none" stroke-width="0" />
<rect x="1606.7" y="1077.4" width="94" height="24.5" fill="#000000" stroke="none" stroke-width="0" />
<rect x="1606.7" y="1101.6" width="94" height="23.3" fill="#000000" stroke="none" stroke-width="0" />
<rect x="1606.7" y="1124.6" width="94" height="25.8" fill="#000000" stroke="none" stroke-width="0" />
<clipPath id="hm6r0"><rect x="1606.7" y="932.1" width="94" height="24.1"/></clipPath>
<g clip-path="url(#hm6r0)"><g filter="url(#blur1_2)">
<rect x="1598.7" y="924.1" width="110" height="39.8" fill="#ff6000" stroke="none" stroke-width="0" />
<rect x="1598.7" y="924.1" width="14.07" height="14.15" fill="#ffffff" stroke="none" stroke-width="0" />
<rect x="1612.58" y="924.1" width="11.95" height="14.15" fill="#d9b3e0" stroke="none" stroke-width="0" />
<rect x="1688.95" y="924.1" width="6.08" height="14.15" fill="#ffff00" stroke="none" stroke-width="0" />
<rect x="1694.83" y="924.1" width="14.07" height="14.15" fill="#b0ff00" stroke="none" stroke-width="0" />
<rect x="1598.7" y="938.05" width="14.07" height="6.15" fill="#d9b3e0" stroke="none" stroke-width="0" />
<rect x="1612.58" y="938.05" width="6.08" height="6.15" fill="#ffffff" stroke="none" stroke-width="0" />
<rect x="1688.95" y="938.05" width="6.08" height="6.15" fill="#ffd000" stroke="none" stroke-width="0" />
<rect x="1694.83" y="938.05" width="14.07" height="6.15" fill="#ffff00" stroke="none" stroke-width="0" />
<rect x="1683.08" y="944" width="6.08" height="6.15" fill="#ff9000" stroke="none" stroke-width="0" />
<rect x="1694.83" y="944" width="14.07" height="6.15" fill="#ffd000" stroke="none" stroke-width="0" />
<rect x="1653.7" y="949.95" width="11.95" height="14.15" fill="#ffd000" stroke="none" stroke-width="0" />
<rect x="1694.83" y="949.95" width="14.07" height="14.15" fill="#ff9000" stroke="none" stroke-width="0" />
</g></g>
</g>
<rect x="1606.7" y="932.1" width="94" height="23.8" fill="none" stroke="#f00" stroke-width="3.4" stroke-dasharray="10.5 3.6"/>
<rect x="1606.7" y="955.9" width="94" height="23.8" fill="none" stroke="#f00" stroke-width="3.4" stroke-dasharray="10.5 3.6"/>
<rect x="1606.7" y="979.7" width="94" height="23.6" fill="none" stroke="#f00" stroke-width="3.4" stroke-dasharray="10.5 3.6"/>
<rect x="1606.7" y="1003.3" width="94" height="24.8" fill="none" stroke="#f00" stroke-width="3.4" stroke-dasharray="10.5 3.6"/>
<rect x="1606.7" y="1028.1" width="94" height="23.5" fill="none" stroke="#f00" stroke-width="3.4" stroke-dasharray="10.5 3.6"/>
<rect x="1606.7" y="1051.6" width="94" height="25.8" fill="none" stroke="#f00" stroke-width="3.4" stroke-dasharray="10.5 3.6"/>
<rect x="1606.7" y="1077.4" width="94" height="23.2" fill="none" stroke="#f00" stroke-width="3.4" stroke-dasharray="10.5 3.6"/>
<rect x="1606.7" y="1102.6" width="94" height="19.8" fill="none" stroke="#f00" stroke-width="3.4" stroke-dasharray="10.5 3.6"/>
<rect x="1606.7" y="1125.2" width="94" height="24.9" fill="none" stroke="#f00" stroke-width="3.4" stroke-dasharray="10.5 3.6"/>
<text x="1370.7" y="917" font-size="29.2" text-anchor="start" textLength="97.46" lengthAdjust="spacing">755 nm</text>
<text x="1486.23" y="917" font-size="29.2" text-anchor="start" textLength="97.33" lengthAdjust="spacing">905 nm</text>
<text x="1583.73" y="916.6" font-size="29.2" text-anchor="start" textLength="151.64" lengthAdjust="spacing">PA<tspan font-size="20.15" dy="6.7">755</tspan><tspan dy="-6.7">/PA</tspan><tspan font-size="20.15" dy="6.7">905</tspan></text>
<text x="1708.95" y="954.1" font-size="29.2" text-anchor="start" >1</text>
<text x="1707.89" y="980" font-size="29.2" text-anchor="start" >2</text>
<text x="1707.95" y="1003.6" font-size="29.2" text-anchor="start" >3</text>
<text x="1708.01" y="1028.1" font-size="29.2" text-anchor="start" >4</text>
<text x="1707.95" y="1051.8" font-size="29.2" text-anchor="start" >5</text>
<text x="1707.76" y="1075.8" font-size="29.2" text-anchor="start" >6</text>
<text x="1707.89" y="1100.2" font-size="29.2" text-anchor="start" >7</text>
<text x="1707.89" y="1126.2" font-size="29.2" text-anchor="start" >8</text>
<text x="1707.89" y="1149.5" font-size="29.2" text-anchor="start" >9</text>
<linearGradient id="cbi1" x1="0" y1="0" x2="1" y2="0"><stop offset="0" stop-color="#000004"/><stop offset="0.07" stop-color="#0c0826"/><stop offset="0.13" stop-color="#240c4f"/><stop offset="0.2" stop-color="#420a68"/><stop offset="0.27" stop-color="#5d126e"/><stop offset="0.33" stop-color="#781c6d"/><stop offset="0.4" stop-color="#932667"/><stop offset="0.47" stop-color="#ae305c"/><stop offset="0.53" stop-color="#c73e4c"/><stop offset="0.6" stop-color="#dd513a"/><stop offset="0.67" stop-color="#ed6925"/><stop offset="0.73" stop-color="#f8850f"/><stop offset="0.8" stop-color="#fca50a"/><stop offset="0.87" stop-color="#fac62d"/><stop offset="0.93" stop-color="#f2e661"/><stop offset="1" stop-color="#fbfba0"/></linearGradient>
<rect x="1393.7" y="1169.8" width="62.3" height="13.8" fill="url(#cbi1)" stroke="#555" stroke-width="1" />
<linearGradient id="cbi2" x1="0" y1="0" x2="1" y2="0"><stop offset="0" stop-color="#000004"/><stop offset="0.07" stop-color="#0c0826"/><stop offset="0.13" stop-color="#240c4f"/><stop offset="0.2" stop-color="#420a68"/><stop offset="0.27" stop-color="#5d126e"/><stop offset="0.33" stop-color="#781c6d"/><stop offset="0.4" stop-color="#932667"/><stop offset="0.47" stop-color="#ae305c"/><stop offset="0.53" stop-color="#c73e4c"/><stop offset="0.6" stop-color="#dd513a"/><stop offset="0.67" stop-color="#ed6925"/><stop offset="0.73" stop-color="#f8850f"/><stop offset="0.8" stop-color="#fca50a"/><stop offset="0.87" stop-color="#fac62d"/><stop offset="0.93" stop-color="#f2e661"/><stop offset="1" stop-color="#fbfba0"/></linearGradient>
<rect x="1510.8" y="1169" width="62.4" height="14.2" fill="url(#cbi2)" stroke="#555" stroke-width="1" />
<rect x="1623.9" y="1164.8" width="4.28" height="16.9" fill="#000000" stroke="none" stroke-width="0" />
<rect x="1627.88" y="1164.8" width="4.28" height="16.9" fill="#0000a0" stroke="none" stroke-width="0" />
<rect x="1631.86" y="1164.8" width="4.28" height="16.9" fill="#0000ff" stroke="none" stroke-width="0" />
<rect x="1635.84" y="1164.8" width="4.28" height="16.9" fill="#0060ff" stroke="none" stroke-width="0" />
<rect x="1639.83" y="1164.8" width="4.28" height="16.9" fill="#00a0ff" stroke="none" stroke-width="0" />
<rect x="1643.81" y="1164.8" width="4.28" height="16.9" fill="#00e0ff" stroke="none" stroke-width="0" />
<rect x="1647.79" y="1164.8" width="4.28" height="16.9" fill="#00ff00" stroke="none" stroke-width="0" />
<rect x="1651.77" y="1164.8" width="4.28" height="16.9" fill="#b0ff00" stroke="none" stroke-width="0" />
<rect x="1655.75" y="1164.8" width="4.28" height="16.9" fill="#ffff00" stroke="none" stroke-width="0" />
<rect x="1659.73" y="1164.8" width="4.28" height="16.9" fill="#ffd000" stroke="none" stroke-width="0" />
<rect x="1663.71" y="1164.8" width="4.28" height="16.9" fill="#ff9000" stroke="none" stroke-width="0" />
<rect x="1667.69" y="1164.8" width="4.28" height="16.9" fill="#ff6000" stroke="none" stroke-width="0" />
<rect x="1671.67" y="1164.8" width="4.28" height="16.9" fill="#ff0000" stroke="none" stroke-width="0" />
<rect x="1675.66" y="1164.8" width="4.28" height="16.9" fill="#ff00c0" stroke="none" stroke-width="0" />
<rect x="1679.64" y="1164.8" width="4.28" height="16.9" fill="#d9b3e0" stroke="none" stroke-width="0" />
<rect x="1683.62" y="1164.8" width="4.28" height="16.9" fill="#ffffff" stroke="none" stroke-width="0" />
<rect x="1623.9" y="1164.8" width="63.7" height="16.9" fill="none" stroke="#222" stroke-width="0.9" stroke-dasharray="1.2 1.2"/>
<text x="1375.2" y="1181.4" font-size="29.2" text-anchor="start" >L</text>
<text x="1455.91" y="1181.9" font-size="29.2" text-anchor="start" >H</text>
<text x="1492.05" y="1182.8" font-size="29.2" text-anchor="start" >L</text>
<text x="1572.86" y="1183.3" font-size="29.2" text-anchor="start" >H</text>
<text x="1602" y="1183.9" font-size="29.2" text-anchor="start" >L</text>
<text x="1688.06" y="1184.8" font-size="29.2" text-anchor="start" >H</text>
</svg>
</body></html>
